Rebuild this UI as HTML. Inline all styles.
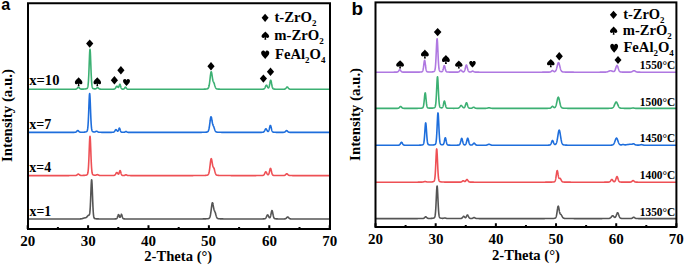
<!DOCTYPE html>
<html><head><meta charset="utf-8"><style>
html,body{margin:0;padding:0;background:#fff;width:685px;height:265px;overflow:hidden;}
svg{display:block;}
</style></head><body>
<svg width="685" height="265" viewBox="0 0 685 265"><rect width="100%" height="100%" fill="#fff"/><g fill="none" stroke-width="1.6" stroke-linejoin="round"><path stroke="#3cb073" d="M28.00,89.30 L28.50,89.30 L29.00,89.30 L29.50,89.30 L30.00,89.30 L30.50,89.30 L31.00,89.30 L31.50,89.30 L32.00,89.30 L32.50,89.30 L33.00,89.30 L33.50,89.30 L34.00,89.30 L34.50,89.30 L35.00,89.30 L35.50,89.30 L36.00,89.30 L36.50,89.30 L37.00,89.30 L37.50,89.30 L38.00,89.30 L38.50,89.30 L39.00,89.30 L39.50,89.30 L40.00,89.30 L40.50,89.30 L41.00,89.30 L41.50,89.30 L42.00,89.30 L42.50,89.30 L43.00,89.30 L43.50,89.30 L44.00,89.29 L44.50,89.29 L45.00,89.29 L45.50,89.29 L46.00,89.29 L46.50,89.29 L47.00,89.29 L47.50,89.29 L48.00,89.29 L48.50,89.29 L49.00,89.29 L49.50,89.29 L50.00,89.29 L50.50,89.29 L51.00,89.29 L51.50,89.29 L52.00,89.29 L52.50,89.29 L53.00,89.29 L53.50,89.29 L54.00,89.29 L54.50,89.29 L55.00,89.29 L55.50,89.29 L56.00,89.29 L56.50,89.29 L57.00,89.29 L57.50,89.29 L58.00,89.29 L58.50,89.29 L59.00,89.29 L59.50,89.29 L60.00,89.29 L60.50,89.29 L61.00,89.29 L61.50,89.29 L62.00,89.29 L62.50,89.29 L63.00,89.29 L63.50,89.28 L64.00,89.28 L64.50,89.28 L65.00,89.28 L65.50,89.28 L66.00,89.28 L66.50,89.28 L67.00,89.28 L67.50,89.28 L68.00,89.28 L68.50,89.28 L69.00,89.27 L69.50,89.27 L70.00,89.27 L70.50,89.27 L71.00,89.27 L71.50,89.26 L72.00,89.26 L72.50,89.26 L73.00,89.25 L73.50,89.25 L74.00,89.24 L74.50,89.23 L74.95,89.22 L75.00,89.22 L75.09,89.21 L75.24,89.21 L75.38,89.20 L75.50,89.19 L75.53,89.18 L75.67,89.17 L75.81,89.14 L75.96,89.11 L76.00,89.10 L76.10,89.08 L76.24,89.03 L76.39,88.96 L76.50,88.91 L76.53,88.89 L76.67,88.79 L76.82,88.68 L76.96,88.55 L77.00,88.52 L77.11,88.41 L77.25,88.25 L77.39,88.08 L77.50,87.95 L77.54,87.91 L77.68,87.74 L77.83,87.58 L77.97,87.44 L78.00,87.41 L78.11,87.33 L78.26,87.26 L78.40,87.24 L78.50,87.25 L78.54,87.26 L78.69,87.33 L78.83,87.43 L78.97,87.57 L79.00,87.59 L79.12,87.72 L79.26,87.89 L79.41,88.06 L79.50,88.17 L79.55,88.22 L79.69,88.38 L79.84,88.52 L79.98,88.65 L80.00,88.66 L80.12,88.76 L80.27,88.85 L80.41,88.92 L80.50,88.96 L80.56,88.98 L80.70,89.03 L80.84,89.06 L80.99,89.09 L81.00,89.09 L81.13,89.10 L81.28,89.12 L81.42,89.13 L81.50,89.13 L81.56,89.13 L81.71,89.13 L81.85,89.13 L82.00,89.13 L82.50,89.13 L83.00,89.11 L83.50,89.09 L84.00,89.06 L84.50,89.03 L85.00,88.98 L85.50,88.91 L86.00,88.82 L86.50,88.68 L87.00,88.43 L87.12,88.32 L87.25,88.19 L87.38,88.01 L87.50,87.77 L87.62,87.45 L87.75,87.02 L87.88,86.45 L88.00,85.70 L88.12,84.73 L88.25,83.50 L88.38,81.98 L88.50,80.12 L88.62,77.92 L88.75,75.37 L88.88,72.49 L89.00,69.34 L89.12,65.99 L89.25,62.57 L89.38,59.20 L89.50,56.06 L89.62,53.34 L89.75,51.21 L89.88,49.85 L90.00,49.39 L90.12,49.85 L90.25,51.21 L90.38,53.33 L90.50,56.06 L90.62,59.20 L90.75,62.56 L90.88,65.99 L91.00,69.33 L91.12,72.49 L91.25,75.36 L91.38,77.91 L91.50,80.12 L91.62,81.97 L91.75,83.50 L91.88,84.72 L92.00,85.69 L92.12,86.44 L92.25,87.01 L92.38,87.44 L92.50,87.76 L92.62,88.00 L92.75,88.18 L92.88,88.31 L93.00,88.42 L93.50,88.66 L94.00,88.79 L94.15,88.82 L94.29,88.85 L94.44,88.87 L94.50,88.87 L94.58,88.88 L94.72,88.89 L94.87,88.90 L95.00,88.90 L95.01,88.90 L95.16,88.90 L95.30,88.88 L95.44,88.86 L95.50,88.85 L95.59,88.83 L95.73,88.78 L95.88,88.72 L96.00,88.66 L96.02,88.65 L96.16,88.57 L96.31,88.47 L96.45,88.36 L96.50,88.32 L96.59,88.24 L96.74,88.12 L96.88,88.00 L97.00,87.90 L97.03,87.89 L97.17,87.79 L97.31,87.72 L97.46,87.67 L97.50,87.66 L97.60,87.66 L97.74,87.68 L97.89,87.74 L98.00,87.80 L98.03,87.82 L98.17,87.93 L98.32,88.05 L98.46,88.18 L98.50,88.21 L98.61,88.31 L98.75,88.44 L98.89,88.56 L99.00,88.65 L99.04,88.67 L99.18,88.77 L99.33,88.86 L99.47,88.93 L99.50,88.94 L99.61,88.99 L99.76,89.04 L99.90,89.08 L100.00,89.10 L100.04,89.11 L100.19,89.13 L100.33,89.15 L100.47,89.16 L100.50,89.17 L100.62,89.17 L100.76,89.18 L100.91,89.19 L101.00,89.19 L101.05,89.19 L101.50,89.21 L102.00,89.22 L102.50,89.22 L103.00,89.23 L103.50,89.24 L104.00,89.24 L104.50,89.24 L105.00,89.25 L105.50,89.25 L106.00,89.25 L106.50,89.25 L107.00,89.25 L107.50,89.25 L108.00,89.25 L108.50,89.25 L109.00,89.25 L109.50,89.25 L110.00,89.25 L110.50,89.25 L111.00,89.24 L111.50,89.24 L112.00,89.23 L112.50,89.22 L113.00,89.21 L113.30,89.20 L113.45,89.19 L113.50,89.19 L113.60,89.18 L113.75,89.16 L113.90,89.14 L114.00,89.13 L114.05,89.12 L114.20,89.09 L114.35,89.04 L114.50,88.98 L114.65,88.91 L114.80,88.82 L114.95,88.70 L115.00,88.66 L115.10,88.56 L115.25,88.39 L115.40,88.20 L115.50,88.05 L115.55,87.98 L115.70,87.74 L115.85,87.48 L116.00,87.22 L116.15,86.97 L116.30,86.73 L116.45,86.52 L116.50,86.46 L116.60,86.35 L116.75,86.24 L116.90,86.20 L117.00,86.21 L117.05,86.22 L117.20,86.31 L117.31,86.42 L117.35,86.46 L117.42,86.54 L117.50,86.63 L117.54,86.68 L117.65,86.83 L117.76,86.98 L117.80,87.03 L117.88,87.12 L117.95,87.21 L117.99,87.25 L118.00,87.26 L118.10,87.34 L118.21,87.40 L118.25,87.41 L118.33,87.42 L118.40,87.40 L118.44,87.39 L118.50,87.35 L118.55,87.30 L118.66,87.16 L118.70,87.10 L118.78,86.95 L118.85,86.79 L118.89,86.70 L119.00,86.40 L119.11,86.05 L119.15,85.94 L119.22,85.69 L119.30,85.45 L119.34,85.33 L119.45,84.99 L119.50,84.84 L119.56,84.68 L119.60,84.60 L119.67,84.45 L119.75,84.34 L119.79,84.30 L119.90,84.26 L120.00,84.32 L120.01,84.34 L120.05,84.38 L120.12,84.51 L120.20,84.68 L120.24,84.78 L120.35,85.12 L120.46,85.52 L120.50,85.65 L120.58,85.93 L120.69,86.36 L120.80,86.77 L120.91,87.16 L121.00,87.44 L121.03,87.52 L121.14,87.83 L121.25,88.10 L121.36,88.33 L121.47,88.52 L121.50,88.56 L121.59,88.67 L121.70,88.79 L121.81,88.88 L121.92,88.95 L122.00,88.99 L122.04,89.01 L122.15,89.05 L122.26,89.07 L122.38,89.10 L122.49,89.11 L122.50,89.11 L122.60,89.12 L122.80,89.13 L122.91,89.13 L123.00,89.13 L123.03,89.13 L123.14,89.13 L123.25,89.12 L123.36,89.11 L123.47,89.09 L123.50,89.09 L123.59,89.07 L123.70,89.03 L123.81,88.98 L123.92,88.92 L124.00,88.87 L124.04,88.85 L124.15,88.75 L124.26,88.64 L124.38,88.51 L124.49,88.36 L124.50,88.34 L124.60,88.19 L124.71,88.02 L124.83,87.84 L124.94,87.66 L125.00,87.57 L125.05,87.50 L125.16,87.36 L125.28,87.25 L125.39,87.18 L125.50,87.16 L125.61,87.18 L125.72,87.25 L125.84,87.37 L125.95,87.51 L126.00,87.58 L126.06,87.68 L126.17,87.86 L126.29,88.04 L126.40,88.21 L126.50,88.36 L126.51,88.38 L126.62,88.53 L126.74,88.67 L126.85,88.79 L126.96,88.88 L127.00,88.91 L127.08,88.96 L127.19,89.03 L127.30,89.08 L127.41,89.12 L127.50,89.15 L127.53,89.15 L127.64,89.18 L127.75,89.19 L127.86,89.21 L127.97,89.22 L128.00,89.22 L128.09,89.22 L128.20,89.23 L128.50,89.24 L129.00,89.25 L129.50,89.26 L130.00,89.26 L130.50,89.27 L131.00,89.27 L131.50,89.27 L132.00,89.28 L132.50,89.28 L133.00,89.28 L133.50,89.28 L134.00,89.28 L134.50,89.28 L135.00,89.28 L135.50,89.29 L136.00,89.29 L136.50,89.29 L137.00,89.29 L137.50,89.29 L138.00,89.29 L138.50,89.29 L139.00,89.29 L139.50,89.29 L140.00,89.29 L140.50,89.29 L141.00,89.29 L141.50,89.29 L142.00,89.29 L142.50,89.29 L143.00,89.29 L143.50,89.29 L144.00,89.29 L144.50,89.29 L145.00,89.29 L145.50,89.29 L146.00,89.29 L146.50,89.29 L147.00,89.29 L147.50,89.29 L148.00,89.29 L148.50,89.29 L149.00,89.29 L149.50,89.29 L150.00,89.29 L150.50,89.29 L151.00,89.29 L151.50,89.29 L152.00,89.29 L152.50,89.29 L153.00,89.29 L153.50,89.29 L154.00,89.29 L154.50,89.29 L155.00,89.29 L155.50,89.29 L156.00,89.29 L156.50,89.29 L157.00,89.29 L157.50,89.29 L158.00,89.29 L158.50,89.29 L159.00,89.29 L159.50,89.29 L160.00,89.29 L160.50,89.29 L161.00,89.29 L161.50,89.29 L162.00,89.29 L162.50,89.29 L163.00,89.29 L163.50,89.29 L164.00,89.29 L164.50,89.29 L165.00,89.29 L165.50,89.29 L166.00,89.29 L166.50,89.29 L167.00,89.29 L167.50,89.29 L168.00,89.29 L168.50,89.29 L169.00,89.29 L169.50,89.29 L170.00,89.29 L170.50,89.29 L171.00,89.29 L171.50,89.29 L172.00,89.29 L172.50,89.29 L173.00,89.29 L173.50,89.29 L174.00,89.29 L174.50,89.29 L175.00,89.29 L175.50,89.29 L176.00,89.29 L176.50,89.29 L177.00,89.29 L177.50,89.29 L178.00,89.29 L178.50,89.29 L179.00,89.29 L179.50,89.29 L180.00,89.29 L180.50,89.29 L181.00,89.29 L181.50,89.29 L182.00,89.29 L182.50,89.29 L183.00,89.29 L183.50,89.29 L184.00,89.29 L184.50,89.29 L185.00,89.29 L185.50,89.29 L186.00,89.29 L186.50,89.29 L187.00,89.29 L187.50,89.28 L188.00,89.28 L188.50,89.28 L189.00,89.28 L189.50,89.28 L190.00,89.28 L190.50,89.28 L191.00,89.28 L191.50,89.28 L192.00,89.28 L192.50,89.28 L193.00,89.28 L193.50,89.27 L194.00,89.27 L194.50,89.27 L195.00,89.27 L195.50,89.27 L196.00,89.27 L196.50,89.26 L197.00,89.26 L197.50,89.26 L198.00,89.26 L198.50,89.25 L199.00,89.25 L199.50,89.25 L200.00,89.24 L200.50,89.24 L201.00,89.23 L201.50,89.22 L202.00,89.22 L202.50,89.21 L203.00,89.20 L203.50,89.18 L204.00,89.17 L204.50,89.15 L205.00,89.12 L205.50,89.10 L206.00,89.06 L206.50,89.01 L207.00,88.93 L207.15,88.90 L207.32,88.85 L207.49,88.79 L207.50,88.78 L207.66,88.71 L207.82,88.61 L207.99,88.46 L208.00,88.46 L208.16,88.28 L208.33,88.03 L208.50,87.70 L208.67,87.28 L208.84,86.75 L209.00,86.12 L209.01,86.09 L209.18,85.29 L209.34,84.33 L209.50,83.31 L209.51,83.23 L209.68,81.98 L209.85,80.62 L210.00,79.33 L210.02,79.16 L210.19,77.67 L210.30,76.70 L210.36,76.22 L210.45,75.44 L210.50,75.04 L210.53,74.85 L210.60,74.29 L210.69,73.65 L210.75,73.30 L210.86,72.70 L210.90,72.53 L211.00,72.16 L211.03,72.07 L211.05,72.03 L211.20,71.81 L211.35,71.90 L211.37,71.93 L211.50,72.27 L211.54,72.40 L211.65,72.89 L211.71,73.17 L211.80,73.70 L211.88,74.16 L211.95,74.64 L212.00,74.98 L212.04,75.27 L212.10,75.66 L212.21,76.42 L212.25,76.68 L212.38,77.55 L212.40,77.67 L212.50,78.30 L212.55,78.59 L212.70,79.41 L212.72,79.51 L212.85,80.11 L212.89,80.27 L213.00,80.70 L213.06,80.89 L213.15,81.17 L213.22,81.37 L213.30,81.56 L213.39,81.76 L213.45,81.88 L213.50,81.97 L213.56,82.09 L213.60,82.16 L213.73,82.41 L213.75,82.44 L213.90,82.75 L214.00,82.98 L214.05,83.10 L214.07,83.15 L214.20,83.50 L214.24,83.60 L214.35,83.94 L214.41,84.12 L214.50,84.42 L214.57,84.67 L214.65,84.92 L214.74,85.24 L214.80,85.43 L214.91,85.80 L214.95,85.92 L215.00,86.08 L215.08,86.33 L215.10,86.39 L215.25,86.82 L215.40,87.21 L215.50,87.45 L215.55,87.56 L215.70,87.86 L215.85,88.11 L216.00,88.32 L216.15,88.49 L216.30,88.62 L216.45,88.73 L216.50,88.76 L216.60,88.81 L216.75,88.87 L216.90,88.92 L217.00,88.95 L217.05,88.96 L217.20,88.99 L217.35,89.02 L217.50,89.04 L218.00,89.09 L218.50,89.12 L219.00,89.15 L219.50,89.17 L220.00,89.18 L220.50,89.19 L221.00,89.21 L221.50,89.22 L222.00,89.22 L222.50,89.23 L223.00,89.24 L223.50,89.24 L224.00,89.25 L224.50,89.25 L225.00,89.25 L225.50,89.26 L226.00,89.26 L226.50,89.26 L227.00,89.26 L227.50,89.27 L228.00,89.27 L228.50,89.27 L229.00,89.27 L229.50,89.27 L230.00,89.27 L230.50,89.27 L231.00,89.28 L231.50,89.28 L232.00,89.28 L232.50,89.28 L233.00,89.28 L233.50,89.28 L234.00,89.28 L234.50,89.28 L235.00,89.28 L235.50,89.28 L236.00,89.28 L236.50,89.28 L237.00,89.28 L237.50,89.28 L238.00,89.28 L238.50,89.28 L239.00,89.29 L239.50,89.29 L240.00,89.29 L240.50,89.29 L241.00,89.29 L241.50,89.29 L242.00,89.29 L242.50,89.29 L243.00,89.29 L243.50,89.29 L244.00,89.29 L244.50,89.29 L245.00,89.29 L245.50,89.29 L246.00,89.29 L246.50,89.29 L247.00,89.29 L247.50,89.29 L248.00,89.29 L248.50,89.29 L249.00,89.29 L249.50,89.28 L250.00,89.28 L250.50,89.28 L251.00,89.28 L251.50,89.28 L252.00,89.28 L252.50,89.28 L253.00,89.28 L253.50,89.28 L254.00,89.28 L254.50,89.28 L255.00,89.28 L255.50,89.28 L256.00,89.27 L256.50,89.27 L257.00,89.27 L257.50,89.27 L258.00,89.27 L258.50,89.26 L259.00,89.26 L259.50,89.25 L260.00,89.25 L260.50,89.24 L261.00,89.23 L261.50,89.22 L262.00,89.21 L262.50,89.19 L262.80,89.18 L262.95,89.16 L263.00,89.16 L263.10,89.15 L263.25,89.13 L263.40,89.10 L263.50,89.08 L263.55,89.07 L263.70,89.02 L263.85,88.97 L264.00,88.89 L264.15,88.79 L264.30,88.66 L264.45,88.51 L264.50,88.45 L264.60,88.32 L264.75,88.10 L264.90,87.84 L265.00,87.65 L265.05,87.55 L265.20,87.23 L265.35,86.89 L265.50,86.54 L265.65,86.20 L265.80,85.88 L265.95,85.60 L266.00,85.52 L266.10,85.38 L266.25,85.24 L266.40,85.18 L266.50,85.20 L266.55,85.22 L266.70,85.35 L266.85,85.55 L267.00,85.82 L267.15,86.12 L267.30,86.44 L267.40,86.65 L267.45,86.76 L267.50,86.86 L267.54,86.94 L267.60,87.06 L267.68,87.21 L267.75,87.34 L267.81,87.45 L267.90,87.58 L267.95,87.65 L268.00,87.71 L268.05,87.76 L268.09,87.80 L268.20,87.88 L268.23,87.90 L268.35,87.93 L268.36,87.94 L268.50,87.91 L268.64,87.80 L268.65,87.79 L268.77,87.62 L268.80,87.57 L268.91,87.35 L268.95,87.25 L269.00,87.12 L269.05,86.98 L269.10,86.83 L269.19,86.53 L269.25,86.29 L269.32,85.99 L269.40,85.66 L269.46,85.37 L269.50,85.18 L269.55,84.93 L269.60,84.67 L269.70,84.14 L269.74,83.93 L269.85,83.31 L269.88,83.17 L270.00,82.49 L270.01,82.43 L270.15,81.72 L270.29,81.12 L270.43,80.64 L270.50,80.45 L270.56,80.34 L270.70,80.24 L270.84,80.34 L270.98,80.65 L271.00,80.73 L271.11,81.14 L271.25,81.75 L271.39,82.46 L271.50,83.09 L271.52,83.23 L271.66,84.00 L271.80,84.76 L271.94,85.47 L272.00,85.77 L272.07,86.12 L272.21,86.70 L272.35,87.20 L272.49,87.62 L272.50,87.65 L272.62,87.96 L272.76,88.24 L272.90,88.46 L273.00,88.59 L273.04,88.63 L273.18,88.76 L273.31,88.86 L273.45,88.93 L273.50,88.95 L273.59,88.98 L273.73,89.02 L273.86,89.06 L274.00,89.08 L274.50,89.14 L275.00,89.17 L275.50,89.19 L276.00,89.21 L276.50,89.22 L277.00,89.23 L277.50,89.24 L278.00,89.24 L278.50,89.25 L279.00,89.25 L279.50,89.25 L280.00,89.25 L280.50,89.26 L281.00,89.26 L281.50,89.26 L282.00,89.25 L282.50,89.25 L283.00,89.24 L283.50,89.23 L283.60,89.23 L283.75,89.23 L283.90,89.22 L284.00,89.21 L284.05,89.21 L284.20,89.20 L284.35,89.18 L284.50,89.15 L284.65,89.12 L284.80,89.08 L284.95,89.02 L285.00,89.00 L285.10,88.95 L285.25,88.86 L285.40,88.76 L285.50,88.67 L285.55,88.63 L285.70,88.48 L285.85,88.32 L286.00,88.14 L286.15,87.94 L286.30,87.75 L286.45,87.55 L286.50,87.49 L286.60,87.37 L286.75,87.21 L286.90,87.09 L287.00,87.03 L287.05,87.01 L287.20,86.99 L287.35,87.01 L287.50,87.09 L287.65,87.22 L287.80,87.37 L287.95,87.55 L288.00,87.62 L288.10,87.75 L288.25,87.95 L288.40,88.14 L288.50,88.26 L288.55,88.32 L288.70,88.49 L288.85,88.63 L289.00,88.76 L289.15,88.87 L289.30,88.96 L289.45,89.03 L289.50,89.05 L289.60,89.08 L289.75,89.13 L289.90,89.16 L290.00,89.18 L290.05,89.18 L290.20,89.20 L290.35,89.22 L290.50,89.23 L290.65,89.24 L290.80,89.24 L291.00,89.25 L291.50,89.26 L292.00,89.26 L292.50,89.27 L293.00,89.27 L293.50,89.28 L294.00,89.28 L294.50,89.28 L295.00,89.28 L295.50,89.28 L296.00,89.29 L296.50,89.29 L297.00,89.29 L297.50,89.29 L298.00,89.29 L298.50,89.29 L299.00,89.29 L299.50,89.29 L300.00,89.29 L300.50,89.29 L301.00,89.29 L301.50,89.29 L302.00,89.29 L302.50,89.29 L303.00,89.29 L303.50,89.29 L304.00,89.29 L304.50,89.29 L305.00,89.29 L305.50,89.29 L306.00,89.29 L306.50,89.29 L307.00,89.29 L307.50,89.30 L308.00,89.30 L308.50,89.30 L309.00,89.30 L309.50,89.30 L310.00,89.30 L310.50,89.30 L311.00,89.30 L311.50,89.30 L312.00,89.30 L312.50,89.30 L313.00,89.30 L313.50,89.30 L314.00,89.30 L314.50,89.30 L315.00,89.30 L315.50,89.30 L316.00,89.30 L316.50,89.30 L317.00,89.30 L317.50,89.30 L318.00,89.30 L318.50,89.30 L319.00,89.30 L319.50,89.30 L320.00,89.30 L320.50,89.30 L321.00,89.30 L321.50,89.30 L322.00,89.30 L322.50,89.30 L323.00,89.30 L323.50,89.30 L324.00,89.30 L324.50,89.30 L325.00,89.30 L325.50,89.30 L326.00,89.30 L326.50,89.30 L327.00,89.30 L327.50,89.30 L328.00,89.30 L328.50,89.30 L329.00,89.30 L329.50,89.30 L330.00,89.30"/><path stroke="#1e6edc" d="M28.00,132.40 L28.50,132.40 L29.00,132.40 L29.50,132.40 L30.00,132.40 L30.50,132.40 L31.00,132.40 L31.50,132.40 L32.00,132.40 L32.50,132.40 L33.00,132.40 L33.50,132.40 L34.00,132.40 L34.50,132.40 L35.00,132.40 L35.50,132.40 L36.00,132.40 L36.50,132.40 L37.00,132.40 L37.50,132.40 L38.00,132.40 L38.50,132.40 L39.00,132.40 L39.50,132.40 L40.00,132.40 L40.50,132.40 L41.00,132.40 L41.50,132.40 L42.00,132.40 L42.50,132.40 L43.00,132.40 L43.50,132.40 L44.00,132.40 L44.50,132.40 L45.00,132.39 L45.50,132.39 L46.00,132.39 L46.50,132.39 L47.00,132.39 L47.50,132.39 L48.00,132.39 L48.50,132.39 L49.00,132.39 L49.50,132.39 L50.00,132.39 L50.50,132.39 L51.00,132.39 L51.50,132.39 L52.00,132.39 L52.50,132.39 L53.00,132.39 L53.50,132.39 L54.00,132.39 L54.50,132.39 L55.00,132.39 L55.50,132.39 L56.00,132.39 L56.50,132.39 L57.00,132.39 L57.50,132.39 L58.00,132.39 L58.50,132.39 L59.00,132.39 L59.50,132.39 L60.00,132.39 L60.50,132.39 L61.00,132.39 L61.50,132.39 L62.00,132.39 L62.50,132.39 L63.00,132.39 L63.50,132.39 L64.00,132.38 L64.50,132.38 L65.00,132.38 L65.50,132.38 L66.00,132.38 L66.50,132.38 L67.00,132.38 L67.50,132.38 L68.00,132.38 L68.50,132.38 L69.00,132.37 L69.50,132.37 L70.00,132.37 L70.50,132.37 L71.00,132.37 L71.50,132.36 L72.00,132.36 L72.50,132.36 L73.00,132.35 L73.50,132.34 L74.00,132.34 L74.35,132.33 L74.49,132.32 L74.50,132.32 L74.64,132.31 L74.78,132.31 L74.92,132.29 L75.00,132.29 L75.07,132.28 L75.21,132.26 L75.36,132.23 L75.50,132.20 L75.64,132.15 L75.79,132.10 L75.93,132.03 L76.00,131.99 L76.08,131.94 L76.22,131.84 L76.36,131.73 L76.50,131.60 L76.51,131.60 L76.65,131.45 L76.79,131.30 L76.94,131.14 L77.00,131.08 L77.08,130.99 L77.22,130.85 L77.37,130.72 L77.50,130.63 L77.51,130.63 L77.66,130.57 L77.80,130.54 L77.94,130.56 L78.00,130.58 L78.09,130.62 L78.23,130.72 L78.38,130.84 L78.50,130.96 L78.52,130.98 L78.66,131.13 L78.81,131.28 L78.95,131.43 L79.00,131.48 L79.09,131.57 L79.24,131.70 L79.38,131.81 L79.50,131.89 L79.53,131.91 L79.67,131.99 L79.81,132.06 L79.96,132.11 L80.00,132.12 L80.10,132.15 L80.24,132.18 L80.39,132.21 L80.50,132.22 L80.53,132.22 L80.67,132.23 L80.82,132.24 L80.96,132.25 L81.00,132.25 L81.11,132.25 L81.25,132.25 L81.50,132.25 L82.00,132.24 L82.50,132.23 L83.00,132.21 L83.50,132.18 L84.00,132.15 L84.50,132.10 L85.00,132.04 L85.50,131.96 L86.00,131.84 L86.50,131.65 L86.65,131.55 L86.78,131.45 L86.90,131.32 L87.00,131.18 L87.03,131.14 L87.15,130.91 L87.28,130.60 L87.40,130.18 L87.50,129.75 L87.53,129.63 L87.65,128.90 L87.78,127.96 L87.90,126.76 L88.00,125.60 L88.03,125.28 L88.15,123.48 L88.28,121.33 L88.40,118.85 L88.50,116.64 L88.53,116.05 L88.65,112.99 L88.78,109.74 L88.90,106.40 L89.00,103.77 L89.03,103.13 L89.15,100.08 L89.28,97.43 L89.40,95.36 L89.50,94.24 L89.53,94.04 L89.65,93.59 L89.78,94.04 L89.90,95.36 L90.00,96.96 L90.03,97.43 L90.15,100.08 L90.28,103.13 L90.40,106.40 L90.50,109.07 L90.53,109.73 L90.65,112.99 L90.78,116.05 L90.90,118.85 L91.00,120.86 L91.03,121.33 L91.15,123.47 L91.28,125.28 L91.40,126.76 L91.50,127.74 L91.53,127.95 L91.65,128.89 L91.78,129.62 L91.90,130.17 L92.00,130.52 L92.03,130.59 L92.15,130.90 L92.28,131.14 L92.40,131.31 L92.50,131.42 L92.53,131.44 L92.65,131.54 L93.00,131.73 L93.15,131.78 L93.29,131.82 L93.44,131.86 L93.50,131.87 L93.58,131.89 L93.72,131.92 L93.87,131.94 L94.00,131.95 L94.01,131.95 L94.16,131.96 L94.30,131.96 L94.44,131.96 L94.50,131.95 L94.59,131.94 L94.73,131.92 L94.88,131.89 L95.00,131.86 L95.02,131.85 L95.16,131.80 L95.31,131.74 L95.45,131.67 L95.50,131.65 L95.59,131.60 L95.74,131.52 L95.88,131.45 L96.00,131.39 L96.03,131.38 L96.17,131.32 L96.31,131.27 L96.46,131.24 L96.50,131.24 L96.60,131.24 L96.74,131.26 L96.89,131.29 L97.00,131.34 L97.03,131.35 L97.17,131.43 L97.32,131.51 L97.46,131.60 L97.50,131.62 L97.61,131.69 L97.75,131.78 L97.89,131.86 L98.00,131.92 L98.04,131.94 L98.18,132.00 L98.33,132.06 L98.47,132.11 L98.50,132.12 L98.61,132.15 L98.76,132.19 L98.90,132.21 L99.00,132.23 L99.04,132.24 L99.19,132.25 L99.33,132.27 L99.47,132.28 L99.50,132.28 L99.62,132.28 L99.76,132.29 L99.91,132.30 L100.00,132.30 L100.05,132.30 L100.50,132.31 L101.00,132.32 L101.50,132.33 L102.00,132.33 L102.50,132.34 L103.00,132.34 L103.50,132.35 L104.00,132.35 L104.50,132.35 L105.00,132.35 L105.50,132.35 L106.00,132.35 L106.50,132.36 L107.00,132.36 L107.50,132.36 L108.00,132.36 L108.50,132.36 L109.00,132.35 L109.50,132.35 L110.00,132.35 L110.50,132.35 L111.00,132.34 L111.50,132.33 L112.00,132.32 L112.40,132.31 L112.50,132.31 L112.55,132.30 L112.70,132.29 L112.85,132.28 L113.00,132.26 L113.15,132.24 L113.30,132.21 L113.45,132.17 L113.50,132.16 L113.60,132.12 L113.75,132.05 L113.90,131.97 L114.00,131.90 L114.05,131.87 L114.20,131.74 L114.35,131.59 L114.50,131.41 L114.65,131.22 L114.80,131.00 L114.95,130.78 L115.00,130.70 L115.10,130.54 L115.25,130.31 L115.40,130.10 L115.50,129.97 L115.55,129.91 L115.70,129.76 L115.85,129.67 L116.00,129.63 L116.15,129.66 L116.30,129.74 L116.45,129.88 L116.50,129.93 L116.60,130.05 L116.70,130.19 L116.75,130.25 L116.81,130.34 L116.90,130.47 L116.92,130.50 L117.00,130.60 L117.04,130.66 L117.05,130.67 L117.15,130.80 L117.20,130.86 L117.26,130.93 L117.35,131.02 L117.38,131.04 L117.49,131.13 L117.50,131.14 L117.60,131.18 L117.65,131.20 L117.71,131.20 L117.80,131.19 L117.83,131.18 L117.94,131.11 L117.95,131.10 L118.00,131.05 L118.05,131.00 L118.10,130.93 L118.16,130.83 L118.25,130.68 L118.28,130.62 L118.39,130.37 L118.40,130.34 L118.50,130.08 L118.55,129.94 L118.61,129.76 L118.70,129.50 L118.72,129.43 L118.84,129.09 L118.85,129.06 L118.95,128.78 L119.00,128.65 L119.06,128.51 L119.15,128.33 L119.17,128.29 L119.29,128.16 L119.30,128.15 L119.40,128.12 L119.45,128.13 L119.50,128.16 L119.51,128.17 L119.60,128.28 L119.62,128.32 L119.74,128.55 L119.85,128.84 L119.96,129.17 L120.00,129.29 L120.08,129.53 L120.19,129.89 L120.30,130.25 L120.41,130.58 L120.50,130.82 L120.53,130.88 L120.64,131.16 L120.75,131.39 L120.86,131.59 L120.97,131.75 L121.00,131.78 L121.09,131.88 L121.20,131.98 L121.31,132.06 L121.42,132.12 L121.50,132.15 L121.54,132.17 L121.65,132.20 L121.76,132.23 L121.88,132.25 L121.99,132.26 L122.00,132.26 L122.10,132.27 L122.50,132.30 L123.00,132.31 L123.30,132.32 L123.41,132.32 L123.50,132.32 L123.53,132.32 L123.64,132.31 L123.75,132.31 L123.86,132.31 L123.97,132.30 L124.00,132.30 L124.09,132.29 L124.20,132.27 L124.31,132.25 L124.42,132.22 L124.50,132.20 L124.54,132.19 L124.65,132.15 L124.76,132.10 L124.88,132.05 L124.99,131.98 L125.00,131.98 L125.10,131.91 L125.21,131.84 L125.33,131.76 L125.44,131.69 L125.50,131.65 L125.55,131.62 L125.66,131.56 L125.78,131.51 L125.89,131.48 L126.00,131.47 L126.11,131.48 L126.22,131.51 L126.34,131.56 L126.45,131.62 L126.50,131.65 L126.56,131.69 L126.67,131.77 L126.79,131.85 L126.90,131.92 L127.00,131.99 L127.01,132.00 L127.12,132.06 L127.24,132.12 L127.35,132.17 L127.46,132.21 L127.50,132.22 L127.58,132.25 L127.69,132.27 L127.80,132.30 L127.91,132.31 L128.00,132.32 L128.03,132.33 L128.14,132.34 L128.25,132.35 L128.36,132.35 L128.47,132.36 L128.50,132.36 L128.59,132.36 L128.70,132.36 L129.00,132.37 L129.50,132.37 L130.00,132.38 L130.50,132.38 L131.00,132.38 L131.50,132.38 L132.00,132.38 L132.50,132.38 L133.00,132.38 L133.50,132.39 L134.00,132.39 L134.50,132.39 L135.00,132.39 L135.50,132.39 L136.00,132.39 L136.50,132.39 L137.00,132.39 L137.50,132.39 L138.00,132.39 L138.50,132.39 L139.00,132.39 L139.50,132.39 L140.00,132.39 L140.50,132.39 L141.00,132.39 L141.50,132.39 L142.00,132.39 L142.50,132.39 L143.00,132.39 L143.50,132.39 L144.00,132.39 L144.50,132.39 L145.00,132.39 L145.50,132.39 L146.00,132.39 L146.50,132.39 L147.00,132.39 L147.50,132.39 L148.00,132.39 L148.50,132.39 L149.00,132.39 L149.50,132.39 L150.00,132.39 L150.50,132.39 L151.00,132.39 L151.50,132.39 L152.00,132.39 L152.50,132.39 L153.00,132.39 L153.50,132.39 L154.00,132.39 L154.50,132.39 L155.00,132.39 L155.50,132.39 L156.00,132.39 L156.50,132.39 L157.00,132.39 L157.50,132.39 L158.00,132.39 L158.50,132.39 L159.00,132.39 L159.50,132.39 L160.00,132.39 L160.50,132.39 L161.00,132.39 L161.50,132.39 L162.00,132.39 L162.50,132.39 L163.00,132.39 L163.50,132.39 L164.00,132.39 L164.50,132.39 L165.00,132.39 L165.50,132.39 L166.00,132.39 L166.50,132.39 L167.00,132.39 L167.50,132.39 L168.00,132.39 L168.50,132.39 L169.00,132.39 L169.50,132.39 L170.00,132.39 L170.50,132.39 L171.00,132.39 L171.50,132.39 L172.00,132.39 L172.50,132.39 L173.00,132.39 L173.50,132.39 L174.00,132.39 L174.50,132.39 L175.00,132.39 L175.50,132.39 L176.00,132.39 L176.50,132.39 L177.00,132.39 L177.50,132.39 L178.00,132.39 L178.50,132.39 L179.00,132.39 L179.50,132.39 L180.00,132.39 L180.50,132.39 L181.00,132.39 L181.50,132.39 L182.00,132.39 L182.50,132.39 L183.00,132.39 L183.50,132.39 L184.00,132.39 L184.50,132.39 L185.00,132.39 L185.50,132.39 L186.00,132.39 L186.50,132.39 L187.00,132.39 L187.50,132.39 L188.00,132.39 L188.50,132.39 L189.00,132.38 L189.50,132.38 L190.00,132.38 L190.50,132.38 L191.00,132.38 L191.50,132.38 L192.00,132.38 L192.50,132.38 L193.00,132.38 L193.50,132.38 L194.00,132.38 L194.50,132.37 L195.00,132.37 L195.50,132.37 L196.00,132.37 L196.50,132.37 L197.00,132.37 L197.50,132.36 L198.00,132.36 L198.50,132.36 L199.00,132.35 L199.50,132.35 L200.00,132.35 L200.50,132.34 L201.00,132.34 L201.50,132.33 L202.00,132.32 L202.50,132.31 L203.00,132.30 L203.50,132.29 L204.00,132.27 L204.50,132.26 L205.00,132.23 L205.50,132.21 L206.00,132.17 L206.50,132.12 L206.95,132.04 L207.00,132.03 L207.12,132.00 L207.29,131.95 L207.46,131.87 L207.50,131.85 L207.62,131.78 L207.79,131.66 L207.96,131.49 L208.00,131.44 L208.13,131.27 L208.30,130.98 L208.47,130.60 L208.50,130.52 L208.64,130.13 L208.81,129.54 L208.97,128.83 L209.00,128.71 L209.14,127.98 L209.31,127.00 L209.48,125.89 L209.50,125.76 L209.65,124.67 L209.82,123.38 L209.99,122.05 L210.00,121.96 L210.15,120.80 L210.16,120.75 L210.30,119.70 L210.32,119.53 L210.45,118.72 L210.49,118.46 L210.50,118.43 L210.60,117.90 L210.66,117.61 L210.75,117.28 L210.83,117.05 L210.90,116.91 L211.00,116.80 L211.05,116.79 L211.17,116.89 L211.20,116.94 L211.34,117.29 L211.35,117.33 L211.50,117.93 L211.51,117.95 L211.65,118.67 L211.68,118.80 L211.80,119.50 L211.84,119.76 L211.95,120.39 L212.00,120.68 L212.01,120.75 L212.10,121.26 L212.18,121.72 L212.25,122.10 L212.35,122.62 L212.40,122.87 L212.50,123.33 L212.52,123.41 L212.55,123.54 L212.69,124.08 L212.70,124.12 L212.85,124.61 L212.86,124.63 L213.00,125.02 L213.03,125.08 L213.15,125.37 L213.19,125.46 L213.30,125.68 L213.36,125.81 L213.45,125.99 L213.50,126.09 L213.53,126.16 L213.60,126.31 L213.70,126.54 L213.75,126.67 L213.87,126.98 L213.90,127.06 L214.00,127.34 L214.04,127.45 L214.05,127.49 L214.20,127.94 L214.21,127.96 L214.35,128.41 L214.38,128.48 L214.50,128.87 L214.54,129.01 L214.65,129.33 L214.71,129.51 L214.80,129.75 L214.88,129.97 L214.95,130.15 L215.00,130.27 L215.05,130.39 L215.10,130.51 L215.25,130.82 L215.40,131.09 L215.50,131.25 L215.55,131.32 L215.70,131.51 L215.85,131.66 L216.00,131.78 L216.15,131.88 L216.30,131.96 L216.45,132.01 L216.50,132.03 L216.60,132.06 L216.75,132.09 L216.90,132.12 L217.00,132.14 L217.05,132.14 L217.20,132.16 L217.50,132.19 L218.00,132.23 L218.50,132.25 L219.00,132.27 L219.50,132.29 L220.00,132.30 L220.50,132.31 L221.00,132.32 L221.50,132.33 L222.00,132.33 L222.50,132.34 L223.00,132.35 L223.50,132.35 L224.00,132.35 L224.50,132.36 L225.00,132.36 L225.50,132.36 L226.00,132.36 L226.50,132.37 L227.00,132.37 L227.50,132.37 L228.00,132.37 L228.50,132.37 L229.00,132.38 L229.50,132.38 L230.00,132.38 L230.50,132.38 L231.00,132.38 L231.50,132.38 L232.00,132.38 L232.50,132.38 L233.00,132.38 L233.50,132.38 L234.00,132.38 L234.50,132.38 L235.00,132.38 L235.50,132.38 L236.00,132.39 L236.50,132.39 L237.00,132.39 L237.50,132.39 L238.00,132.39 L238.50,132.39 L239.00,132.39 L239.50,132.39 L240.00,132.39 L240.50,132.39 L241.00,132.39 L241.50,132.39 L242.00,132.39 L242.50,132.39 L243.00,132.39 L243.50,132.39 L244.00,132.39 L244.50,132.39 L245.00,132.39 L245.50,132.39 L246.00,132.39 L246.50,132.39 L247.00,132.39 L247.50,132.39 L248.00,132.39 L248.50,132.39 L249.00,132.39 L249.50,132.39 L250.00,132.39 L250.50,132.39 L251.00,132.39 L251.50,132.39 L252.00,132.38 L252.50,132.38 L253.00,132.38 L253.50,132.38 L254.00,132.38 L254.50,132.38 L255.00,132.38 L255.50,132.38 L256.00,132.38 L256.50,132.38 L257.00,132.37 L257.50,132.37 L258.00,132.37 L258.50,132.37 L259.00,132.36 L259.50,132.36 L260.00,132.35 L260.50,132.35 L261.00,132.34 L261.50,132.33 L262.00,132.31 L262.30,132.30 L262.45,132.29 L262.50,132.28 L262.60,132.27 L262.75,132.26 L262.90,132.23 L263.00,132.22 L263.05,132.20 L263.20,132.17 L263.35,132.11 L263.50,132.05 L263.65,131.96 L263.80,131.85 L263.95,131.72 L264.00,131.66 L264.10,131.55 L264.25,131.36 L264.40,131.13 L264.50,130.96 L264.55,130.88 L264.70,130.60 L264.85,130.30 L265.00,130.00 L265.15,129.70 L265.30,129.42 L265.45,129.18 L265.50,129.11 L265.60,128.99 L265.75,128.86 L265.90,128.82 L266.00,128.83 L266.05,128.85 L266.20,128.97 L266.35,129.15 L266.50,129.38 L266.65,129.65 L266.80,129.93 L266.95,130.22 L267.00,130.31 L267.10,130.50 L267.24,130.73 L267.25,130.75 L267.38,130.94 L267.40,130.98 L267.50,131.11 L267.51,131.12 L267.55,131.17 L267.65,131.27 L267.70,131.31 L267.79,131.37 L267.85,131.41 L267.93,131.43 L268.00,131.45 L268.06,131.44 L268.15,131.43 L268.20,131.41 L268.30,131.34 L268.34,131.31 L268.45,131.19 L268.48,131.16 L268.50,131.12 L268.60,130.96 L268.61,130.94 L268.75,130.65 L268.89,130.30 L268.90,130.26 L269.00,129.95 L269.02,129.87 L269.05,129.79 L269.16,129.39 L269.20,129.25 L269.30,128.86 L269.35,128.65 L269.44,128.29 L269.50,128.02 L269.57,127.70 L269.71,127.13 L269.85,126.59 L269.99,126.12 L270.00,126.08 L270.12,125.76 L270.26,125.53 L270.40,125.45 L270.50,125.49 L270.54,125.53 L270.68,125.77 L270.81,126.14 L270.95,126.61 L271.00,126.80 L271.09,127.16 L271.23,127.74 L271.36,128.33 L271.50,128.91 L271.64,129.46 L271.77,129.96 L271.91,130.40 L272.00,130.65 L272.05,130.78 L272.19,131.11 L272.32,131.37 L272.46,131.58 L272.50,131.63 L272.60,131.75 L272.74,131.88 L272.88,131.98 L273.00,132.05 L273.01,132.06 L273.15,132.11 L273.29,132.16 L273.43,132.19 L273.50,132.20 L273.56,132.21 L273.70,132.23 L274.00,132.26 L274.50,132.29 L275.00,132.31 L275.50,132.32 L276.00,132.33 L276.50,132.34 L277.00,132.35 L277.50,132.35 L278.00,132.36 L278.50,132.36 L279.00,132.36 L279.50,132.36 L280.00,132.36 L280.50,132.36 L281.00,132.36 L281.50,132.36 L282.00,132.36 L282.50,132.36 L283.00,132.35 L283.15,132.34 L283.30,132.34 L283.45,132.33 L283.50,132.33 L283.60,132.32 L283.75,132.31 L283.90,132.29 L284.00,132.27 L284.05,132.26 L284.20,132.23 L284.35,132.19 L284.50,132.13 L284.65,132.07 L284.80,131.99 L284.95,131.89 L285.00,131.85 L285.10,131.78 L285.25,131.65 L285.40,131.51 L285.50,131.42 L285.55,131.37 L285.70,131.22 L285.85,131.07 L286.00,130.93 L286.15,130.81 L286.30,130.72 L286.45,130.66 L286.50,130.65 L286.60,130.64 L286.75,130.66 L286.90,130.72 L287.00,130.78 L287.05,130.81 L287.20,130.93 L287.35,131.07 L287.50,131.22 L287.65,131.37 L287.80,131.52 L287.95,131.65 L288.00,131.70 L288.10,131.78 L288.25,131.89 L288.40,131.99 L288.50,132.05 L288.55,132.07 L288.70,132.14 L288.85,132.19 L289.00,132.23 L289.15,132.27 L289.30,132.29 L289.45,132.31 L289.50,132.32 L289.60,132.33 L289.75,132.34 L289.90,132.34 L290.00,132.35 L290.05,132.35 L290.20,132.35 L290.50,132.36 L291.00,132.37 L291.50,132.37 L292.00,132.38 L292.50,132.38 L293.00,132.38 L293.50,132.38 L294.00,132.39 L294.50,132.39 L295.00,132.39 L295.50,132.39 L296.00,132.39 L296.50,132.39 L297.00,132.39 L297.50,132.39 L298.00,132.39 L298.50,132.39 L299.00,132.39 L299.50,132.39 L300.00,132.39 L300.50,132.39 L301.00,132.39 L301.50,132.39 L302.00,132.39 L302.50,132.39 L303.00,132.39 L303.50,132.39 L304.00,132.40 L304.50,132.40 L305.00,132.40 L305.50,132.40 L306.00,132.40 L306.50,132.40 L307.00,132.40 L307.50,132.40 L308.00,132.40 L308.50,132.40 L309.00,132.40 L309.50,132.40 L310.00,132.40 L310.50,132.40 L311.00,132.40 L311.50,132.40 L312.00,132.40 L312.50,132.40 L313.00,132.40 L313.50,132.40 L314.00,132.40 L314.50,132.40 L315.00,132.40 L315.50,132.40 L316.00,132.40 L316.50,132.40 L317.00,132.40 L317.50,132.40 L318.00,132.40 L318.50,132.40 L319.00,132.40 L319.50,132.40 L320.00,132.40 L320.50,132.40 L321.00,132.40 L321.50,132.40 L322.00,132.40 L322.50,132.40 L323.00,132.40 L323.50,132.40 L324.00,132.40 L324.50,132.40 L325.00,132.40 L325.50,132.40 L326.00,132.40 L326.50,132.40 L327.00,132.40 L327.50,132.40 L328.00,132.40 L328.50,132.40 L329.00,132.40 L329.50,132.40 L330.00,132.40"/><path stroke="#ee5055" d="M28.00,175.60 L28.50,175.60 L29.00,175.60 L29.50,175.60 L30.00,175.60 L30.50,175.60 L31.00,175.60 L31.50,175.60 L32.00,175.60 L32.50,175.60 L33.00,175.60 L33.50,175.60 L34.00,175.60 L34.50,175.60 L35.00,175.60 L35.50,175.60 L36.00,175.60 L36.50,175.60 L37.00,175.60 L37.50,175.60 L38.00,175.60 L38.50,175.60 L39.00,175.60 L39.50,175.60 L40.00,175.60 L40.50,175.60 L41.00,175.60 L41.50,175.60 L42.00,175.60 L42.50,175.60 L43.00,175.60 L43.50,175.60 L44.00,175.60 L44.50,175.60 L45.00,175.60 L45.50,175.59 L46.00,175.59 L46.50,175.59 L47.00,175.59 L47.50,175.59 L48.00,175.59 L48.50,175.59 L49.00,175.59 L49.50,175.59 L50.00,175.59 L50.50,175.59 L51.00,175.59 L51.50,175.59 L52.00,175.59 L52.50,175.59 L53.00,175.59 L53.50,175.59 L54.00,175.59 L54.50,175.59 L55.00,175.59 L55.50,175.59 L56.00,175.59 L56.50,175.59 L57.00,175.59 L57.50,175.59 L58.00,175.59 L58.50,175.59 L59.00,175.59 L59.50,175.59 L60.00,175.59 L60.50,175.59 L61.00,175.59 L61.50,175.59 L62.00,175.59 L62.50,175.59 L63.00,175.59 L63.50,175.59 L64.00,175.59 L64.50,175.58 L65.00,175.58 L65.50,175.58 L66.00,175.58 L66.50,175.58 L67.00,175.58 L67.50,175.58 L68.00,175.58 L68.50,175.58 L69.00,175.58 L69.50,175.57 L70.00,175.57 L70.50,175.57 L71.00,175.57 L71.50,175.57 L72.00,175.56 L72.50,175.56 L73.00,175.56 L73.50,175.55 L74.00,175.55 L74.50,175.54 L74.85,175.53 L74.99,175.53 L75.00,175.53 L75.14,175.52 L75.28,175.52 L75.42,175.51 L75.50,175.50 L75.57,175.49 L75.71,175.48 L75.86,175.46 L76.00,175.43 L76.14,175.39 L76.29,175.35 L76.43,175.29 L76.50,175.26 L76.58,175.22 L76.72,175.14 L76.86,175.05 L77.00,174.95 L77.01,174.94 L77.15,174.83 L77.29,174.70 L77.44,174.58 L77.50,174.52 L77.58,174.45 L77.72,174.34 L77.87,174.24 L78.00,174.17 L78.01,174.16 L78.16,174.11 L78.30,174.09 L78.44,174.11 L78.50,174.12 L78.59,174.15 L78.73,174.23 L78.88,174.33 L79.00,174.42 L79.02,174.44 L79.16,174.56 L79.31,174.68 L79.45,174.80 L79.50,174.84 L79.59,174.92 L79.74,175.02 L79.88,175.11 L80.00,175.17 L80.03,175.19 L80.17,175.25 L80.31,175.30 L80.46,175.35 L80.50,175.36 L80.60,175.38 L80.74,175.40 L80.89,175.42 L81.00,175.43 L81.03,175.43 L81.17,175.44 L81.32,175.45 L81.46,175.45 L81.50,175.45 L81.61,175.45 L81.75,175.45 L82.00,175.45 L82.50,175.44 L83.00,175.42 L83.50,175.40 L84.00,175.37 L84.50,175.34 L85.00,175.29 L85.50,175.22 L86.00,175.13 L86.50,174.99 L87.00,174.74 L87.12,174.64 L87.25,174.51 L87.38,174.33 L87.50,174.09 L87.62,173.78 L87.75,173.35 L87.88,172.79 L88.00,172.05 L88.12,171.10 L88.25,169.89 L88.38,168.39 L88.50,166.56 L88.62,164.39 L88.75,161.88 L88.88,159.05 L89.00,155.94 L89.12,152.65 L89.25,149.27 L89.38,145.96 L89.50,142.87 L89.62,140.18 L89.75,138.09 L89.88,136.75 L90.00,136.29 L90.12,136.75 L90.25,138.09 L90.38,140.18 L90.50,142.86 L90.62,145.96 L90.75,149.27 L90.88,152.65 L91.00,155.94 L91.12,159.04 L91.25,161.88 L91.38,164.39 L91.50,166.56 L91.62,168.39 L91.75,169.89 L91.88,171.10 L92.00,172.05 L92.12,172.79 L92.25,173.35 L92.38,173.77 L92.50,174.09 L92.62,174.32 L92.75,174.50 L92.88,174.63 L93.00,174.74 L93.50,174.98 L93.95,175.10 L94.00,175.11 L94.09,175.13 L94.24,175.16 L94.38,175.18 L94.50,175.20 L94.53,175.20 L94.67,175.21 L94.81,175.22 L94.96,175.23 L95.00,175.23 L95.10,175.23 L95.24,175.23 L95.39,175.22 L95.50,175.20 L95.53,175.20 L95.67,175.17 L95.82,175.14 L95.96,175.10 L96.00,175.09 L96.11,175.05 L96.25,175.00 L96.39,174.94 L96.50,174.89 L96.54,174.88 L96.68,174.82 L96.83,174.76 L96.97,174.71 L97.00,174.71 L97.11,174.68 L97.26,174.66 L97.40,174.65 L97.50,174.66 L97.54,174.67 L97.69,174.70 L97.83,174.75 L97.97,174.81 L98.00,174.82 L98.12,174.87 L98.26,174.95 L98.41,175.02 L98.50,175.06 L98.55,175.09 L98.69,175.15 L98.84,175.22 L98.98,175.27 L99.00,175.28 L99.12,175.32 L99.27,175.36 L99.41,175.39 L99.50,175.41 L99.56,175.42 L99.70,175.44 L99.84,175.46 L99.99,175.47 L100.00,175.47 L100.13,175.48 L100.28,175.49 L100.42,175.50 L100.50,175.50 L100.56,175.50 L100.71,175.51 L100.85,175.51 L101.00,175.51 L101.50,175.52 L102.00,175.53 L102.50,175.53 L103.00,175.54 L103.50,175.54 L104.00,175.55 L104.50,175.55 L105.00,175.55 L105.50,175.55 L106.00,175.55 L106.50,175.55 L107.00,175.56 L107.50,175.56 L108.00,175.56 L108.50,175.56 L109.00,175.55 L109.50,175.55 L110.00,175.55 L110.50,175.55 L111.00,175.55 L111.50,175.54 L112.00,175.53 L112.50,175.52 L113.00,175.51 L113.20,175.50 L113.35,175.49 L113.50,175.48 L113.65,175.47 L113.80,175.45 L113.95,175.42 L114.00,175.41 L114.10,175.39 L114.25,175.35 L114.40,175.29 L114.50,175.24 L114.55,175.22 L114.70,175.12 L114.85,175.01 L115.00,174.87 L115.15,174.70 L115.30,174.50 L115.45,174.29 L115.50,174.21 L115.60,174.05 L115.75,173.79 L115.90,173.53 L116.00,173.36 L116.05,173.28 L116.20,173.04 L116.35,172.83 L116.50,172.66 L116.65,172.56 L116.80,172.52 L116.95,172.55 L117.00,172.57 L117.10,172.64 L117.25,172.79 L117.40,172.98 L117.50,173.13 L117.51,173.14 L117.55,173.20 L117.62,173.31 L117.70,173.43 L117.74,173.48 L117.85,173.65 L117.96,173.80 L118.00,173.84 L118.08,173.93 L118.15,174.00 L118.19,174.03 L118.30,174.10 L118.41,174.13 L118.45,174.13 L118.50,174.12 L118.53,174.11 L118.60,174.07 L118.64,174.04 L118.75,173.91 L118.86,173.73 L118.90,173.66 L118.97,173.49 L119.00,173.43 L119.05,173.30 L119.09,173.20 L119.20,172.87 L119.31,172.50 L119.35,172.37 L119.42,172.11 L119.50,171.86 L119.54,171.73 L119.65,171.37 L119.76,171.05 L119.80,170.96 L119.88,170.81 L119.95,170.69 L119.99,170.65 L120.00,170.64 L120.10,170.60 L120.21,170.67 L120.25,170.71 L120.33,170.84 L120.40,171.01 L120.44,171.11 L120.50,171.29 L120.55,171.45 L120.66,171.83 L120.78,172.25 L120.89,172.67 L121.00,173.09 L121.11,173.48 L121.22,173.83 L121.34,174.15 L121.45,174.42 L121.50,174.53 L121.56,174.65 L121.67,174.84 L121.79,174.99 L121.90,175.11 L122.00,175.19 L122.01,175.20 L122.12,175.27 L122.24,175.33 L122.35,175.37 L122.46,175.40 L122.50,175.41 L122.58,175.42 L122.69,175.44 L122.80,175.45 L123.00,175.47 L123.30,175.48 L123.41,175.49 L123.50,175.49 L123.53,175.49 L123.64,175.49 L123.75,175.49 L123.86,175.48 L123.97,175.48 L124.00,175.48 L124.09,175.47 L124.20,175.46 L124.31,175.44 L124.42,175.42 L124.50,175.40 L124.54,175.39 L124.65,175.36 L124.76,175.32 L124.88,175.27 L124.99,175.21 L125.00,175.20 L125.10,175.15 L125.21,175.08 L125.33,175.02 L125.44,174.95 L125.50,174.92 L125.55,174.89 L125.66,174.84 L125.78,174.79 L125.89,174.77 L126.00,174.76 L126.11,174.77 L126.22,174.80 L126.34,174.84 L126.45,174.90 L126.50,174.93 L126.56,174.96 L126.67,175.03 L126.79,175.10 L126.90,175.17 L127.00,175.22 L127.01,175.23 L127.12,175.29 L127.24,175.34 L127.35,175.39 L127.46,175.42 L127.50,175.44 L127.58,175.46 L127.69,175.48 L127.80,175.50 L127.91,175.52 L128.00,175.53 L128.03,175.53 L128.14,175.54 L128.25,175.54 L128.36,175.55 L128.47,175.55 L128.50,175.55 L128.59,175.56 L128.70,175.56 L129.00,175.56 L129.50,175.57 L130.00,175.57 L130.50,175.58 L131.00,175.58 L131.50,175.58 L132.00,175.58 L132.50,175.58 L133.00,175.58 L133.50,175.58 L134.00,175.59 L134.50,175.59 L135.00,175.59 L135.50,175.59 L136.00,175.59 L136.50,175.59 L137.00,175.59 L137.50,175.59 L138.00,175.59 L138.50,175.59 L139.00,175.59 L139.50,175.59 L140.00,175.59 L140.50,175.59 L141.00,175.59 L141.50,175.59 L142.00,175.59 L142.50,175.59 L143.00,175.59 L143.50,175.59 L144.00,175.59 L144.50,175.59 L145.00,175.59 L145.50,175.59 L146.00,175.59 L146.50,175.59 L147.00,175.59 L147.50,175.59 L148.00,175.59 L148.50,175.59 L149.00,175.59 L149.50,175.59 L150.00,175.59 L150.50,175.59 L151.00,175.59 L151.50,175.59 L152.00,175.59 L152.50,175.59 L153.00,175.59 L153.50,175.59 L154.00,175.59 L154.50,175.59 L155.00,175.59 L155.50,175.59 L156.00,175.59 L156.50,175.59 L157.00,175.59 L157.50,175.59 L158.00,175.59 L158.50,175.59 L159.00,175.59 L159.50,175.59 L160.00,175.59 L160.50,175.59 L161.00,175.59 L161.50,175.59 L162.00,175.59 L162.50,175.59 L163.00,175.59 L163.50,175.59 L164.00,175.59 L164.50,175.59 L165.00,175.59 L165.50,175.59 L166.00,175.59 L166.50,175.59 L167.00,175.59 L167.50,175.59 L168.00,175.59 L168.50,175.59 L169.00,175.59 L169.50,175.59 L170.00,175.59 L170.50,175.59 L171.00,175.59 L171.50,175.59 L172.00,175.59 L172.50,175.59 L173.00,175.59 L173.50,175.59 L174.00,175.59 L174.50,175.59 L175.00,175.59 L175.50,175.59 L176.00,175.59 L176.50,175.59 L177.00,175.59 L177.50,175.59 L178.00,175.59 L178.50,175.59 L179.00,175.59 L179.50,175.59 L180.00,175.59 L180.50,175.59 L181.00,175.59 L181.50,175.59 L182.00,175.59 L182.50,175.59 L183.00,175.59 L183.50,175.59 L184.00,175.59 L184.50,175.59 L185.00,175.59 L185.50,175.59 L186.00,175.59 L186.50,175.59 L187.00,175.59 L187.50,175.59 L188.00,175.58 L188.50,175.58 L189.00,175.58 L189.50,175.58 L190.00,175.58 L190.50,175.58 L191.00,175.58 L191.50,175.58 L192.00,175.58 L192.50,175.58 L193.00,175.58 L193.50,175.57 L194.00,175.57 L194.50,175.57 L195.00,175.57 L195.50,175.57 L196.00,175.57 L196.50,175.56 L197.00,175.56 L197.50,175.56 L198.00,175.56 L198.50,175.55 L199.00,175.55 L199.50,175.55 L200.00,175.54 L200.50,175.54 L201.00,175.53 L201.50,175.52 L202.00,175.52 L202.50,175.51 L203.00,175.50 L203.50,175.48 L204.00,175.47 L204.50,175.45 L205.00,175.43 L205.50,175.40 L206.00,175.36 L206.50,175.31 L207.00,175.24 L207.15,175.20 L207.32,175.16 L207.49,175.10 L207.50,175.09 L207.66,175.02 L207.82,174.92 L207.99,174.78 L208.00,174.78 L208.16,174.60 L208.33,174.36 L208.50,174.05 L208.67,173.64 L208.84,173.13 L209.00,172.51 L209.01,172.49 L209.18,171.71 L209.34,170.79 L209.50,169.81 L209.51,169.73 L209.68,168.52 L209.85,167.20 L210.00,165.96 L210.02,165.80 L210.19,164.36 L210.30,163.41 L210.36,162.95 L210.45,162.19 L210.50,161.81 L210.53,161.62 L210.60,161.08 L210.69,160.46 L210.75,160.12 L210.86,159.54 L210.90,159.37 L211.00,159.01 L211.03,158.92 L211.05,158.87 L211.20,158.66 L211.35,158.72 L211.37,158.75 L211.50,159.06 L211.54,159.18 L211.65,159.63 L211.71,159.89 L211.80,160.38 L211.88,160.80 L211.95,161.24 L212.00,161.54 L212.04,161.81 L212.10,162.16 L212.21,162.86 L212.25,163.09 L212.38,163.86 L212.40,163.97 L212.50,164.52 L212.55,164.77 L212.70,165.47 L212.72,165.55 L212.85,166.05 L212.89,166.17 L213.00,166.51 L213.06,166.66 L213.15,166.87 L213.22,167.02 L213.30,167.15 L213.39,167.30 L213.45,167.38 L213.50,167.45 L213.56,167.53 L213.60,167.59 L213.73,167.79 L213.75,167.82 L213.90,168.10 L214.00,168.33 L214.05,168.46 L214.07,168.50 L214.20,168.88 L214.24,169.00 L214.35,169.37 L214.41,169.57 L214.50,169.91 L214.57,170.20 L214.65,170.49 L214.74,170.86 L214.80,171.07 L214.91,171.51 L214.95,171.65 L215.00,171.84 L215.08,172.13 L215.10,172.20 L215.25,172.71 L215.40,173.18 L215.50,173.46 L215.55,173.59 L215.70,173.94 L215.85,174.24 L216.00,174.48 L216.15,174.68 L216.30,174.84 L216.45,174.96 L216.50,175.00 L216.60,175.06 L216.75,175.14 L216.90,175.19 L217.00,175.22 L217.05,175.24 L217.20,175.27 L217.35,175.30 L217.50,175.32 L218.00,175.38 L218.50,175.41 L219.00,175.44 L219.50,175.46 L220.00,175.48 L220.50,175.49 L221.00,175.50 L221.50,175.51 L222.00,175.52 L222.50,175.53 L223.00,175.53 L223.50,175.54 L224.00,175.54 L224.50,175.55 L225.00,175.55 L225.50,175.56 L226.00,175.56 L226.50,175.56 L227.00,175.56 L227.50,175.57 L228.00,175.57 L228.50,175.57 L229.00,175.57 L229.50,175.57 L230.00,175.57 L230.50,175.57 L231.00,175.58 L231.50,175.58 L232.00,175.58 L232.50,175.58 L233.00,175.58 L233.50,175.58 L234.00,175.58 L234.50,175.58 L235.00,175.58 L235.50,175.58 L236.00,175.58 L236.50,175.58 L237.00,175.58 L237.50,175.58 L238.00,175.58 L238.50,175.59 L239.00,175.59 L239.50,175.59 L240.00,175.59 L240.50,175.59 L241.00,175.59 L241.50,175.59 L242.00,175.59 L242.50,175.59 L243.00,175.59 L243.50,175.59 L244.00,175.59 L244.50,175.59 L245.00,175.59 L245.50,175.59 L246.00,175.59 L246.50,175.59 L247.00,175.59 L247.50,175.59 L248.00,175.59 L248.50,175.59 L249.00,175.59 L249.50,175.59 L250.00,175.59 L250.50,175.59 L251.00,175.58 L251.50,175.58 L252.00,175.58 L252.50,175.58 L253.00,175.58 L253.50,175.58 L254.00,175.58 L254.50,175.58 L255.00,175.58 L255.50,175.58 L256.00,175.58 L256.50,175.57 L257.00,175.57 L257.50,175.57 L258.00,175.57 L258.50,175.56 L259.00,175.56 L259.50,175.56 L260.00,175.55 L260.50,175.54 L261.00,175.53 L261.50,175.52 L262.00,175.50 L262.20,175.49 L262.35,175.48 L262.50,175.47 L262.65,175.45 L262.80,175.43 L262.95,175.40 L263.00,175.38 L263.10,175.35 L263.25,175.30 L263.40,175.23 L263.50,175.17 L263.55,175.14 L263.70,175.02 L263.85,174.88 L264.00,174.71 L264.15,174.50 L264.30,174.26 L264.45,173.99 L264.50,173.90 L264.60,173.70 L264.75,173.38 L264.90,173.06 L265.00,172.85 L265.05,172.75 L265.20,172.46 L265.35,172.20 L265.50,172.00 L265.65,171.87 L265.80,171.82 L265.95,171.86 L266.00,171.89 L266.10,171.98 L266.25,172.17 L266.40,172.42 L266.50,172.60 L266.55,172.70 L266.70,173.01 L266.85,173.31 L267.00,173.61 L267.15,173.89 L267.20,173.97 L267.30,174.14 L267.34,174.19 L267.45,174.35 L267.48,174.38 L267.50,174.41 L267.60,174.52 L267.61,174.53 L267.75,174.64 L267.89,174.72 L267.90,174.72 L268.00,174.74 L268.02,174.75 L268.05,174.75 L268.16,174.73 L268.20,174.72 L268.30,174.66 L268.35,174.63 L268.44,174.54 L268.50,174.47 L268.57,174.36 L268.65,174.24 L268.71,174.12 L268.80,173.93 L268.85,173.81 L268.95,173.54 L268.99,173.43 L269.00,173.39 L269.10,173.07 L269.12,172.98 L269.25,172.52 L269.26,172.48 L269.40,171.92 L269.50,171.48 L269.54,171.32 L269.68,170.71 L269.81,170.11 L269.95,169.54 L270.00,169.35 L270.09,169.06 L270.23,168.67 L270.36,168.43 L270.50,168.35 L270.64,168.44 L270.77,168.68 L270.91,169.07 L271.00,169.37 L271.05,169.56 L271.19,170.13 L271.32,170.74 L271.46,171.36 L271.50,171.53 L271.60,171.96 L271.74,172.54 L271.88,173.06 L272.00,173.48 L272.01,173.52 L272.15,173.92 L272.29,174.25 L272.43,174.53 L272.50,174.66 L272.56,174.75 L272.70,174.93 L272.84,175.06 L272.98,175.16 L273.00,175.18 L273.11,175.24 L273.25,175.30 L273.39,175.35 L273.50,175.37 L273.52,175.38 L273.66,175.40 L273.80,175.42 L274.00,175.44 L274.50,175.48 L275.00,175.50 L275.50,175.52 L276.00,175.53 L276.50,175.54 L277.00,175.54 L277.50,175.55 L278.00,175.55 L278.50,175.56 L279.00,175.56 L279.50,175.56 L280.00,175.56 L280.50,175.56 L281.00,175.56 L281.50,175.56 L282.00,175.56 L282.50,175.56 L283.00,175.55 L283.20,175.54 L283.35,175.54 L283.50,175.53 L283.65,175.53 L283.80,175.51 L283.95,175.50 L284.00,175.49 L284.10,175.48 L284.25,175.45 L284.40,175.42 L284.50,175.39 L284.55,175.38 L284.70,175.32 L284.85,175.25 L285.00,175.16 L285.15,175.06 L285.30,174.94 L285.45,174.81 L285.50,174.76 L285.60,174.66 L285.75,174.51 L285.90,174.35 L286.00,174.24 L286.05,174.19 L286.20,174.05 L286.35,173.92 L286.50,173.82 L286.65,173.76 L286.80,173.74 L286.95,173.76 L287.00,173.78 L287.10,173.82 L287.25,173.92 L287.40,174.05 L287.50,174.15 L287.55,174.20 L287.70,174.35 L287.85,174.51 L288.00,174.67 L288.15,174.81 L288.30,174.95 L288.45,175.06 L288.50,175.10 L288.60,175.17 L288.75,175.25 L288.90,175.32 L289.00,175.36 L289.05,175.38 L289.20,175.43 L289.35,175.46 L289.50,175.49 L289.65,175.51 L289.80,175.52 L289.95,175.53 L290.00,175.54 L290.10,175.54 L290.25,175.55 L290.40,175.55 L290.50,175.56 L291.00,175.56 L291.50,175.57 L292.00,175.57 L292.50,175.58 L293.00,175.58 L293.50,175.58 L294.00,175.58 L294.50,175.59 L295.00,175.59 L295.50,175.59 L296.00,175.59 L296.50,175.59 L297.00,175.59 L297.50,175.59 L298.00,175.59 L298.50,175.59 L299.00,175.59 L299.50,175.59 L300.00,175.59 L300.50,175.59 L301.00,175.59 L301.50,175.59 L302.00,175.59 L302.50,175.59 L303.00,175.59 L303.50,175.59 L304.00,175.59 L304.50,175.59 L305.00,175.60 L305.50,175.60 L306.00,175.60 L306.50,175.60 L307.00,175.60 L307.50,175.60 L308.00,175.60 L308.50,175.60 L309.00,175.60 L309.50,175.60 L310.00,175.60 L310.50,175.60 L311.00,175.60 L311.50,175.60 L312.00,175.60 L312.50,175.60 L313.00,175.60 L313.50,175.60 L314.00,175.60 L314.50,175.60 L315.00,175.60 L315.50,175.60 L316.00,175.60 L316.50,175.60 L317.00,175.60 L317.50,175.60 L318.00,175.60 L318.50,175.60 L319.00,175.60 L319.50,175.60 L320.00,175.60 L320.50,175.60 L321.00,175.60 L321.50,175.60 L322.00,175.60 L322.50,175.60 L323.00,175.60 L323.50,175.60 L324.00,175.60 L324.50,175.60 L325.00,175.60 L325.50,175.60 L326.00,175.60 L326.50,175.60 L327.00,175.60 L327.50,175.60 L328.00,175.60 L328.50,175.60 L329.00,175.60 L329.50,175.60 L330.00,175.60"/><path stroke="#555555" d="M28.00,219.00 L28.50,219.00 L29.00,219.00 L29.50,219.00 L30.00,219.00 L30.50,219.00 L31.00,219.00 L31.50,219.00 L32.00,219.00 L32.50,219.00 L33.00,219.00 L33.50,219.00 L34.00,219.00 L34.50,219.00 L35.00,219.00 L35.50,219.00 L36.00,219.00 L36.50,219.00 L37.00,219.00 L37.50,219.00 L38.00,219.00 L38.50,219.00 L39.00,219.00 L39.50,219.00 L40.00,219.00 L40.50,219.00 L41.00,219.00 L41.50,219.00 L42.00,219.00 L42.50,219.00 L43.00,219.00 L43.50,219.00 L44.00,219.00 L44.50,219.00 L45.00,219.00 L45.50,219.00 L46.00,219.00 L46.50,219.00 L47.00,219.00 L47.50,219.00 L48.00,219.00 L48.50,219.00 L49.00,219.00 L49.50,219.00 L50.00,219.00 L50.50,219.00 L51.00,219.00 L51.50,219.00 L52.00,219.00 L52.50,219.00 L53.00,219.00 L53.50,219.00 L54.00,219.00 L54.50,219.00 L55.00,219.00 L55.50,219.00 L56.00,219.00 L56.50,219.00 L57.00,219.00 L57.50,219.00 L58.00,219.00 L58.50,219.00 L59.00,219.00 L59.50,219.00 L60.00,219.00 L60.50,219.00 L61.00,219.00 L61.50,218.99 L62.00,218.99 L62.50,218.99 L63.00,218.99 L63.50,218.99 L64.00,218.99 L64.50,218.99 L65.00,218.99 L65.50,218.99 L66.00,218.99 L66.50,218.99 L67.00,218.99 L67.50,218.99 L68.00,218.99 L68.50,218.99 L69.00,218.99 L69.50,218.99 L70.00,218.99 L70.50,218.99 L71.00,218.99 L71.50,218.99 L72.00,218.99 L72.50,218.99 L73.00,218.99 L73.50,218.99 L74.00,218.99 L74.50,218.99 L75.00,218.98 L75.50,218.98 L76.00,218.98 L76.50,218.98 L77.00,218.98 L77.50,218.98 L78.00,218.98 L78.40,218.97 L78.50,218.97 L78.67,218.97 L78.95,218.97 L79.00,218.97 L79.22,218.97 L79.50,218.96 L79.78,218.95 L80.00,218.94 L80.05,218.94 L80.33,218.92 L80.50,218.91 L80.60,218.90 L80.88,218.88 L81.00,218.86 L81.15,218.84 L81.42,218.80 L81.50,218.79 L81.70,218.75 L81.97,218.69 L82.00,218.68 L82.25,218.62 L82.50,218.54 L82.53,218.54 L82.80,218.45 L83.00,218.38 L83.08,218.36 L83.35,218.26 L83.50,218.21 L83.62,218.17 L83.90,218.09 L84.00,218.06 L84.10,218.03 L84.17,218.01 L84.29,217.99 L84.45,217.95 L84.47,217.95 L84.50,217.94 L84.66,217.91 L84.72,217.90 L84.85,217.88 L85.00,217.85 L85.04,217.85 L85.22,217.82 L85.28,217.81 L85.41,217.78 L85.50,217.77 L85.55,217.76 L85.60,217.74 L85.79,217.69 L85.83,217.68 L85.97,217.62 L86.00,217.61 L86.10,217.57 L86.16,217.54 L86.35,217.42 L86.38,217.40 L86.50,217.31 L86.54,217.28 L86.65,217.18 L86.72,217.11 L86.91,216.91 L86.92,216.89 L87.00,216.81 L87.10,216.69 L87.20,216.56 L87.29,216.45 L87.47,216.20 L87.50,216.17 L87.66,215.96 L87.75,215.86 L87.85,215.74 L88.00,215.58 L88.03,215.56 L88.04,215.55 L88.22,215.39 L88.30,215.34 L88.41,215.28 L88.50,215.24 L88.58,215.22 L88.60,215.21 L88.65,215.19 L88.78,215.16 L88.79,215.16 L88.85,215.14 L88.90,215.13 L88.97,215.11 L89.00,215.09 L89.03,215.08 L89.12,215.02 L89.15,215.00 L89.16,214.99 L89.28,214.85 L89.35,214.72 L89.40,214.61 L89.50,214.33 L89.53,214.24 L89.54,214.20 L89.65,213.70 L89.67,213.57 L89.72,213.27 L89.78,212.94 L89.90,211.90 L89.91,211.79 L89.95,211.40 L90.00,210.85 L90.03,210.56 L90.10,209.59 L90.15,208.87 L90.22,207.68 L90.28,206.82 L90.29,206.60 L90.40,204.40 L90.47,202.78 L90.50,202.22 L90.53,201.64 L90.65,198.61 L90.66,198.31 L90.78,195.39 L90.85,193.42 L90.90,192.10 L91.00,189.52 L91.03,188.89 L91.04,188.59 L91.05,188.27 L91.15,185.93 L91.22,184.34 L91.28,183.38 L91.33,182.52 L91.40,181.43 L91.41,181.28 L91.50,180.38 L91.53,180.20 L91.60,179.87 L91.65,179.81 L91.78,180.29 L91.79,180.38 L91.90,181.60 L91.97,182.75 L92.00,183.19 L92.03,183.65 L92.15,186.30 L92.16,186.57 L92.28,189.37 L92.35,191.35 L92.40,192.70 L92.50,195.43 L92.53,196.11 L92.54,196.44 L92.65,199.48 L92.72,201.42 L92.78,202.66 L92.90,205.58 L92.91,205.84 L93.00,207.68 L93.03,208.17 L93.10,209.56 L93.15,210.41 L93.28,212.29 L93.40,213.83 L93.50,214.84 L93.53,215.06 L93.65,216.02 L93.78,216.75 L93.90,217.30 L94.00,217.64 L94.03,217.71 L94.15,218.00 L94.28,218.21 L94.40,218.36 L94.50,218.44 L94.53,218.46 L94.65,218.54 L95.00,218.66 L95.50,218.75 L96.00,218.80 L96.50,218.84 L97.00,218.86 L97.50,218.89 L98.00,218.90 L98.50,218.91 L99.00,218.93 L99.50,218.93 L100.00,218.94 L100.50,218.95 L101.00,218.95 L101.50,218.96 L102.00,218.96 L102.50,218.96 L103.00,218.96 L103.50,218.97 L104.00,218.97 L104.50,218.97 L105.00,218.97 L105.50,218.97 L106.00,218.97 L106.50,218.97 L107.00,218.97 L107.50,218.97 L108.00,218.97 L108.50,218.97 L109.00,218.97 L109.50,218.97 L110.00,218.97 L110.50,218.97 L111.00,218.97 L111.50,218.97 L112.00,218.97 L112.50,218.96 L113.00,218.96 L113.50,218.95 L114.00,218.94 L114.50,218.93 L115.00,218.92 L115.50,218.90 L115.80,218.88 L115.91,218.86 L116.00,218.85 L116.03,218.85 L116.14,218.83 L116.25,218.80 L116.36,218.77 L116.47,218.72 L116.50,218.71 L116.59,218.66 L116.70,218.57 L116.81,218.47 L116.92,218.33 L117.00,218.23 L117.04,218.17 L117.15,217.97 L117.26,217.73 L117.38,217.45 L117.49,217.14 L117.50,217.10 L117.60,216.79 L117.71,216.43 L117.83,216.06 L117.94,215.69 L118.00,215.50 L118.05,215.35 L118.16,215.05 L118.28,214.82 L118.39,214.67 L118.50,214.61 L118.61,214.65 L118.70,214.75 L118.72,214.79 L118.81,214.95 L118.84,215.01 L118.92,215.22 L118.95,215.28 L119.00,215.42 L119.04,215.53 L119.06,215.60 L119.15,215.86 L119.17,215.93 L119.26,216.19 L119.29,216.26 L119.38,216.50 L119.40,216.57 L119.49,216.78 L119.50,216.81 L119.51,216.84 L119.60,217.01 L119.62,217.06 L119.71,217.19 L119.74,217.21 L119.83,217.29 L119.85,217.30 L119.94,217.32 L119.96,217.32 L120.00,217.31 L120.05,217.28 L120.08,217.26 L120.16,217.16 L120.19,217.13 L120.28,216.98 L120.30,216.93 L120.39,216.73 L120.41,216.67 L120.50,216.44 L120.53,216.37 L120.61,216.10 L120.64,216.02 L120.72,215.74 L120.75,215.66 L120.84,215.38 L120.86,215.31 L120.95,215.04 L120.97,214.97 L121.00,214.90 L121.06,214.74 L121.09,214.68 L121.17,214.51 L121.20,214.47 L121.29,214.36 L121.40,214.32 L121.50,214.36 L121.51,214.38 L121.62,214.54 L121.74,214.79 L121.85,215.11 L121.96,215.47 L122.00,215.60 L122.08,215.86 L122.19,216.26 L122.30,216.65 L122.41,217.02 L122.50,217.28 L122.53,217.35 L122.64,217.65 L122.75,217.90 L122.86,218.12 L122.97,218.29 L123.00,218.33 L123.09,218.44 L123.20,218.55 L123.31,218.64 L123.42,218.71 L123.50,218.74 L123.54,218.76 L123.65,218.79 L123.76,218.82 L123.88,218.84 L123.99,218.86 L124.00,218.86 L124.10,218.87 L124.50,218.90 L125.00,218.93 L125.50,218.94 L126.00,218.95 L126.50,218.96 L127.00,218.96 L127.50,218.97 L128.00,218.97 L128.50,218.97 L129.00,218.98 L129.50,218.98 L130.00,218.98 L130.50,218.98 L131.00,218.98 L131.50,218.98 L132.00,218.99 L132.50,218.99 L133.00,218.99 L133.50,218.99 L134.00,218.99 L134.50,218.99 L135.00,218.99 L135.50,218.99 L136.00,218.99 L136.50,218.99 L137.00,218.99 L137.50,218.99 L138.00,218.99 L138.50,218.99 L139.00,218.99 L139.50,218.99 L140.00,218.99 L140.50,218.99 L141.00,218.99 L141.50,218.99 L142.00,218.99 L142.50,218.99 L143.00,218.99 L143.50,218.99 L144.00,218.99 L144.50,218.99 L145.00,218.99 L145.50,218.99 L146.00,218.99 L146.50,218.99 L147.00,218.99 L147.50,218.99 L148.00,218.99 L148.50,218.99 L149.00,219.00 L149.50,219.00 L150.00,219.00 L150.50,219.00 L151.00,219.00 L151.50,219.00 L152.00,219.00 L152.50,219.00 L153.00,219.00 L153.50,219.00 L154.00,219.00 L154.50,219.00 L155.00,219.00 L155.50,219.00 L156.00,219.00 L156.50,219.00 L157.00,219.00 L157.50,219.00 L158.00,219.00 L158.50,219.00 L159.00,219.00 L159.50,219.00 L160.00,219.00 L160.50,219.00 L161.00,219.00 L161.50,219.00 L162.00,219.00 L162.50,219.00 L163.00,219.00 L163.50,219.00 L164.00,219.00 L164.50,219.00 L165.00,219.00 L165.50,218.99 L166.00,218.99 L166.50,218.99 L167.00,218.99 L167.50,218.99 L168.00,218.99 L168.50,218.99 L169.00,218.99 L169.50,218.99 L170.00,218.99 L170.50,218.99 L171.00,218.99 L171.50,218.99 L172.00,218.99 L172.50,218.99 L173.00,218.99 L173.50,218.99 L174.00,218.99 L174.50,218.99 L175.00,218.99 L175.50,218.99 L176.00,218.99 L176.50,218.99 L177.00,218.99 L177.50,218.99 L178.00,218.99 L178.50,218.99 L179.00,218.99 L179.50,218.99 L180.00,218.99 L180.50,218.99 L181.00,218.99 L181.50,218.99 L182.00,218.99 L182.50,218.99 L183.00,218.99 L183.50,218.99 L184.00,218.99 L184.50,218.99 L185.00,218.99 L185.50,218.99 L186.00,218.99 L186.50,218.99 L187.00,218.99 L187.50,218.99 L188.00,218.99 L188.50,218.99 L189.00,218.99 L189.50,218.99 L190.00,218.98 L190.50,218.98 L191.00,218.98 L191.50,218.98 L192.00,218.98 L192.50,218.98 L193.00,218.98 L193.50,218.98 L194.00,218.98 L194.50,218.98 L195.00,218.98 L195.50,218.97 L196.00,218.97 L196.50,218.97 L197.00,218.97 L197.50,218.97 L198.00,218.97 L198.50,218.96 L199.00,218.96 L199.50,218.96 L200.00,218.95 L200.50,218.95 L201.00,218.95 L201.50,218.94 L202.00,218.94 L202.50,218.93 L203.00,218.92 L203.50,218.92 L204.00,218.91 L204.50,218.89 L205.00,218.88 L205.50,218.86 L206.00,218.84 L206.50,218.82 L207.00,218.79 L207.50,218.75 L208.00,218.69 L208.35,218.62 L208.50,218.58 L208.52,218.58 L208.69,218.52 L208.86,218.45 L209.00,218.37 L209.03,218.35 L209.19,218.22 L209.36,218.05 L209.50,217.86 L209.53,217.82 L209.70,217.51 L209.87,217.12 L210.00,216.75 L210.04,216.63 L210.21,216.02 L210.38,215.28 L210.50,214.64 L210.54,214.39 L210.71,213.37 L210.88,212.22 L211.00,211.34 L211.05,210.95 L211.22,209.61 L211.39,208.23 L211.40,208.13 L211.50,207.32 L211.55,206.92 L211.56,206.88 L211.70,205.78 L211.72,205.60 L211.85,204.76 L211.89,204.49 L212.00,203.90 L212.06,203.60 L212.15,203.25 L212.23,203.00 L212.30,202.85 L212.40,202.74 L212.45,202.72 L212.50,202.74 L212.57,202.81 L212.60,202.86 L212.74,203.21 L212.75,203.25 L212.90,203.84 L212.91,203.87 L213.00,204.32 L213.05,204.58 L213.07,204.71 L213.20,205.41 L213.24,205.66 L213.35,206.28 L213.41,206.64 L213.50,207.14 L213.58,207.59 L213.65,207.95 L213.75,208.45 L213.80,208.68 L213.92,209.19 L213.95,209.31 L214.00,209.50 L214.09,209.81 L214.10,209.85 L214.25,210.29 L214.26,210.30 L214.40,210.64 L214.43,210.70 L214.50,210.85 L214.55,210.95 L214.59,211.03 L214.70,211.23 L214.76,211.35 L214.85,211.52 L214.93,211.70 L215.00,211.85 L215.10,212.10 L215.15,212.23 L215.27,212.57 L215.30,212.66 L215.44,213.11 L215.45,213.15 L215.50,213.32 L215.60,213.68 L215.61,213.70 L215.75,214.23 L215.78,214.32 L215.90,214.78 L215.94,214.94 L216.00,215.15 L216.05,215.32 L216.11,215.54 L216.20,215.84 L216.28,216.10 L216.35,216.32 L216.45,216.61 L216.50,216.75 L216.65,217.13 L216.80,217.45 L216.95,217.73 L217.00,217.81 L217.10,217.96 L217.25,218.14 L217.40,218.29 L217.50,218.37 L217.55,218.40 L217.70,218.49 L217.85,218.56 L218.00,218.61 L218.15,218.66 L218.30,218.69 L218.45,218.71 L218.50,218.72 L218.60,218.74 L219.00,218.78 L219.50,218.81 L220.00,218.84 L220.50,218.86 L221.00,218.88 L221.50,218.89 L222.00,218.91 L222.50,218.91 L223.00,218.92 L223.50,218.93 L224.00,218.94 L224.50,218.94 L225.00,218.95 L225.50,218.95 L226.00,218.95 L226.50,218.96 L227.00,218.96 L227.50,218.96 L228.00,218.96 L228.50,218.97 L229.00,218.97 L229.50,218.97 L230.00,218.97 L230.50,218.97 L231.00,218.97 L231.50,218.98 L232.00,218.98 L232.50,218.98 L233.00,218.98 L233.50,218.98 L234.00,218.98 L234.50,218.98 L235.00,218.98 L235.50,218.98 L236.00,218.98 L236.50,218.98 L237.00,218.98 L237.50,218.98 L238.00,218.98 L238.50,218.98 L239.00,218.99 L239.50,218.99 L240.00,218.99 L240.50,218.99 L241.00,218.99 L241.50,218.99 L242.00,218.99 L242.50,218.99 L243.00,218.99 L243.50,218.99 L244.00,218.99 L244.50,218.99 L245.00,218.99 L245.50,218.99 L246.00,218.99 L246.50,218.99 L247.00,218.99 L247.50,218.99 L248.00,218.99 L248.50,218.99 L249.00,218.99 L249.50,218.99 L250.00,218.99 L250.50,218.99 L251.00,218.99 L251.50,218.99 L252.00,218.98 L252.50,218.98 L253.00,218.98 L253.50,218.98 L254.00,218.98 L254.50,218.98 L255.00,218.98 L255.50,218.98 L256.00,218.98 L256.50,218.98 L257.00,218.98 L257.50,218.97 L258.00,218.97 L258.50,218.97 L259.00,218.97 L259.50,218.97 L260.00,218.96 L260.50,218.96 L261.00,218.95 L261.50,218.95 L262.00,218.94 L262.50,218.93 L263.00,218.92 L263.50,218.90 L264.00,218.88 L264.15,218.87 L264.30,218.85 L264.45,218.83 L264.50,218.82 L264.60,218.81 L264.75,218.77 L264.90,218.73 L265.00,218.69 L265.05,218.67 L265.20,218.59 L265.35,218.49 L265.50,218.37 L265.65,218.21 L265.80,218.03 L265.95,217.80 L266.00,217.72 L266.10,217.54 L266.25,217.25 L266.40,216.93 L266.50,216.71 L266.55,216.59 L266.70,216.25 L266.85,215.91 L267.00,215.59 L267.15,215.31 L267.30,215.09 L267.45,214.95 L267.50,214.92 L267.60,214.90 L267.75,214.94 L267.90,215.07 L268.00,215.19 L268.05,215.27 L268.20,215.53 L268.35,215.84 L268.50,216.16 L268.65,216.49 L268.70,216.59 L268.80,216.80 L268.84,216.87 L268.95,217.09 L268.98,217.13 L269.00,217.17 L269.10,217.33 L269.11,217.35 L269.25,217.54 L269.39,217.67 L269.40,217.68 L269.50,217.74 L269.52,217.76 L269.55,217.77 L269.66,217.78 L269.70,217.78 L269.80,217.74 L269.85,217.71 L269.94,217.64 L270.00,217.57 L270.07,217.46 L270.15,217.33 L270.21,217.20 L270.30,216.99 L270.35,216.85 L270.45,216.55 L270.49,216.42 L270.50,216.38 L270.60,216.02 L270.62,215.92 L270.75,215.39 L270.76,215.33 L270.90,214.69 L271.00,214.19 L271.04,213.99 L271.05,213.93 L271.18,213.28 L271.20,213.15 L271.31,212.58 L271.45,211.93 L271.50,211.71 L271.59,211.36 L271.73,210.92 L271.86,210.63 L272.00,210.54 L272.14,210.64 L272.27,210.93 L272.41,211.38 L272.50,211.73 L272.55,211.96 L272.69,212.62 L272.82,213.33 L272.96,214.05 L273.00,214.25 L273.10,214.76 L273.24,215.43 L273.38,216.03 L273.50,216.52 L273.51,216.57 L273.65,217.04 L273.79,217.43 L273.93,217.75 L274.00,217.90 L274.06,218.01 L274.20,218.21 L274.34,218.37 L274.48,218.49 L274.50,218.51 L274.61,218.58 L274.75,218.65 L274.89,218.70 L275.00,218.74 L275.02,218.74 L275.16,218.77 L275.30,218.79 L275.50,218.82 L276.00,218.86 L276.50,218.88 L277.00,218.90 L277.50,218.92 L278.00,218.93 L278.50,218.94 L279.00,218.94 L279.50,218.95 L280.00,218.95 L280.50,218.95 L281.00,218.95 L281.50,218.96 L282.00,218.96 L282.50,218.95 L283.00,218.95 L283.50,218.95 L284.00,218.94 L284.10,218.94 L284.25,218.93 L284.40,218.93 L284.50,218.92 L284.55,218.92 L284.70,218.91 L284.85,218.89 L285.00,218.87 L285.15,218.84 L285.30,218.80 L285.45,218.76 L285.50,218.74 L285.60,218.69 L285.75,218.62 L285.90,218.53 L286.00,218.45 L286.05,218.41 L286.20,218.29 L286.35,218.14 L286.50,217.99 L286.65,217.82 L286.80,217.65 L286.95,217.48 L287.00,217.42 L287.10,217.32 L287.25,217.18 L287.40,217.08 L287.50,217.03 L287.55,217.01 L287.70,216.99 L287.85,217.01 L288.00,217.08 L288.15,217.19 L288.30,217.32 L288.45,217.48 L288.50,217.54 L288.60,217.65 L288.75,217.82 L288.90,217.99 L289.00,218.10 L289.05,218.15 L289.20,218.29 L289.35,218.42 L289.50,218.53 L289.65,218.62 L289.80,218.70 L289.95,218.76 L290.00,218.78 L290.10,218.81 L290.25,218.85 L290.40,218.88 L290.50,218.89 L290.55,218.90 L290.70,218.91 L290.85,218.93 L291.00,218.94 L291.15,218.94 L291.30,218.95 L291.50,218.95 L292.00,218.96 L292.50,218.97 L293.00,218.97 L293.50,218.98 L294.00,218.98 L294.50,218.98 L295.00,218.98 L295.50,218.98 L296.00,218.99 L296.50,218.99 L297.00,218.99 L297.50,218.99 L298.00,218.99 L298.50,218.99 L299.00,218.99 L299.50,218.99 L300.00,218.99 L300.50,218.99 L301.00,218.99 L301.50,218.99 L302.00,218.99 L302.50,218.99 L303.00,218.99 L303.50,218.99 L304.00,218.99 L304.50,218.99 L305.00,218.99 L305.50,218.99 L306.00,218.99 L306.50,218.99 L307.00,219.00 L307.50,219.00 L308.00,219.00 L308.50,219.00 L309.00,219.00 L309.50,219.00 L310.00,219.00 L310.50,219.00 L311.00,219.00 L311.50,219.00 L312.00,219.00 L312.50,219.00 L313.00,219.00 L313.50,219.00 L314.00,219.00 L314.50,219.00 L315.00,219.00 L315.50,219.00 L316.00,219.00 L316.50,219.00 L317.00,219.00 L317.50,219.00 L318.00,219.00 L318.50,219.00 L319.00,219.00 L319.50,219.00 L320.00,219.00 L320.50,219.00 L321.00,219.00 L321.50,219.00 L322.00,219.00 L322.50,219.00 L323.00,219.00 L323.50,219.00 L324.00,219.00 L324.50,219.00 L325.00,219.00 L325.50,219.00 L326.00,219.00 L326.50,219.00 L327.00,219.00 L327.50,219.00 L328.00,219.00 L328.50,219.00 L329.00,219.00 L329.50,219.00 L330.00,219.00"/><path stroke="#af78e1" d="M375.50,72.20 L376.00,72.20 L376.50,72.20 L377.00,72.19 L377.50,72.19 L378.00,72.19 L378.50,72.19 L379.00,72.19 L379.50,72.19 L380.00,72.19 L380.50,72.19 L381.00,72.19 L381.50,72.19 L382.00,72.19 L382.50,72.19 L383.00,72.19 L383.50,72.19 L384.00,72.19 L384.50,72.19 L385.00,72.19 L385.50,72.19 L386.00,72.19 L386.50,72.19 L387.00,72.19 L387.50,72.19 L388.00,72.19 L388.50,72.19 L389.00,72.19 L389.50,72.19 L390.00,72.19 L390.50,72.19 L391.00,72.19 L391.50,72.18 L392.00,72.18 L392.50,72.18 L393.00,72.18 L393.50,72.18 L394.00,72.17 L394.50,72.17 L395.00,72.17 L395.50,72.16 L396.00,72.15 L396.35,72.14 L396.49,72.13 L396.50,72.13 L396.64,72.12 L396.78,72.11 L396.93,72.10 L397.00,72.09 L397.07,72.08 L397.21,72.05 L397.36,72.01 L397.50,71.97 L397.64,71.91 L397.79,71.83 L397.93,71.73 L398.00,71.68 L398.07,71.62 L398.22,71.48 L398.36,71.32 L398.50,71.15 L398.51,71.14 L398.65,70.94 L398.79,70.73 L398.94,70.52 L399.00,70.42 L399.08,70.31 L399.23,70.11 L399.37,69.94 L399.50,69.81 L399.51,69.80 L399.66,69.72 L399.80,69.69 L399.94,69.72 L400.00,69.75 L400.09,69.80 L400.23,69.94 L400.38,70.11 L400.50,70.28 L400.52,70.30 L400.66,70.52 L400.81,70.73 L400.95,70.94 L401.00,71.01 L401.09,71.14 L401.24,71.32 L401.38,71.48 L401.50,71.59 L401.52,71.61 L401.67,71.73 L401.81,71.83 L401.96,71.90 L402.00,71.92 L402.10,71.96 L402.24,72.01 L402.39,72.05 L402.50,72.07 L402.53,72.07 L402.68,72.09 L402.82,72.11 L402.96,72.12 L403.00,72.12 L403.11,72.13 L403.25,72.13 L403.50,72.14 L404.00,72.15 L404.50,72.16 L405.00,72.16 L405.50,72.17 L406.00,72.17 L406.50,72.17 L407.00,72.17 L407.50,72.17 L408.00,72.17 L408.50,72.17 L409.00,72.17 L409.50,72.17 L410.00,72.17 L410.50,72.17 L411.00,72.17 L411.50,72.17 L412.00,72.17 L412.50,72.17 L413.00,72.16 L413.50,72.16 L414.00,72.16 L414.50,72.16 L415.00,72.16 L415.50,72.15 L416.00,72.15 L416.50,72.14 L417.00,72.14 L417.50,72.13 L418.00,72.12 L418.50,72.11 L419.00,72.10 L419.50,72.09 L420.00,72.07 L420.50,72.04 L421.00,72.00 L421.50,71.93 L421.60,71.91 L421.73,71.88 L421.85,71.84 L421.98,71.79 L422.00,71.77 L422.10,71.72 L422.23,71.62 L422.35,71.49 L422.48,71.32 L422.50,71.28 L422.60,71.10 L422.73,70.81 L422.85,70.45 L422.98,70.00 L423.00,69.90 L423.10,69.45 L423.23,68.80 L423.35,68.04 L423.48,67.19 L423.50,67.01 L423.60,66.26 L423.73,65.27 L423.85,64.25 L423.98,63.26 L424.00,63.06 L424.10,62.33 L424.23,61.52 L424.35,60.89 L424.48,60.49 L424.50,60.44 L424.60,60.35 L424.73,60.49 L424.85,60.89 L424.98,61.52 L425.00,61.66 L425.10,62.32 L425.23,63.25 L425.35,64.24 L425.48,65.26 L425.50,65.46 L425.60,66.24 L425.73,67.17 L425.85,68.02 L425.98,68.78 L426.00,68.92 L426.10,69.43 L426.23,69.98 L426.35,70.42 L426.48,70.79 L426.50,70.85 L426.60,71.07 L426.73,71.29 L426.85,71.46 L426.98,71.58 L427.00,71.60 L427.10,71.68 L427.23,71.75 L427.35,71.80 L427.48,71.84 L427.50,71.84 L427.60,71.86 L428.00,71.92 L428.50,71.96 L429.00,71.98 L429.50,71.98 L430.00,71.98 L430.50,71.97 L431.00,71.96 L431.50,71.93 L432.00,71.90 L432.50,71.85 L433.00,71.78 L433.50,71.68 L434.00,71.50 L434.10,71.44 L434.23,71.35 L434.35,71.24 L434.48,71.09 L434.50,71.06 L434.60,70.89 L434.73,70.62 L434.85,70.26 L434.98,69.79 L435.00,69.68 L435.10,69.16 L435.23,68.36 L435.35,67.33 L435.48,66.06 L435.50,65.77 L435.60,64.51 L435.73,62.67 L435.85,60.54 L435.98,58.14 L436.00,57.63 L436.10,55.51 L436.23,52.72 L436.35,49.86 L436.48,47.05 L436.50,46.50 L436.60,44.43 L436.73,42.15 L436.85,40.38 L436.98,39.25 L437.00,39.11 L437.10,38.86 L437.23,39.25 L437.35,40.38 L437.48,42.15 L437.50,42.57 L437.60,44.42 L437.73,47.04 L437.85,49.85 L437.98,52.71 L438.00,53.28 L438.10,55.50 L438.23,58.13 L438.35,60.53 L438.48,62.66 L438.50,63.05 L438.60,64.50 L438.73,66.04 L438.85,67.31 L438.98,68.34 L439.00,68.51 L439.10,69.14 L439.23,69.76 L439.35,70.24 L439.48,70.59 L439.50,70.65 L439.60,70.86 L439.73,71.06 L439.85,71.20 L439.98,71.31 L440.00,71.33 L440.10,71.40 L440.50,71.56 L441.00,71.66 L441.30,71.69 L441.43,71.69 L441.50,71.69 L441.55,71.69 L441.68,71.68 L441.80,71.65 L441.93,71.62 L442.00,71.59 L442.05,71.56 L442.18,71.48 L442.30,71.37 L442.43,71.23 L442.50,71.12 L442.55,71.04 L442.68,70.81 L442.80,70.52 L442.93,70.17 L443.00,69.94 L443.05,69.77 L443.18,69.32 L443.30,68.82 L443.43,68.29 L443.50,67.96 L443.55,67.74 L443.68,67.21 L443.80,66.71 L443.93,66.28 L444.00,66.07 L444.05,65.94 L444.18,65.73 L444.30,65.66 L444.43,65.74 L444.50,65.86 L444.55,65.96 L444.68,66.31 L444.80,66.75 L444.93,67.25 L445.00,67.58 L445.05,67.80 L445.18,68.35 L445.30,68.89 L445.43,69.40 L445.50,69.68 L445.55,69.86 L445.68,70.27 L445.80,70.63 L445.93,70.93 L446.00,71.08 L446.05,71.18 L446.18,71.38 L446.30,71.53 L446.43,71.65 L446.50,71.71 L446.55,71.75 L446.68,71.82 L446.80,71.87 L446.93,71.91 L447.00,71.93 L447.05,71.94 L447.18,71.97 L447.30,71.98 L447.50,72.01 L448.00,72.04 L448.50,72.07 L449.00,72.08 L449.50,72.10 L450.00,72.11 L450.50,72.11 L451.00,72.12 L451.50,72.12 L452.00,72.13 L452.50,72.13 L453.00,72.13 L453.50,72.13 L454.00,72.14 L454.50,72.14 L455.00,72.13 L455.50,72.13 L456.00,72.13 L456.50,72.12 L457.00,72.12 L457.35,72.11 L457.49,72.10 L457.50,72.10 L457.64,72.09 L457.78,72.08 L457.93,72.07 L458.00,72.06 L458.07,72.05 L458.21,72.03 L458.36,72.00 L458.50,71.97 L458.64,71.92 L458.79,71.85 L458.93,71.78 L459.00,71.73 L459.07,71.68 L459.22,71.57 L459.36,71.44 L459.50,71.30 L459.51,71.30 L459.65,71.14 L459.79,70.97 L459.94,70.79 L460.00,70.72 L460.08,70.62 L460.23,70.46 L460.37,70.33 L460.50,70.22 L460.51,70.22 L460.66,70.15 L460.80,70.12 L460.94,70.14 L461.00,70.16 L461.09,70.21 L461.23,70.31 L461.38,70.44 L461.50,70.58 L461.52,70.60 L461.66,70.76 L461.81,70.93 L461.95,71.09 L462.00,71.14 L462.09,71.24 L462.24,71.38 L462.38,71.50 L462.50,71.59 L462.52,71.60 L462.67,71.69 L462.81,71.75 L462.95,71.79 L462.96,71.80 L463.00,71.81 L463.09,71.83 L463.10,71.83 L463.24,71.84 L463.24,71.84 L463.38,71.84 L463.39,71.83 L463.50,71.82 L463.52,71.81 L463.53,71.81 L463.67,71.77 L463.68,71.77 L463.81,71.71 L463.82,71.70 L463.96,71.61 L463.96,71.61 L464.00,71.58 L464.10,71.49 L464.11,71.48 L464.24,71.32 L464.25,71.31 L464.39,71.10 L464.50,70.89 L464.53,70.83 L464.68,70.49 L464.82,70.10 L464.96,69.64 L465.00,69.51 L465.11,69.12 L465.25,68.56 L465.39,67.95 L465.50,67.50 L465.54,67.34 L465.68,66.73 L465.82,66.17 L465.97,65.67 L466.00,65.58 L466.11,65.29 L466.26,65.05 L466.40,64.96 L466.50,65.01 L466.54,65.05 L466.69,65.30 L466.83,65.68 L466.98,66.17 L467.00,66.27 L467.12,66.74 L467.26,67.34 L467.41,67.96 L467.50,68.36 L467.55,68.57 L467.69,69.14 L467.84,69.65 L467.98,70.11 L468.00,70.17 L468.12,70.51 L468.27,70.85 L468.41,71.12 L468.50,71.26 L468.56,71.34 L468.70,71.52 L468.84,71.65 L468.99,71.75 L469.00,71.76 L469.13,71.83 L469.25,71.88 L469.27,71.89 L469.39,71.92 L469.42,71.93 L469.50,71.94 L469.54,71.95 L469.56,71.96 L469.68,71.97 L469.71,71.98 L469.82,71.99 L469.85,71.99 L469.97,71.99 L470.00,72.00 L470.11,72.00 L470.26,71.99 L470.40,71.98 L470.50,71.97 L470.54,71.97 L470.69,71.94 L470.83,71.91 L470.98,71.87 L471.00,71.86 L471.12,71.82 L471.26,71.76 L471.41,71.69 L471.50,71.64 L471.55,71.62 L471.69,71.54 L471.84,71.46 L471.98,71.37 L472.00,71.36 L472.12,71.30 L472.27,71.23 L472.41,71.18 L472.50,71.16 L472.56,71.15 L472.70,71.14 L472.84,71.15 L472.99,71.19 L473.00,71.19 L473.13,71.25 L473.27,71.32 L473.42,71.40 L473.50,71.44 L473.56,71.48 L473.71,71.57 L473.85,71.65 L473.99,71.74 L474.00,71.74 L474.14,71.81 L474.28,71.87 L474.43,71.93 L474.50,71.96 L474.57,71.98 L474.71,72.02 L474.86,72.05 L475.00,72.07 L475.14,72.09 L475.29,72.11 L475.43,72.12 L475.50,72.13 L475.57,72.13 L475.72,72.14 L475.86,72.14 L476.00,72.15 L476.01,72.15 L476.15,72.15 L476.50,72.15 L477.00,72.16 L477.50,72.16 L478.00,72.17 L478.50,72.17 L479.00,72.17 L479.50,72.18 L480.00,72.18 L480.50,72.18 L481.00,72.18 L481.50,72.18 L482.00,72.18 L482.50,72.18 L483.00,72.18 L483.50,72.18 L484.00,72.19 L484.50,72.19 L485.00,72.19 L485.50,72.19 L486.00,72.19 L486.50,72.19 L487.00,72.19 L487.50,72.19 L488.00,72.19 L488.50,72.19 L489.00,72.19 L489.50,72.19 L490.00,72.19 L490.50,72.19 L491.00,72.19 L491.50,72.19 L492.00,72.19 L492.50,72.19 L493.00,72.19 L493.50,72.19 L494.00,72.19 L494.50,72.19 L495.00,72.19 L495.50,72.19 L496.00,72.19 L496.50,72.19 L497.00,72.19 L497.50,72.19 L498.00,72.19 L498.50,72.19 L499.00,72.19 L499.50,72.19 L500.00,72.19 L500.50,72.19 L501.00,72.19 L501.50,72.19 L502.00,72.19 L502.50,72.19 L503.00,72.19 L503.50,72.19 L504.00,72.19 L504.50,72.19 L505.00,72.19 L505.50,72.19 L506.00,72.19 L506.50,72.19 L507.00,72.19 L507.50,72.19 L508.00,72.19 L508.50,72.19 L509.00,72.19 L509.50,72.19 L510.00,72.19 L510.50,72.19 L511.00,72.19 L511.50,72.19 L512.00,72.19 L512.50,72.19 L513.00,72.19 L513.50,72.19 L514.00,72.19 L514.50,72.19 L515.00,72.19 L515.50,72.19 L516.00,72.19 L516.50,72.19 L517.00,72.19 L517.50,72.19 L518.00,72.19 L518.50,72.19 L519.00,72.19 L519.50,72.19 L520.00,72.19 L520.50,72.19 L521.00,72.19 L521.50,72.19 L522.00,72.19 L522.50,72.19 L523.00,72.19 L523.50,72.19 L524.00,72.19 L524.50,72.19 L525.00,72.19 L525.50,72.19 L526.00,72.19 L526.50,72.19 L527.00,72.19 L527.50,72.19 L528.00,72.19 L528.50,72.19 L529.00,72.19 L529.50,72.19 L530.00,72.19 L530.50,72.19 L531.00,72.19 L531.50,72.19 L532.00,72.19 L532.50,72.19 L533.00,72.19 L533.50,72.19 L534.00,72.19 L534.50,72.19 L535.00,72.19 L535.50,72.19 L536.00,72.19 L536.50,72.19 L537.00,72.19 L537.50,72.18 L538.00,72.18 L538.50,72.18 L539.00,72.18 L539.50,72.18 L540.00,72.18 L540.50,72.18 L541.00,72.18 L541.50,72.18 L542.00,72.18 L542.50,72.17 L543.00,72.17 L543.50,72.17 L544.00,72.17 L544.50,72.17 L545.00,72.16 L545.50,72.16 L546.00,72.16 L546.50,72.15 L547.00,72.15 L547.50,72.14 L548.00,72.13 L548.50,72.13 L548.95,72.11 L549.00,72.11 L549.09,72.11 L549.24,72.10 L549.38,72.09 L549.50,72.08 L549.52,72.08 L549.67,72.07 L549.81,72.05 L549.96,72.03 L550.00,72.02 L550.10,72.00 L550.24,71.96 L550.39,71.91 L550.50,71.86 L550.53,71.85 L550.67,71.78 L550.82,71.69 L550.96,71.59 L551.00,71.56 L551.11,71.48 L551.25,71.36 L551.39,71.23 L551.50,71.13 L551.54,71.10 L551.68,70.97 L551.83,70.84 L551.97,70.74 L552.00,70.72 L552.11,70.65 L552.26,70.60 L552.40,70.57 L552.50,70.58 L552.54,70.59 L552.69,70.63 L552.83,70.70 L552.98,70.80 L553.00,70.82 L553.12,70.91 L553.26,71.02 L553.41,71.14 L553.50,71.22 L553.55,71.26 L553.69,71.36 L553.70,71.36 L553.84,71.45 L553.90,71.49 L553.98,71.53 L554.00,71.53 L554.10,71.57 L554.12,71.58 L554.27,71.62 L554.30,71.63 L554.41,71.64 L554.50,71.64 L554.56,71.64 L554.70,71.62 L554.84,71.58 L554.90,71.55 L554.99,71.51 L555.00,71.50 L555.10,71.44 L555.13,71.42 L555.27,71.30 L555.30,71.28 L555.42,71.15 L555.50,71.06 L555.56,70.98 L555.70,70.77 L555.71,70.76 L555.85,70.51 L555.90,70.41 L556.00,70.20 L556.10,69.96 L556.30,69.44 L556.50,68.83 L556.70,68.14 L556.90,67.38 L557.00,66.98 L557.10,66.58 L557.30,65.75 L557.50,64.94 L557.70,64.19 L557.90,63.53 L558.00,63.26 L558.10,63.02 L558.30,62.70 L558.50,62.59 L558.70,62.70 L558.90,63.03 L559.00,63.26 L559.10,63.54 L559.30,64.20 L559.50,64.95 L559.70,65.76 L559.90,66.59 L560.00,66.99 L560.10,67.39 L560.30,68.15 L560.50,68.84 L560.70,69.46 L560.90,69.99 L561.00,70.22 L561.10,70.43 L561.30,70.80 L561.50,71.10 L561.70,71.33 L561.90,71.51 L562.00,71.58 L562.10,71.65 L562.30,71.75 L562.50,71.83 L562.70,71.89 L562.90,71.93 L563.00,71.95 L563.10,71.96 L563.30,71.99 L563.50,72.01 L564.00,72.04 L564.50,72.07 L565.00,72.09 L565.50,72.10 L566.00,72.11 L566.50,72.12 L567.00,72.13 L567.50,72.14 L568.00,72.14 L568.50,72.15 L569.00,72.15 L569.50,72.16 L570.00,72.16 L570.50,72.16 L571.00,72.16 L571.50,72.17 L572.00,72.17 L572.50,72.17 L573.00,72.17 L573.50,72.17 L574.00,72.18 L574.50,72.18 L575.00,72.18 L575.50,72.18 L576.00,72.18 L576.50,72.18 L577.00,72.18 L577.50,72.18 L578.00,72.18 L578.50,72.18 L579.00,72.18 L579.50,72.18 L580.00,72.18 L580.50,72.18 L581.00,72.19 L581.50,72.19 L582.00,72.19 L582.50,72.19 L583.00,72.19 L583.50,72.19 L584.00,72.19 L584.50,72.19 L585.00,72.19 L585.50,72.19 L586.00,72.19 L586.50,72.19 L587.00,72.19 L587.50,72.19 L588.00,72.19 L588.50,72.19 L589.00,72.19 L589.50,72.19 L590.00,72.19 L590.50,72.19 L591.00,72.19 L591.50,72.19 L592.00,72.19 L592.50,72.19 L593.00,72.19 L593.50,72.19 L594.00,72.18 L594.50,72.18 L595.00,72.18 L595.50,72.18 L596.00,72.18 L596.50,72.18 L597.00,72.18 L597.50,72.18 L598.00,72.18 L598.50,72.18 L599.00,72.18 L599.50,72.18 L600.00,72.17 L600.50,72.17 L601.00,72.17 L601.50,72.17 L602.00,72.17 L602.50,72.16 L603.00,72.16 L603.50,72.16 L603.90,72.15 L604.00,72.15 L604.17,72.15 L604.45,72.14 L604.50,72.14 L604.73,72.13 L605.00,72.12 L605.27,72.11 L605.50,72.10 L605.55,72.10 L605.83,72.08 L606.00,72.06 L606.10,72.05 L606.38,72.01 L606.50,71.99 L606.65,71.97 L606.92,71.91 L607.00,71.90 L607.20,71.85 L607.48,71.77 L607.50,71.76 L607.75,71.68 L608.00,71.58 L608.02,71.57 L608.30,71.46 L608.50,71.38 L608.58,71.34 L608.85,71.22 L609.00,71.15 L609.12,71.10 L609.40,70.99 L609.50,70.95 L609.67,70.89 L609.95,70.81 L610.00,70.80 L610.23,70.76 L610.50,70.74 L610.77,70.75 L611.00,70.78 L611.05,70.79 L611.33,70.86 L611.50,70.91 L611.60,70.94 L611.88,71.05 L612.00,71.09 L612.15,71.15 L612.42,71.26 L612.50,71.29 L612.70,71.36 L612.80,71.39 L612.98,71.44 L613.00,71.45 L613.15,71.48 L613.25,71.50 L613.33,71.51 L613.50,71.53 L613.52,71.53 L613.67,71.53 L613.80,71.51 L613.85,71.50 L614.00,71.45 L614.02,71.44 L614.08,71.42 L614.20,71.35 L614.35,71.24 L614.38,71.22 L614.50,71.10 L614.55,71.04 L614.62,70.95 L614.73,70.80 L614.90,70.51 L615.00,70.31 L615.08,70.15 L615.17,69.92 L615.25,69.73 L615.42,69.25 L615.45,69.18 L615.50,69.03 L615.60,68.72 L615.73,68.33 L615.77,68.16 L615.95,67.59 L616.00,67.42 L616.12,67.02 L616.27,66.56 L616.30,66.49 L616.48,66.03 L616.50,65.97 L616.55,65.86 L616.65,65.67 L616.83,65.44 L617.00,65.36 L617.10,65.39 L617.17,65.45 L617.35,65.68 L617.50,65.98 L617.52,66.04 L617.70,66.51 L617.88,67.04 L618.00,67.45 L618.05,67.62 L618.23,68.20 L618.40,68.77 L618.50,69.09 L618.58,69.31 L618.75,69.80 L618.92,70.24 L619.00,70.41 L619.10,70.62 L619.27,70.93 L619.45,71.19 L619.50,71.26 L619.62,71.40 L619.80,71.57 L619.98,71.70 L620.00,71.71 L620.15,71.79 L620.33,71.87 L620.50,71.92 L620.67,71.96 L620.85,71.99 L621.00,72.01 L621.02,72.02 L621.20,72.04 L621.50,72.06 L622.00,72.08 L622.50,72.10 L623.00,72.11 L623.50,72.12 L624.00,72.13 L624.50,72.14 L625.00,72.14 L625.50,72.15 L626.00,72.15 L626.50,72.15 L627.00,72.15 L627.50,72.15 L628.00,72.15 L628.50,72.15 L629.00,72.15 L629.20,72.14 L629.40,72.14 L629.50,72.14 L629.60,72.14 L629.80,72.13 L630.00,72.12 L630.20,72.11 L630.40,72.10 L630.50,72.09 L630.60,72.07 L630.80,72.05 L631.00,72.01 L631.20,71.96 L631.40,71.91 L631.50,71.87 L631.60,71.84 L631.80,71.76 L632.00,71.66 L632.20,71.55 L632.40,71.43 L632.50,71.37 L632.60,71.31 L632.80,71.18 L633.00,71.05 L633.20,70.94 L633.40,70.83 L633.50,70.79 L633.60,70.76 L633.80,70.70 L634.00,70.69 L634.20,70.70 L634.40,70.76 L634.50,70.79 L634.60,70.84 L634.80,70.94 L635.00,71.06 L635.20,71.18 L635.40,71.31 L635.50,71.38 L635.60,71.44 L635.80,71.56 L636.00,71.67 L636.20,71.76 L636.40,71.85 L636.50,71.88 L636.60,71.92 L636.80,71.97 L637.00,72.02 L637.20,72.06 L637.40,72.08 L637.50,72.10 L637.60,72.11 L637.80,72.12 L638.00,72.13 L638.20,72.14 L638.40,72.15 L638.50,72.15 L638.60,72.16 L638.80,72.16 L639.00,72.16 L639.50,72.17 L640.00,72.17 L640.50,72.18 L641.00,72.18 L641.50,72.18 L642.00,72.18 L642.50,72.18 L643.00,72.18 L643.50,72.19 L644.00,72.19 L644.50,72.19 L645.00,72.19 L645.50,72.19 L646.00,72.19 L646.50,72.19 L647.00,72.19 L647.50,72.19 L648.00,72.19 L648.50,72.19 L649.00,72.19 L649.50,72.19 L650.00,72.19 L650.50,72.19 L651.00,72.19 L651.50,72.19 L652.00,72.19 L652.50,72.19 L653.00,72.19 L653.50,72.19 L654.00,72.19 L654.50,72.19 L655.00,72.19 L655.50,72.20 L656.00,72.20 L656.50,72.20 L657.00,72.20 L657.50,72.20 L658.00,72.20 L658.50,72.20 L659.00,72.20 L659.50,72.20 L660.00,72.20 L660.50,72.20 L661.00,72.20 L661.50,72.20 L662.00,72.20 L662.50,72.20 L663.00,72.20 L663.50,72.20 L664.00,72.20 L664.50,72.20 L665.00,72.20 L665.50,72.20 L666.00,72.20 L666.50,72.20 L667.00,72.20 L667.50,72.20 L668.00,72.20 L668.50,72.20 L669.00,72.20 L669.50,72.20 L670.00,72.20 L670.50,72.20 L671.00,72.20 L671.50,72.20 L672.00,72.20 L672.50,72.20 L673.00,72.20 L673.50,72.20 L674.00,72.20 L674.50,72.20 L675.00,72.20 L675.50,72.20 L676.00,72.20 L676.50,72.20"/><path stroke="#3cb073" d="M375.50,108.40 L376.00,108.40 L376.50,108.40 L377.00,108.40 L377.50,108.39 L378.00,108.39 L378.50,108.39 L379.00,108.39 L379.50,108.39 L380.00,108.39 L380.50,108.39 L381.00,108.39 L381.50,108.39 L382.00,108.39 L382.50,108.39 L383.00,108.39 L383.50,108.39 L384.00,108.39 L384.50,108.39 L385.00,108.39 L385.50,108.39 L386.00,108.39 L386.50,108.39 L387.00,108.39 L387.50,108.39 L388.00,108.39 L388.50,108.39 L389.00,108.39 L389.50,108.39 L390.00,108.39 L390.50,108.39 L391.00,108.39 L391.50,108.39 L392.00,108.39 L392.50,108.38 L393.00,108.38 L393.50,108.38 L394.00,108.38 L394.50,108.38 L395.00,108.38 L395.50,108.37 L396.00,108.37 L396.50,108.36 L397.00,108.35 L397.15,108.35 L397.29,108.34 L397.44,108.34 L397.50,108.33 L397.58,108.33 L397.73,108.32 L397.87,108.30 L398.00,108.28 L398.01,108.28 L398.16,108.25 L398.30,108.21 L398.44,108.17 L398.50,108.15 L398.59,108.11 L398.73,108.03 L398.88,107.94 L399.00,107.85 L399.02,107.83 L399.16,107.71 L399.31,107.57 L399.45,107.41 L399.50,107.36 L399.59,107.25 L399.74,107.08 L399.88,106.92 L400.00,106.79 L400.02,106.77 L400.17,106.63 L400.31,106.53 L400.46,106.46 L400.50,106.45 L400.60,106.44 L400.74,106.46 L400.89,106.53 L401.00,106.61 L401.03,106.63 L401.18,106.76 L401.32,106.92 L401.46,107.08 L401.50,107.13 L401.61,107.25 L401.75,107.41 L401.89,107.57 L402.00,107.67 L402.04,107.71 L402.18,107.83 L402.32,107.94 L402.47,108.03 L402.50,108.05 L402.61,108.10 L402.76,108.16 L402.90,108.21 L403.00,108.24 L403.04,108.25 L403.19,108.28 L403.33,108.30 L403.48,108.31 L403.50,108.31 L403.62,108.32 L403.76,108.33 L403.91,108.34 L404.00,108.34 L404.05,108.34 L404.50,108.35 L405.00,108.36 L405.50,108.36 L406.00,108.37 L406.50,108.37 L407.00,108.37 L407.50,108.37 L408.00,108.37 L408.50,108.37 L409.00,108.37 L409.50,108.37 L410.00,108.37 L410.50,108.37 L411.00,108.37 L411.50,108.37 L412.00,108.37 L412.50,108.36 L413.00,108.36 L413.50,108.36 L414.00,108.36 L414.50,108.36 L415.00,108.35 L415.50,108.35 L416.00,108.34 L416.50,108.34 L417.00,108.33 L417.50,108.33 L418.00,108.32 L418.50,108.31 L419.00,108.30 L419.50,108.28 L420.00,108.26 L420.50,108.24 L421.00,108.20 L421.50,108.16 L422.00,108.08 L422.20,108.03 L422.32,107.99 L422.45,107.94 L422.50,107.91 L422.57,107.87 L422.70,107.77 L422.82,107.65 L422.95,107.48 L423.00,107.40 L423.07,107.26 L423.20,106.97 L423.32,106.59 L423.45,106.11 L423.50,105.89 L423.57,105.52 L423.70,104.80 L423.82,103.94 L423.95,102.95 L424.00,102.52 L424.07,101.83 L424.20,100.61 L424.32,99.31 L424.45,97.98 L424.50,97.45 L424.57,96.67 L424.70,95.45 L424.82,94.39 L424.95,93.56 L425.00,93.31 L425.07,93.03 L425.20,92.85 L425.32,93.03 L425.45,93.56 L425.50,93.86 L425.57,94.38 L425.70,95.44 L425.82,96.66 L425.95,97.97 L426.00,98.50 L426.07,99.29 L426.20,100.59 L426.32,101.82 L426.45,102.93 L426.50,103.34 L426.57,103.92 L426.70,104.78 L426.82,105.50 L426.95,106.09 L427.00,106.29 L427.07,106.56 L427.20,106.94 L427.32,107.23 L427.45,107.45 L427.50,107.52 L427.57,107.61 L427.70,107.74 L427.82,107.83 L427.95,107.90 L428.00,107.92 L428.07,107.95 L428.20,107.98 L428.50,108.05 L429.00,108.10 L429.50,108.13 L430.00,108.15 L430.50,108.16 L431.00,108.15 L431.50,108.14 L432.00,108.12 L432.50,108.09 L433.00,108.04 L433.50,107.97 L434.00,107.86 L434.50,107.66 L434.62,107.58 L434.75,107.47 L434.88,107.33 L435.00,107.14 L435.12,106.89 L435.25,106.55 L435.38,106.10 L435.50,105.50 L435.62,104.74 L435.75,103.77 L435.88,102.56 L436.00,101.09 L436.12,99.34 L436.25,97.32 L436.38,95.04 L436.50,92.55 L436.62,89.90 L436.75,87.19 L436.88,84.52 L437.00,82.03 L437.12,79.87 L437.25,78.19 L437.38,77.12 L437.50,76.74 L437.62,77.11 L437.75,78.19 L437.88,79.87 L438.00,82.03 L438.12,84.51 L438.25,87.18 L438.38,89.89 L438.50,92.54 L438.62,95.03 L438.75,97.31 L438.88,99.33 L439.00,101.07 L439.12,102.54 L439.25,103.74 L439.38,104.71 L439.50,105.48 L439.62,106.07 L439.75,106.52 L439.88,106.85 L440.00,107.11 L440.12,107.29 L440.25,107.43 L440.38,107.53 L440.50,107.61 L441.00,107.78 L441.40,107.84 L441.50,107.84 L441.52,107.84 L441.65,107.84 L441.77,107.82 L441.90,107.80 L442.00,107.77 L442.02,107.76 L442.15,107.69 L442.27,107.60 L442.40,107.48 L442.50,107.36 L442.52,107.32 L442.65,107.11 L442.77,106.84 L442.90,106.52 L443.00,106.21 L443.02,106.13 L443.15,105.68 L443.27,105.17 L443.40,104.61 L443.50,104.13 L443.52,104.01 L443.65,103.40 L443.77,102.80 L443.90,102.24 L444.00,101.84 L444.02,101.75 L444.15,101.37 L444.27,101.13 L444.40,101.05 L444.50,101.11 L444.52,101.14 L444.65,101.39 L444.77,101.78 L444.90,102.27 L445.00,102.73 L445.02,102.84 L445.15,103.46 L445.27,104.08 L445.40,104.68 L445.50,105.14 L445.52,105.26 L445.65,105.78 L445.77,106.24 L445.90,106.64 L446.00,106.92 L446.02,106.98 L446.15,107.26 L446.27,107.48 L446.40,107.66 L446.50,107.77 L446.52,107.79 L446.65,107.90 L446.77,107.98 L446.90,108.04 L447.00,108.07 L447.02,108.08 L447.15,108.12 L447.27,108.14 L447.40,108.16 L447.50,108.18 L448.00,108.22 L448.50,108.25 L449.00,108.27 L449.50,108.28 L450.00,108.29 L450.50,108.30 L451.00,108.31 L451.50,108.32 L452.00,108.32 L452.50,108.32 L453.00,108.32 L453.50,108.33 L454.00,108.33 L454.50,108.32 L455.00,108.32 L455.50,108.32 L456.00,108.31 L456.50,108.30 L457.00,108.29 L457.18,108.28 L457.35,108.27 L457.50,108.26 L457.52,108.26 L457.70,108.24 L457.88,108.22 L458.00,108.20 L458.05,108.19 L458.23,108.14 L458.40,108.09 L458.50,108.05 L458.57,108.02 L458.75,107.93 L458.93,107.82 L459.00,107.76 L459.10,107.68 L459.27,107.52 L459.45,107.33 L459.50,107.28 L459.62,107.12 L459.80,106.89 L459.98,106.65 L460.00,106.61 L460.15,106.40 L460.32,106.15 L460.50,105.92 L460.68,105.72 L460.85,105.57 L461.00,105.47 L461.02,105.46 L461.20,105.43 L461.38,105.46 L461.50,105.52 L461.55,105.55 L461.73,105.70 L461.90,105.90 L462.00,106.02 L462.07,106.12 L462.25,106.36 L462.43,106.60 L462.50,106.71 L462.60,106.84 L462.77,107.06 L462.95,107.26 L463.00,107.31 L463.05,107.36 L463.12,107.43 L463.19,107.48 L463.30,107.56 L463.34,107.59 L463.48,107.67 L463.48,107.67 L463.50,107.68 L463.62,107.73 L463.65,107.74 L463.77,107.76 L463.82,107.77 L463.91,107.77 L464.00,107.75 L464.06,107.74 L464.18,107.69 L464.20,107.68 L464.34,107.57 L464.35,107.57 L464.49,107.43 L464.50,107.41 L464.52,107.38 L464.63,107.24 L464.70,107.13 L464.77,106.99 L464.88,106.79 L464.92,106.70 L465.00,106.51 L465.05,106.38 L465.06,106.35 L465.21,105.95 L465.23,105.90 L465.35,105.52 L465.40,105.36 L465.49,105.05 L465.50,105.03 L465.64,104.58 L465.78,104.11 L465.93,103.67 L466.00,103.46 L466.07,103.29 L466.21,102.99 L466.36,102.81 L466.50,102.74 L466.64,102.81 L466.79,103.00 L466.93,103.30 L467.00,103.48 L467.07,103.69 L467.22,104.13 L467.36,104.60 L467.50,105.06 L467.51,105.08 L467.65,105.55 L467.79,106.00 L467.94,106.40 L468.00,106.56 L468.08,106.76 L468.23,107.07 L468.37,107.33 L468.50,107.53 L468.51,107.54 L468.66,107.72 L468.80,107.85 L468.94,107.96 L469.00,107.99 L469.09,108.04 L469.23,108.10 L469.38,108.14 L469.50,108.17 L469.52,108.18 L469.66,108.20 L469.81,108.22 L469.95,108.23 L470.00,108.24 L470.15,108.24 L470.29,108.25 L470.44,108.25 L470.50,108.26 L470.58,108.26 L470.73,108.26 L470.87,108.25 L471.00,108.24 L471.01,108.24 L471.16,108.23 L471.30,108.21 L471.44,108.19 L471.50,108.18 L471.59,108.16 L471.73,108.12 L471.88,108.07 L472.00,108.01 L472.02,108.01 L472.16,107.93 L472.31,107.85 L472.45,107.77 L472.50,107.73 L472.59,107.67 L472.74,107.57 L472.88,107.48 L473.00,107.41 L473.02,107.39 L473.17,107.31 L473.31,107.25 L473.46,107.22 L473.50,107.21 L473.60,107.20 L473.74,107.22 L473.89,107.26 L474.00,107.31 L474.03,107.32 L474.18,107.40 L474.32,107.49 L474.46,107.59 L474.50,107.62 L474.61,107.69 L474.75,107.79 L474.89,107.88 L475.00,107.94 L475.04,107.96 L475.18,108.04 L475.32,108.10 L475.47,108.16 L475.50,108.17 L475.61,108.20 L475.76,108.24 L475.90,108.27 L476.00,108.28 L476.04,108.29 L476.19,108.30 L476.33,108.32 L476.48,108.33 L476.50,108.33 L476.62,108.33 L476.76,108.34 L476.91,108.34 L477.00,108.35 L477.05,108.35 L477.50,108.36 L478.00,108.36 L478.50,108.36 L479.00,108.37 L479.50,108.37 L480.00,108.37 L480.50,108.37 L481.00,108.37 L481.50,108.37 L482.00,108.38 L482.50,108.38 L483.00,108.38 L483.50,108.37 L484.00,108.37 L484.50,108.37 L484.69,108.37 L484.88,108.37 L485.00,108.37 L485.06,108.37 L485.25,108.36 L485.44,108.36 L485.50,108.36 L485.62,108.35 L485.81,108.34 L486.00,108.33 L486.19,108.32 L486.38,108.30 L486.50,108.29 L486.56,108.28 L486.75,108.25 L486.94,108.22 L487.00,108.20 L487.12,108.18 L487.31,108.14 L487.50,108.09 L487.69,108.04 L487.88,107.99 L488.00,107.95 L488.06,107.94 L488.25,107.89 L488.44,107.85 L488.50,107.84 L488.62,107.82 L488.81,107.80 L489.00,107.79 L489.19,107.80 L489.38,107.82 L489.50,107.84 L489.56,107.85 L489.75,107.89 L489.94,107.94 L490.00,107.95 L490.12,107.99 L490.31,108.04 L490.50,108.09 L490.69,108.14 L490.88,108.18 L491.00,108.21 L491.06,108.22 L491.25,108.25 L491.44,108.28 L491.50,108.29 L491.62,108.30 L491.81,108.32 L492.00,108.34 L492.19,108.35 L492.38,108.36 L492.50,108.36 L492.56,108.36 L492.75,108.37 L492.94,108.37 L493.00,108.37 L493.12,108.37 L493.31,108.38 L493.50,108.38 L494.00,108.38 L494.50,108.38 L495.00,108.38 L495.50,108.39 L496.00,108.39 L496.50,108.39 L497.00,108.39 L497.50,108.39 L498.00,108.39 L498.50,108.39 L499.00,108.39 L499.50,108.39 L500.00,108.39 L500.50,108.39 L501.00,108.39 L501.50,108.39 L502.00,108.39 L502.50,108.39 L503.00,108.39 L503.50,108.39 L504.00,108.39 L504.50,108.39 L505.00,108.39 L505.50,108.39 L506.00,108.39 L506.50,108.39 L507.00,108.39 L507.50,108.39 L508.00,108.39 L508.50,108.39 L509.00,108.39 L509.50,108.39 L510.00,108.39 L510.50,108.39 L511.00,108.39 L511.50,108.39 L512.00,108.39 L512.50,108.39 L513.00,108.39 L513.50,108.39 L514.00,108.39 L514.50,108.39 L515.00,108.39 L515.50,108.39 L516.00,108.39 L516.50,108.39 L517.00,108.39 L517.50,108.39 L518.00,108.39 L518.50,108.39 L519.00,108.39 L519.50,108.39 L520.00,108.39 L520.50,108.39 L521.00,108.39 L521.50,108.39 L522.00,108.39 L522.50,108.39 L523.00,108.39 L523.50,108.39 L524.00,108.39 L524.50,108.39 L525.00,108.39 L525.50,108.39 L526.00,108.39 L526.50,108.39 L527.00,108.39 L527.50,108.39 L528.00,108.39 L528.50,108.39 L529.00,108.39 L529.50,108.39 L530.00,108.39 L530.50,108.39 L531.00,108.39 L531.50,108.39 L532.00,108.39 L532.50,108.39 L533.00,108.39 L533.50,108.39 L534.00,108.39 L534.50,108.39 L535.00,108.39 L535.50,108.38 L536.00,108.38 L536.50,108.38 L537.00,108.38 L537.50,108.38 L538.00,108.38 L538.50,108.38 L539.00,108.38 L539.50,108.38 L540.00,108.38 L540.50,108.38 L541.00,108.37 L541.50,108.37 L542.00,108.37 L542.50,108.37 L543.00,108.37 L543.50,108.37 L544.00,108.36 L544.50,108.36 L545.00,108.36 L545.50,108.35 L546.00,108.35 L546.50,108.34 L547.00,108.34 L547.50,108.33 L548.00,108.32 L548.50,108.31 L549.00,108.29 L549.05,108.29 L549.19,108.28 L549.34,108.28 L549.48,108.27 L549.50,108.26 L549.62,108.25 L549.77,108.23 L549.91,108.21 L550.00,108.19 L550.06,108.18 L550.20,108.14 L550.34,108.09 L550.49,108.03 L550.50,108.03 L550.63,107.96 L550.77,107.86 L550.92,107.76 L551.00,107.69 L551.06,107.63 L551.21,107.49 L551.35,107.33 L551.49,107.17 L551.50,107.16 L551.64,107.00 L551.78,106.84 L551.92,106.68 L552.00,106.61 L552.07,106.55 L552.21,106.44 L552.36,106.37 L552.50,106.34 L552.64,106.35 L552.79,106.41 L552.93,106.50 L553.00,106.55 L553.08,106.62 L553.22,106.75 L553.36,106.90 L553.50,107.04 L553.51,107.05 L553.65,107.18 L553.70,107.23 L553.79,107.31 L553.90,107.39 L553.94,107.42 L554.00,107.46 L554.08,107.50 L554.10,107.51 L554.23,107.56 L554.30,107.58 L554.37,107.59 L554.50,107.60 L554.51,107.60 L554.66,107.57 L554.70,107.56 L554.80,107.51 L554.90,107.45 L554.94,107.42 L555.00,107.38 L555.09,107.30 L555.10,107.28 L555.23,107.13 L555.30,107.04 L555.38,106.93 L555.50,106.71 L555.52,106.68 L555.66,106.38 L555.70,106.30 L555.81,106.04 L555.90,105.78 L555.95,105.64 L556.00,105.49 L556.10,105.17 L556.30,104.46 L556.50,103.65 L556.70,102.77 L556.90,101.83 L557.00,101.36 L557.10,100.87 L557.30,99.93 L557.50,99.05 L557.70,98.29 L557.90,97.69 L558.00,97.47 L558.10,97.31 L558.30,97.18 L558.50,97.32 L558.70,97.70 L558.90,98.29 L559.00,98.66 L559.10,99.06 L559.30,99.94 L559.50,100.89 L559.70,101.85 L559.90,102.79 L560.00,103.24 L560.10,103.67 L560.30,104.48 L560.50,105.20 L560.70,105.82 L560.90,106.34 L561.00,106.56 L561.10,106.77 L561.30,107.11 L561.50,107.38 L561.70,107.59 L561.90,107.75 L562.00,107.82 L562.10,107.88 L562.30,107.97 L562.50,108.03 L562.70,108.08 L562.90,108.12 L563.00,108.14 L563.10,108.15 L563.50,108.19 L564.00,108.23 L564.50,108.25 L565.00,108.27 L565.50,108.29 L566.00,108.30 L566.50,108.31 L567.00,108.32 L567.50,108.33 L568.00,108.34 L568.50,108.34 L569.00,108.35 L569.50,108.35 L570.00,108.35 L570.50,108.36 L571.00,108.36 L571.50,108.36 L572.00,108.37 L572.50,108.37 L573.00,108.37 L573.50,108.37 L574.00,108.37 L574.50,108.37 L575.00,108.38 L575.50,108.38 L576.00,108.38 L576.50,108.38 L577.00,108.38 L577.50,108.38 L578.00,108.38 L578.50,108.38 L579.00,108.38 L579.50,108.38 L580.00,108.38 L580.50,108.38 L581.00,108.38 L581.50,108.38 L582.00,108.38 L582.50,108.39 L583.00,108.39 L583.50,108.39 L584.00,108.39 L584.50,108.39 L585.00,108.39 L585.50,108.39 L586.00,108.39 L586.50,108.39 L587.00,108.39 L587.50,108.39 L588.00,108.39 L588.50,108.39 L589.00,108.39 L589.50,108.39 L590.00,108.39 L590.50,108.39 L591.00,108.39 L591.50,108.39 L592.00,108.39 L592.50,108.39 L593.00,108.39 L593.50,108.39 L594.00,108.39 L594.50,108.39 L595.00,108.39 L595.50,108.39 L596.00,108.38 L596.50,108.38 L597.00,108.38 L597.50,108.38 L598.00,108.38 L598.50,108.38 L599.00,108.38 L599.50,108.38 L600.00,108.38 L600.50,108.38 L601.00,108.38 L601.50,108.38 L602.00,108.38 L602.50,108.37 L603.00,108.37 L603.50,108.37 L604.00,108.37 L604.50,108.37 L605.00,108.36 L605.50,108.36 L606.00,108.36 L606.50,108.35 L607.00,108.35 L607.50,108.34 L608.00,108.34 L608.50,108.33 L609.00,108.32 L609.50,108.31 L610.00,108.30 L610.50,108.28 L610.80,108.26 L611.00,108.24 L611.02,108.24 L611.25,108.22 L611.48,108.19 L611.50,108.19 L611.70,108.15 L611.92,108.10 L612.00,108.08 L612.15,108.03 L612.38,107.94 L612.50,107.88 L612.60,107.82 L612.83,107.67 L613.00,107.52 L613.05,107.47 L613.27,107.22 L613.50,106.93 L613.73,106.57 L613.95,106.16 L614.00,106.07 L614.17,105.70 L614.40,105.20 L614.50,104.96 L614.62,104.66 L614.85,104.11 L615.00,103.75 L615.08,103.57 L615.30,103.07 L615.50,102.67 L615.52,102.63 L615.75,102.29 L615.98,102.07 L616.00,102.06 L616.20,102.00 L616.42,102.07 L616.50,102.13 L616.65,102.29 L616.88,102.63 L617.00,102.86 L617.10,103.07 L617.33,103.57 L617.50,103.99 L617.55,104.11 L617.77,104.66 L618.00,105.20 L618.23,105.70 L618.45,106.16 L618.50,106.26 L618.67,106.57 L618.90,106.93 L619.00,107.07 L619.12,107.22 L619.35,107.47 L619.50,107.61 L619.58,107.67 L619.80,107.82 L620.00,107.93 L620.02,107.94 L620.25,108.03 L620.48,108.10 L620.50,108.11 L620.70,108.15 L620.92,108.19 L621.00,108.20 L621.15,108.22 L621.38,108.24 L621.50,108.25 L621.60,108.26 L622.00,108.28 L622.50,108.30 L623.00,108.31 L623.50,108.32 L624.00,108.33 L624.50,108.34 L625.00,108.34 L625.50,108.35 L626.00,108.35 L626.50,108.36 L627.00,108.36 L627.50,108.36 L628.00,108.36 L628.50,108.37 L629.00,108.37 L629.10,108.37 L629.26,108.36 L629.42,108.36 L629.50,108.36 L629.59,108.36 L629.75,108.36 L629.91,108.36 L630.00,108.36 L630.08,108.35 L630.24,108.35 L630.40,108.34 L630.50,108.34 L630.56,108.33 L630.73,108.32 L630.89,108.31 L631.00,108.29 L631.05,108.29 L631.21,108.27 L631.38,108.24 L631.50,108.22 L631.54,108.21 L631.70,108.18 L631.86,108.15 L632.00,108.12 L632.02,108.11 L632.19,108.08 L632.35,108.05 L632.50,108.02 L632.51,108.02 L632.67,108.00 L632.84,107.99 L633.00,107.98 L633.16,107.99 L633.33,108.00 L633.49,108.02 L633.50,108.03 L633.65,108.05 L633.81,108.08 L633.98,108.12 L634.00,108.12 L634.14,108.15 L634.30,108.19 L634.46,108.22 L634.50,108.22 L634.62,108.25 L634.79,108.27 L634.95,108.29 L635.00,108.30 L635.11,108.31 L635.27,108.33 L635.44,108.34 L635.50,108.35 L635.60,108.35 L635.76,108.36 L635.92,108.37 L636.00,108.37 L636.09,108.37 L636.25,108.37 L636.41,108.38 L636.50,108.38 L636.58,108.38 L636.74,108.38 L636.90,108.38 L637.00,108.38 L637.50,108.38 L638.00,108.38 L638.50,108.39 L639.00,108.39 L639.50,108.39 L640.00,108.39 L640.50,108.39 L641.00,108.39 L641.50,108.39 L642.00,108.39 L642.50,108.39 L643.00,108.39 L643.50,108.39 L644.00,108.39 L644.50,108.39 L645.00,108.39 L645.50,108.39 L646.00,108.39 L646.50,108.39 L647.00,108.39 L647.50,108.39 L648.00,108.39 L648.50,108.39 L649.00,108.39 L649.50,108.39 L650.00,108.39 L650.50,108.39 L651.00,108.40 L651.50,108.40 L652.00,108.40 L652.50,108.40 L653.00,108.40 L653.50,108.40 L654.00,108.40 L654.50,108.40 L655.00,108.40 L655.50,108.40 L656.00,108.40 L656.50,108.40 L657.00,108.40 L657.50,108.40 L658.00,108.40 L658.50,108.40 L659.00,108.40 L659.50,108.40 L660.00,108.40 L660.50,108.40 L661.00,108.40 L661.50,108.40 L662.00,108.40 L662.50,108.40 L663.00,108.40 L663.50,108.40 L664.00,108.40 L664.50,108.40 L665.00,108.40 L665.50,108.40 L666.00,108.40 L666.50,108.40 L667.00,108.40 L667.50,108.40 L668.00,108.40 L668.50,108.40 L669.00,108.40 L669.50,108.40 L670.00,108.40 L670.50,108.40 L671.00,108.40 L671.50,108.40 L672.00,108.40 L672.50,108.40 L673.00,108.40 L673.50,108.40 L674.00,108.40 L674.50,108.40 L675.00,108.40 L675.50,108.40 L676.00,108.40 L676.50,108.40"/><path stroke="#1e6edc" d="M375.50,145.29 L376.00,145.29 L376.50,145.29 L377.00,145.29 L377.50,145.29 L378.00,145.29 L378.50,145.29 L379.00,145.29 L379.50,145.29 L380.00,145.29 L380.50,145.29 L381.00,145.29 L381.50,145.29 L382.00,145.29 L382.50,145.29 L383.00,145.29 L383.50,145.29 L384.00,145.29 L384.50,145.29 L385.00,145.29 L385.50,145.29 L386.00,145.29 L386.50,145.29 L387.00,145.29 L387.50,145.29 L388.00,145.29 L388.50,145.29 L389.00,145.29 L389.50,145.29 L390.00,145.29 L390.50,145.29 L391.00,145.28 L391.50,145.28 L392.00,145.28 L392.50,145.28 L393.00,145.28 L393.50,145.28 L394.00,145.28 L394.50,145.27 L395.00,145.27 L395.50,145.27 L396.00,145.26 L396.50,145.26 L397.00,145.25 L397.50,145.24 L398.00,145.23 L398.05,145.22 L398.19,145.22 L398.34,145.21 L398.48,145.19 L398.50,145.19 L398.62,145.17 L398.77,145.15 L398.91,145.12 L399.00,145.09 L399.06,145.07 L399.20,145.02 L399.34,144.94 L399.49,144.85 L399.50,144.84 L399.63,144.74 L399.77,144.60 L399.92,144.43 L400.00,144.33 L400.06,144.24 L400.21,144.02 L400.35,143.79 L400.49,143.53 L400.50,143.52 L400.64,143.28 L400.78,143.02 L400.93,142.79 L401.00,142.68 L401.07,142.58 L401.21,142.42 L401.36,142.32 L401.50,142.29 L401.64,142.32 L401.79,142.42 L401.93,142.58 L402.00,142.67 L402.07,142.79 L402.22,143.02 L402.36,143.28 L402.50,143.52 L402.51,143.53 L402.65,143.78 L402.79,144.02 L402.94,144.24 L403.00,144.32 L403.08,144.43 L403.23,144.59 L403.37,144.73 L403.50,144.84 L403.51,144.85 L403.66,144.94 L403.80,145.01 L403.94,145.07 L404.00,145.09 L404.09,145.11 L404.23,145.14 L404.38,145.17 L404.50,145.18 L404.52,145.19 L404.66,145.20 L404.81,145.21 L404.95,145.22 L405.00,145.22 L405.50,145.23 L406.00,145.24 L406.50,145.25 L407.00,145.25 L407.50,145.26 L408.00,145.26 L408.50,145.26 L409.00,145.26 L409.50,145.26 L410.00,145.26 L410.50,145.26 L411.00,145.26 L411.50,145.26 L412.00,145.26 L412.50,145.25 L413.00,145.25 L413.50,145.25 L414.00,145.25 L414.50,145.24 L415.00,145.24 L415.50,145.24 L416.00,145.23 L416.50,145.23 L417.00,145.22 L417.50,145.21 L418.00,145.20 L418.50,145.19 L419.00,145.18 L419.50,145.16 L420.00,145.14 L420.50,145.11 L421.00,145.08 L421.50,145.03 L422.00,144.96 L422.50,144.85 L422.70,144.78 L422.82,144.72 L422.95,144.65 L423.00,144.61 L423.07,144.54 L423.20,144.41 L423.32,144.23 L423.45,143.99 L423.50,143.87 L423.57,143.67 L423.70,143.24 L423.82,142.70 L423.95,142.01 L424.00,141.69 L424.07,141.15 L424.20,140.11 L424.32,138.87 L424.45,137.44 L424.50,136.82 L424.57,135.83 L424.70,134.06 L424.82,132.18 L424.95,130.25 L425.00,129.49 L425.07,128.36 L425.20,126.60 L425.32,125.07 L425.45,123.87 L425.50,123.51 L425.57,123.11 L425.70,122.85 L425.82,123.11 L425.95,123.87 L426.00,124.30 L426.07,125.06 L426.20,126.59 L426.32,128.35 L426.45,130.24 L426.50,131.01 L426.57,132.16 L426.70,134.04 L426.82,135.81 L426.95,137.42 L427.00,138.02 L427.07,138.85 L427.20,140.09 L427.32,141.13 L427.45,141.99 L427.50,142.28 L427.57,142.67 L427.70,143.21 L427.82,143.63 L427.95,143.95 L428.00,144.06 L428.07,144.19 L428.20,144.37 L428.32,144.50 L428.45,144.60 L428.50,144.63 L428.57,144.68 L428.70,144.73 L429.00,144.82 L429.50,144.91 L430.00,144.96 L430.50,144.99 L431.00,145.00 L431.50,145.01 L432.00,145.00 L432.50,144.98 L433.00,144.95 L433.50,144.91 L434.00,144.84 L434.50,144.73 L435.00,144.53 L435.12,144.45 L435.25,144.34 L435.38,144.20 L435.50,144.00 L435.62,143.74 L435.75,143.40 L435.88,142.93 L436.00,142.33 L436.12,141.55 L436.25,140.55 L436.38,139.32 L436.50,137.82 L436.62,136.03 L436.75,133.97 L436.88,131.64 L437.00,129.09 L437.12,126.38 L437.25,123.61 L437.38,120.88 L437.50,118.34 L437.62,116.13 L437.75,114.41 L437.88,113.31 L438.00,112.94 L438.12,113.31 L438.25,114.41 L438.38,116.13 L438.50,118.34 L438.62,120.88 L438.75,123.60 L438.88,126.37 L439.00,129.08 L439.12,131.63 L439.25,133.96 L439.38,136.02 L439.50,137.81 L439.62,139.31 L439.75,140.54 L439.88,141.53 L440.00,142.31 L440.12,142.92 L440.25,143.38 L440.38,143.72 L440.50,143.98 L440.62,144.17 L440.75,144.31 L440.88,144.42 L441.00,144.50 L441.50,144.68 L442.00,144.77 L442.30,144.78 L442.43,144.78 L442.50,144.78 L442.55,144.77 L442.68,144.76 L442.80,144.72 L442.93,144.68 L443.00,144.64 L443.05,144.61 L443.18,144.52 L443.30,144.39 L443.43,144.22 L443.50,144.09 L443.55,144.00 L443.68,143.73 L443.80,143.39 L443.93,142.99 L444.00,142.72 L444.05,142.52 L444.18,142.00 L444.30,141.42 L444.43,140.80 L444.50,140.43 L444.55,140.17 L444.68,139.55 L444.80,138.98 L444.93,138.48 L445.00,138.23 L445.05,138.09 L445.18,137.84 L445.30,137.76 L445.43,137.85 L445.50,137.98 L445.55,138.10 L445.68,138.50 L445.80,139.01 L445.93,139.60 L446.00,139.97 L446.05,140.22 L446.18,140.86 L446.30,141.48 L446.43,142.07 L446.50,142.40 L446.55,142.61 L446.68,143.08 L446.80,143.49 L446.93,143.84 L447.00,144.02 L447.05,144.13 L447.18,144.35 L447.30,144.54 L447.43,144.68 L447.50,144.75 L447.55,144.78 L447.68,144.87 L447.80,144.93 L447.93,144.97 L448.00,145.00 L448.05,145.01 L448.18,145.03 L448.30,145.06 L448.50,145.08 L449.00,145.12 L449.50,145.15 L450.00,145.16 L450.50,145.18 L451.00,145.19 L451.50,145.20 L452.00,145.20 L452.50,145.21 L453.00,145.21 L453.50,145.21 L454.00,145.21 L454.50,145.21 L455.00,145.21 L455.50,145.20 L456.00,145.20 L456.50,145.19 L457.00,145.18 L457.50,145.16 L458.00,145.14 L458.40,145.10 L458.50,145.09 L458.54,145.08 L458.68,145.06 L458.81,145.03 L458.95,144.99 L459.00,144.97 L459.09,144.93 L459.23,144.86 L459.36,144.76 L459.50,144.63 L459.64,144.47 L459.77,144.26 L459.91,144.00 L460.00,143.80 L460.05,143.68 L460.19,143.30 L460.32,142.87 L460.46,142.38 L460.50,142.24 L460.60,141.84 L460.74,141.27 L460.88,140.68 L461.00,140.16 L461.01,140.11 L461.15,139.57 L461.29,139.11 L461.43,138.74 L461.50,138.60 L461.56,138.51 L461.70,138.43 L461.84,138.51 L461.98,138.74 L462.00,138.79 L462.11,139.10 L462.25,139.56 L462.39,140.09 L462.50,140.55 L462.52,140.66 L462.66,141.24 L462.80,141.81 L462.94,142.34 L463.00,142.57 L463.07,142.83 L463.21,143.26 L463.35,143.63 L463.49,143.94 L463.50,143.97 L463.62,144.19 L463.76,144.40 L463.90,144.55 L464.00,144.64 L464.04,144.67 L464.18,144.76 L464.31,144.82 L464.40,144.85 L464.45,144.86 L464.50,144.87 L464.54,144.87 L464.59,144.88 L464.68,144.88 L464.73,144.88 L464.81,144.88 L464.86,144.87 L464.95,144.86 L465.00,144.84 L465.09,144.82 L465.23,144.75 L465.36,144.66 L465.50,144.54 L465.64,144.38 L465.77,144.17 L465.91,143.91 L466.00,143.71 L466.05,143.58 L466.19,143.20 L466.32,142.76 L466.46,142.26 L466.50,142.11 L466.60,141.71 L466.74,141.12 L466.88,140.53 L467.00,139.99 L467.01,139.94 L467.15,139.39 L467.29,138.92 L467.43,138.54 L467.50,138.40 L467.56,138.31 L467.70,138.23 L467.84,138.31 L467.98,138.55 L468.00,138.61 L468.11,138.93 L468.25,139.40 L468.39,139.95 L468.50,140.44 L468.52,140.55 L468.66,141.15 L468.80,141.73 L468.94,142.29 L469.00,142.52 L469.07,142.79 L469.21,143.24 L469.35,143.63 L469.49,143.95 L469.50,143.98 L469.62,144.22 L469.76,144.43 L469.90,144.60 L470.00,144.70 L470.04,144.73 L470.18,144.83 L470.31,144.90 L470.45,144.96 L470.50,144.97 L470.59,145.00 L470.65,145.01 L470.73,145.03 L470.79,145.04 L470.86,145.04 L470.94,145.05 L471.00,145.06 L471.08,145.06 L471.23,145.06 L471.37,145.05 L471.50,145.04 L471.51,145.04 L471.66,145.02 L471.80,144.99 L471.94,144.94 L472.00,144.92 L472.09,144.88 L472.23,144.81 L472.38,144.72 L472.50,144.62 L472.52,144.61 L472.66,144.47 L472.81,144.33 L472.95,144.17 L473.00,144.11 L473.09,143.99 L473.24,143.81 L473.38,143.64 L473.50,143.51 L473.52,143.48 L473.67,143.34 L473.81,143.23 L473.96,143.16 L474.00,143.15 L474.10,143.14 L474.24,143.16 L474.39,143.24 L474.50,143.32 L474.53,143.35 L474.68,143.50 L474.82,143.66 L474.96,143.84 L475.00,143.89 L475.11,144.02 L475.25,144.20 L475.39,144.37 L475.50,144.48 L475.54,144.52 L475.68,144.65 L475.82,144.77 L475.97,144.87 L476.00,144.89 L476.11,144.95 L476.26,145.02 L476.40,145.07 L476.50,145.10 L476.54,145.11 L476.69,145.14 L476.83,145.16 L476.98,145.18 L477.00,145.18 L477.12,145.19 L477.26,145.20 L477.41,145.21 L477.50,145.22 L477.55,145.22 L478.00,145.23 L478.50,145.24 L479.00,145.25 L479.50,145.25 L480.00,145.25 L480.50,145.26 L481.00,145.26 L481.50,145.26 L482.00,145.26 L482.50,145.26 L483.00,145.26 L483.50,145.26 L484.00,145.26 L484.50,145.26 L484.69,145.25 L484.88,145.25 L485.00,145.25 L485.06,145.25 L485.25,145.24 L485.44,145.23 L485.50,145.23 L485.62,145.22 L485.81,145.21 L486.00,145.19 L486.19,145.17 L486.38,145.14 L486.50,145.11 L486.56,145.10 L486.75,145.05 L486.94,145.00 L487.00,144.98 L487.12,144.93 L487.31,144.86 L487.50,144.78 L487.69,144.70 L487.88,144.61 L488.00,144.56 L488.06,144.53 L488.25,144.45 L488.44,144.38 L488.50,144.36 L488.62,144.33 L488.81,144.30 L489.00,144.28 L489.19,144.30 L489.38,144.33 L489.50,144.36 L489.56,144.38 L489.75,144.45 L489.94,144.53 L490.00,144.56 L490.12,144.62 L490.31,144.70 L490.50,144.79 L490.69,144.87 L490.88,144.94 L491.00,144.98 L491.06,145.00 L491.25,145.06 L491.44,145.10 L491.50,145.12 L491.62,145.14 L491.81,145.17 L492.00,145.20 L492.19,145.22 L492.38,145.23 L492.50,145.24 L492.56,145.24 L492.75,145.25 L492.94,145.26 L493.00,145.26 L493.12,145.26 L493.31,145.26 L493.50,145.27 L494.00,145.27 L494.50,145.27 L495.00,145.28 L495.50,145.28 L496.00,145.28 L496.50,145.28 L497.00,145.28 L497.50,145.28 L498.00,145.28 L498.50,145.28 L499.00,145.29 L499.50,145.29 L500.00,145.29 L500.50,145.29 L501.00,145.29 L501.50,145.29 L502.00,145.29 L502.50,145.29 L503.00,145.29 L503.50,145.29 L504.00,145.29 L504.50,145.29 L505.00,145.29 L505.50,145.29 L506.00,145.29 L506.50,145.29 L507.00,145.29 L507.50,145.29 L508.00,145.29 L508.50,145.29 L509.00,145.29 L509.50,145.29 L510.00,145.29 L510.50,145.29 L511.00,145.29 L511.50,145.29 L512.00,145.29 L512.50,145.29 L513.00,145.29 L513.50,145.29 L514.00,145.29 L514.50,145.29 L515.00,145.29 L515.50,145.29 L516.00,145.29 L516.50,145.29 L517.00,145.29 L517.50,145.29 L518.00,145.29 L518.50,145.29 L519.00,145.29 L519.50,145.29 L520.00,145.29 L520.50,145.29 L521.00,145.29 L521.50,145.29 L522.00,145.29 L522.50,145.29 L523.00,145.29 L523.50,145.29 L524.00,145.29 L524.50,145.29 L525.00,145.29 L525.50,145.29 L526.00,145.29 L526.50,145.29 L527.00,145.29 L527.50,145.29 L528.00,145.29 L528.50,145.29 L529.00,145.29 L529.50,145.29 L530.00,145.28 L530.50,145.28 L531.00,145.28 L531.50,145.28 L532.00,145.28 L532.50,145.28 L533.00,145.28 L533.50,145.28 L534.00,145.28 L534.50,145.28 L535.00,145.28 L535.50,145.28 L536.00,145.28 L536.50,145.28 L537.00,145.28 L537.50,145.27 L538.00,145.27 L538.50,145.27 L539.00,145.27 L539.50,145.27 L540.00,145.27 L540.50,145.27 L541.00,145.26 L541.50,145.26 L542.00,145.26 L542.50,145.26 L543.00,145.25 L543.50,145.25 L544.00,145.25 L544.50,145.24 L545.00,145.24 L545.50,145.23 L546.00,145.22 L546.50,145.22 L547.00,145.21 L547.50,145.19 L548.00,145.18 L548.50,145.16 L549.00,145.13 L549.05,145.12 L549.19,145.11 L549.34,145.09 L549.48,145.07 L549.50,145.07 L549.62,145.04 L549.77,145.00 L549.91,144.95 L550.00,144.91 L550.06,144.88 L550.20,144.79 L550.34,144.68 L550.49,144.53 L550.50,144.52 L550.63,144.35 L550.77,144.13 L550.92,143.88 L551.00,143.71 L551.06,143.58 L551.21,143.24 L551.35,142.88 L551.49,142.48 L551.50,142.47 L551.64,142.08 L551.78,141.69 L551.92,141.33 L552.00,141.15 L552.07,141.01 L552.21,140.76 L552.36,140.59 L552.50,140.53 L552.64,140.58 L552.79,140.73 L552.93,140.97 L553.00,141.10 L553.08,141.27 L553.22,141.62 L553.36,142.00 L553.50,142.37 L553.51,142.39 L553.65,142.76 L553.79,143.11 L553.94,143.43 L554.00,143.55 L554.08,143.70 L554.23,143.94 L554.37,144.13 L554.40,144.17 L554.50,144.27 L554.51,144.28 L554.60,144.35 L554.66,144.39 L554.80,144.46 L554.94,144.50 L555.00,144.51 L555.09,144.51 L555.20,144.50 L555.23,144.49 L555.38,144.44 L555.40,144.43 L555.50,144.37 L555.52,144.36 L555.60,144.30 L555.66,144.24 L555.80,144.10 L555.81,144.10 L555.95,143.91 L556.00,143.83 L556.20,143.48 L556.40,143.02 L556.50,142.75 L556.60,142.44 L556.80,141.74 L557.00,140.91 L557.20,139.94 L557.40,138.85 L557.50,138.26 L557.60,137.65 L557.80,136.38 L558.00,135.08 L558.20,133.80 L558.40,132.61 L558.50,132.06 L558.60,131.57 L558.80,130.76 L559.00,130.25 L559.20,130.07 L559.40,130.25 L559.50,130.47 L559.60,130.77 L559.80,131.58 L560.00,132.62 L560.20,133.81 L560.40,135.10 L560.50,135.75 L560.60,136.40 L560.80,137.68 L561.00,138.88 L561.20,139.98 L561.40,140.95 L561.50,141.39 L561.60,141.79 L561.80,142.50 L562.00,143.08 L562.20,143.55 L562.40,143.92 L562.50,144.07 L562.60,144.20 L562.80,144.42 L563.00,144.58 L563.20,144.71 L563.40,144.80 L563.50,144.84 L563.60,144.87 L563.80,144.92 L564.00,144.96 L564.50,145.03 L565.00,145.07 L565.50,145.10 L566.00,145.13 L566.50,145.15 L567.00,145.17 L567.50,145.18 L568.00,145.19 L568.50,145.20 L569.00,145.21 L569.50,145.22 L570.00,145.23 L570.50,145.23 L571.00,145.24 L571.50,145.24 L572.00,145.25 L572.50,145.25 L573.00,145.25 L573.50,145.26 L574.00,145.26 L574.50,145.26 L575.00,145.26 L575.50,145.26 L576.00,145.27 L576.50,145.27 L577.00,145.27 L577.50,145.27 L578.00,145.27 L578.50,145.27 L579.00,145.27 L579.50,145.27 L580.00,145.27 L580.50,145.28 L581.00,145.28 L581.50,145.28 L582.00,145.28 L582.50,145.28 L583.00,145.28 L583.50,145.28 L584.00,145.28 L584.50,145.28 L585.00,145.28 L585.50,145.28 L586.00,145.28 L586.50,145.28 L587.00,145.28 L587.50,145.28 L588.00,145.28 L588.50,145.28 L589.00,145.28 L589.50,145.28 L590.00,145.28 L590.50,145.28 L591.00,145.28 L591.50,145.28 L592.00,145.28 L592.50,145.28 L593.00,145.28 L593.50,145.28 L594.00,145.28 L594.50,145.28 L595.00,145.28 L595.50,145.28 L596.00,145.28 L596.50,145.28 L597.00,145.28 L597.50,145.28 L598.00,145.28 L598.50,145.28 L599.00,145.28 L599.50,145.28 L600.00,145.27 L600.50,145.27 L601.00,145.27 L601.50,145.27 L602.00,145.27 L602.50,145.27 L603.00,145.27 L603.50,145.27 L604.00,145.26 L604.50,145.26 L605.00,145.26 L605.50,145.26 L606.00,145.25 L606.50,145.25 L607.00,145.24 L607.50,145.24 L608.00,145.23 L608.50,145.23 L609.00,145.22 L609.50,145.21 L610.00,145.19 L610.50,145.18 L611.00,145.16 L611.40,145.13 L611.50,145.12 L611.61,145.11 L611.83,145.09 L612.00,145.06 L612.04,145.05 L612.25,145.01 L612.46,144.95 L612.50,144.94 L612.67,144.87 L612.89,144.77 L613.00,144.70 L613.10,144.64 L613.31,144.46 L613.50,144.27 L613.52,144.24 L613.74,143.96 L613.95,143.63 L614.00,143.54 L614.16,143.23 L614.38,142.77 L614.50,142.47 L614.59,142.25 L614.80,141.68 L615.00,141.11 L615.01,141.08 L615.23,140.46 L615.44,139.85 L615.50,139.68 L615.65,139.28 L615.86,138.79 L616.00,138.53 L616.08,138.41 L616.29,138.16 L616.50,138.08 L616.71,138.16 L616.92,138.40 L617.00,138.52 L617.14,138.79 L617.35,139.28 L617.50,139.67 L617.56,139.84 L617.77,140.45 L617.99,141.06 L618.00,141.10 L618.20,141.67 L618.41,142.24 L618.50,142.46 L618.62,142.75 L618.84,143.21 L619.00,143.52 L619.05,143.61 L619.26,143.94 L619.40,144.12 L619.48,144.21 L619.50,144.24 L619.55,144.29 L619.69,144.43 L619.70,144.44 L619.85,144.56 L619.90,144.60 L620.00,144.66 L620.11,144.72 L620.15,144.74 L620.30,144.81 L620.33,144.81 L620.45,144.85 L620.50,144.87 L620.54,144.88 L620.60,144.89 L620.75,144.91 L620.90,144.92 L620.96,144.92 L621.00,144.92 L621.05,144.92 L621.17,144.91 L621.20,144.91 L621.35,144.89 L621.39,144.89 L621.50,144.87 L621.60,144.84 L621.65,144.83 L621.80,144.79 L621.95,144.74 L622.00,144.73 L622.10,144.69 L622.25,144.64 L622.40,144.60 L622.50,144.57 L622.55,144.56 L622.70,144.52 L622.85,144.50 L623.00,144.49 L623.15,144.49 L623.30,144.51 L623.45,144.53 L623.50,144.54 L623.60,144.56 L623.75,144.60 L623.90,144.65 L624.00,144.67 L624.05,144.69 L624.20,144.73 L624.35,144.76 L624.50,144.79 L624.65,144.82 L624.80,144.84 L624.95,144.85 L625.00,144.85 L625.10,144.86 L625.25,144.86 L625.40,144.85 L625.50,144.85 L625.55,144.85 L625.70,144.84 L625.85,144.82 L626.00,144.80 L626.15,144.79 L626.30,144.77 L626.45,144.75 L626.50,144.74 L626.60,144.72 L627.00,144.66 L627.50,144.58 L628.00,144.50 L628.50,144.42 L629.00,144.36 L629.50,144.30 L630.00,144.27 L630.50,144.25 L630.60,144.25 L630.73,144.25 L630.85,144.25 L630.98,144.25 L631.00,144.26 L631.10,144.26 L631.23,144.26 L631.35,144.26 L631.48,144.25 L631.50,144.25 L631.60,144.25 L631.73,144.24 L631.85,144.23 L631.98,144.21 L632.00,144.20 L632.10,144.18 L632.23,144.15 L632.35,144.11 L632.48,144.06 L632.50,144.05 L632.60,144.01 L632.73,143.95 L632.85,143.90 L632.98,143.84 L633.00,143.83 L633.10,143.79 L633.23,143.75 L633.35,143.72 L633.48,143.71 L633.50,143.72 L633.60,143.73 L633.73,143.76 L633.85,143.81 L633.98,143.88 L634.00,143.90 L634.10,143.96 L634.23,144.05 L634.35,144.15 L634.48,144.25 L634.50,144.27 L634.60,144.34 L634.73,144.44 L634.85,144.52 L634.98,144.60 L635.00,144.61 L635.10,144.67 L635.23,144.73 L635.35,144.78 L635.48,144.82 L635.50,144.83 L635.60,144.86 L635.73,144.90 L635.85,144.92 L635.98,144.95 L636.00,144.95 L636.10,144.97 L636.23,144.99 L636.35,145.01 L636.48,145.02 L636.50,145.03 L636.60,145.04 L637.00,145.08 L637.19,145.09 L637.38,145.11 L637.50,145.11 L637.56,145.12 L637.75,145.13 L637.94,145.13 L638.00,145.14 L638.12,145.14 L638.31,145.14 L638.50,145.14 L638.69,145.13 L638.88,145.12 L639.00,145.11 L639.06,145.10 L639.25,145.08 L639.44,145.05 L639.50,145.04 L639.62,145.02 L639.81,144.98 L640.00,144.94 L640.19,144.89 L640.38,144.84 L640.50,144.81 L640.56,144.80 L640.75,144.75 L640.94,144.71 L641.00,144.70 L641.12,144.68 L641.31,144.67 L641.50,144.66 L641.69,144.67 L641.88,144.69 L642.00,144.71 L642.06,144.72 L642.25,144.77 L642.44,144.82 L642.50,144.83 L642.62,144.87 L642.81,144.92 L643.00,144.97 L643.19,145.02 L643.38,145.06 L643.50,145.09 L643.56,145.10 L643.75,145.14 L643.94,145.16 L644.00,145.17 L644.12,145.19 L644.31,145.21 L644.50,145.22 L644.69,145.23 L644.88,145.24 L645.00,145.25 L645.06,145.25 L645.25,145.26 L645.44,145.26 L645.50,145.26 L645.62,145.26 L645.81,145.26 L646.00,145.27 L646.50,145.27 L647.00,145.27 L647.50,145.28 L648.00,145.28 L648.50,145.28 L649.00,145.28 L649.50,145.28 L650.00,145.28 L650.50,145.28 L651.00,145.28 L651.50,145.28 L652.00,145.29 L652.50,145.29 L653.00,145.29 L653.50,145.29 L654.00,145.29 L654.50,145.29 L655.00,145.29 L655.50,145.29 L656.00,145.29 L656.50,145.29 L657.00,145.29 L657.50,145.29 L658.00,145.29 L658.50,145.29 L659.00,145.29 L659.50,145.29 L660.00,145.29 L660.50,145.29 L661.00,145.29 L661.50,145.29 L662.00,145.29 L662.50,145.29 L663.00,145.29 L663.50,145.29 L664.00,145.29 L664.50,145.29 L665.00,145.29 L665.50,145.29 L666.00,145.29 L666.50,145.29 L667.00,145.29 L667.50,145.29 L668.00,145.29 L668.50,145.29 L669.00,145.29 L669.50,145.29 L670.00,145.29 L670.50,145.30 L671.00,145.30 L671.50,145.30 L672.00,145.30 L672.50,145.30 L673.00,145.30 L673.50,145.30 L674.00,145.30 L674.50,145.30 L675.00,145.30 L675.50,145.30 L676.00,145.30 L676.50,145.30"/><path stroke="#ee5055" d="M375.50,182.20 L376.00,182.20 L376.50,182.20 L377.00,182.20 L377.50,182.20 L378.00,182.20 L378.50,182.20 L379.00,182.20 L379.50,182.20 L380.00,182.20 L380.50,182.20 L381.00,182.20 L381.50,182.20 L382.00,182.20 L382.50,182.20 L383.00,182.20 L383.50,182.20 L384.00,182.20 L384.50,182.20 L385.00,182.20 L385.50,182.20 L386.00,182.20 L386.50,182.20 L387.00,182.20 L387.50,182.20 L388.00,182.20 L388.50,182.20 L389.00,182.20 L389.50,182.20 L390.00,182.20 L390.50,182.20 L391.00,182.20 L391.50,182.20 L392.00,182.20 L392.50,182.20 L393.00,182.20 L393.50,182.20 L394.00,182.20 L394.50,182.20 L395.00,182.20 L395.50,182.20 L396.00,182.20 L396.50,182.20 L397.00,182.19 L397.50,182.19 L398.00,182.19 L398.50,182.19 L399.00,182.19 L399.50,182.19 L400.00,182.19 L400.50,182.19 L401.00,182.19 L401.50,182.19 L402.00,182.19 L402.50,182.19 L403.00,182.19 L403.50,182.19 L404.00,182.19 L404.50,182.19 L405.00,182.19 L405.50,182.19 L406.00,182.19 L406.50,182.19 L407.00,182.19 L407.50,182.19 L408.00,182.19 L408.50,182.19 L409.00,182.19 L409.50,182.19 L410.00,182.19 L410.50,182.19 L411.00,182.19 L411.50,182.19 L412.00,182.19 L412.50,182.19 L413.00,182.19 L413.50,182.18 L414.00,182.18 L414.50,182.18 L415.00,182.18 L415.50,182.18 L416.00,182.18 L416.50,182.18 L417.00,182.18 L417.50,182.18 L418.00,182.17 L418.50,182.17 L419.00,182.17 L419.50,182.17 L420.00,182.17 L420.50,182.16 L420.69,182.16 L420.88,182.16 L421.00,182.15 L421.06,182.15 L421.25,182.15 L421.44,182.14 L421.50,182.14 L421.62,182.14 L421.81,182.13 L422.00,182.11 L422.19,182.10 L422.38,182.08 L422.50,182.06 L422.56,182.06 L422.75,182.03 L422.94,181.99 L423.00,181.98 L423.12,181.95 L423.31,181.91 L423.50,181.86 L423.69,181.81 L423.88,181.76 L424.00,181.72 L424.06,181.71 L424.25,181.66 L424.44,181.61 L424.50,181.60 L424.62,181.58 L424.81,181.56 L425.00,181.55 L425.19,181.56 L425.38,181.57 L425.50,181.59 L425.56,181.61 L425.75,181.64 L425.94,181.69 L426.00,181.71 L426.12,181.74 L426.31,181.79 L426.50,181.84 L426.69,181.88 L426.88,181.92 L427.00,181.95 L427.06,181.96 L427.25,181.99 L427.44,182.01 L427.50,182.02 L427.62,182.03 L427.81,182.05 L428.00,182.06 L428.19,182.07 L428.38,182.07 L428.50,182.07 L428.56,182.07 L428.75,182.07 L428.94,182.07 L429.00,182.07 L429.12,182.07 L429.31,182.06 L429.50,182.06 L430.00,182.04 L430.50,182.02 L431.00,181.99 L431.50,181.96 L432.00,181.91 L432.50,181.84 L433.00,181.74 L433.50,181.58 L433.70,181.48 L433.82,181.39 L433.95,181.28 L434.00,181.22 L434.07,181.13 L434.20,180.93 L434.32,180.66 L434.45,180.30 L434.50,180.13 L434.57,179.82 L434.70,179.20 L434.82,178.39 L434.95,177.37 L435.00,176.89 L435.07,176.09 L435.20,174.55 L435.32,172.71 L435.45,170.58 L435.50,169.65 L435.57,168.18 L435.70,165.55 L435.82,162.75 L435.95,159.90 L436.00,158.76 L436.07,157.09 L436.20,154.47 L436.32,152.19 L436.45,150.42 L436.50,149.88 L436.57,149.29 L436.70,148.90 L436.82,149.29 L436.95,150.42 L437.00,151.06 L437.07,152.19 L437.20,154.47 L437.32,157.09 L437.45,159.90 L437.50,161.04 L437.57,162.75 L437.70,165.55 L437.82,168.18 L437.95,170.58 L438.00,171.46 L438.07,172.71 L438.20,174.55 L438.32,176.10 L438.45,177.37 L438.50,177.81 L438.57,178.39 L438.70,179.20 L438.82,179.82 L438.95,180.30 L439.00,180.46 L439.07,180.66 L439.20,180.93 L439.32,181.13 L439.45,181.28 L439.50,181.33 L439.57,181.39 L439.70,181.48 L440.00,181.62 L440.50,181.76 L441.00,181.85 L441.50,181.92 L442.00,181.97 L442.50,182.00 L443.00,182.03 L443.50,182.06 L444.00,182.07 L444.50,182.09 L445.00,182.10 L445.50,182.11 L446.00,182.12 L446.50,182.13 L447.00,182.13 L447.50,182.14 L448.00,182.14 L448.50,182.15 L449.00,182.15 L449.50,182.15 L450.00,182.16 L450.50,182.16 L451.00,182.16 L451.50,182.16 L452.00,182.16 L452.50,182.17 L453.00,182.17 L453.50,182.17 L454.00,182.17 L454.50,182.17 L455.00,182.17 L455.50,182.17 L456.00,182.17 L456.50,182.17 L457.00,182.17 L457.50,182.17 L458.00,182.16 L458.50,182.16 L459.00,182.16 L459.50,182.15 L459.75,182.14 L459.89,182.14 L460.00,182.14 L460.04,182.13 L460.18,182.13 L460.32,182.12 L460.47,182.11 L460.50,182.10 L460.61,182.09 L460.76,182.07 L460.90,182.04 L461.00,182.02 L461.04,182.01 L461.19,181.96 L461.33,181.91 L461.48,181.84 L461.50,181.83 L461.62,181.77 L461.76,181.68 L461.91,181.57 L462.00,181.50 L462.05,181.46 L462.19,181.34 L462.34,181.22 L462.48,181.10 L462.50,181.09 L462.62,180.99 L462.77,180.89 L462.91,180.81 L463.00,180.78 L463.06,180.76 L463.20,180.74 L463.34,180.76 L463.49,180.80 L463.50,180.80 L463.55,180.83 L463.63,180.87 L463.69,180.90 L463.77,180.95 L463.84,181.00 L463.92,181.05 L463.98,181.10 L464.00,181.11 L464.06,181.16 L464.12,181.20 L464.21,181.26 L464.27,181.30 L464.35,181.35 L464.41,181.39 L464.49,181.43 L464.50,181.43 L464.56,181.45 L464.64,181.48 L464.70,181.50 L464.78,181.51 L464.84,181.52 L464.93,181.52 L464.99,181.51 L465.00,181.51 L465.07,181.49 L465.13,181.46 L465.21,181.43 L465.27,181.39 L465.36,181.33 L465.42,181.28 L465.50,181.20 L465.56,181.14 L465.64,181.04 L465.71,180.96 L465.79,180.86 L465.85,180.77 L465.93,180.65 L465.99,180.56 L466.00,180.55 L466.07,180.43 L466.14,180.33 L466.22,180.21 L466.28,180.11 L466.36,179.99 L466.43,179.91 L466.50,179.81 L466.51,179.80 L466.57,179.73 L466.65,179.64 L466.71,179.59 L466.86,179.50 L467.00,179.47 L467.14,179.50 L467.29,179.60 L467.43,179.74 L467.50,179.82 L467.57,179.93 L467.72,180.14 L467.86,180.37 L468.00,180.59 L468.01,180.60 L468.15,180.83 L468.29,181.04 L468.44,181.24 L468.50,181.32 L468.58,181.41 L468.73,181.56 L468.87,181.69 L469.00,181.78 L469.01,181.79 L469.16,181.87 L469.30,181.94 L469.44,181.99 L469.50,182.01 L469.59,182.03 L469.73,182.06 L469.88,182.08 L470.00,182.10 L470.02,182.10 L470.16,182.11 L470.31,182.12 L470.45,182.13 L470.50,182.13 L471.00,182.15 L471.50,182.16 L472.00,182.16 L472.50,182.17 L473.00,182.17 L473.50,182.17 L474.00,182.18 L474.50,182.18 L475.00,182.18 L475.50,182.18 L476.00,182.18 L476.50,182.19 L477.00,182.19 L477.50,182.19 L478.00,182.19 L478.50,182.19 L479.00,182.19 L479.50,182.19 L480.00,182.19 L480.50,182.19 L481.00,182.19 L481.50,182.19 L482.00,182.19 L482.50,182.19 L483.00,182.19 L483.50,182.19 L484.00,182.19 L484.50,182.19 L485.00,182.19 L485.50,182.19 L486.00,182.19 L486.50,182.19 L487.00,182.19 L487.50,182.19 L488.00,182.19 L488.50,182.19 L489.00,182.19 L489.50,182.19 L490.00,182.19 L490.50,182.19 L491.00,182.19 L491.50,182.20 L492.00,182.20 L492.50,182.20 L493.00,182.20 L493.50,182.20 L494.00,182.20 L494.50,182.20 L495.00,182.20 L495.50,182.20 L496.00,182.20 L496.50,182.20 L497.00,182.20 L497.50,182.20 L498.00,182.20 L498.50,182.20 L499.00,182.20 L499.50,182.20 L500.00,182.20 L500.50,182.20 L501.00,182.20 L501.50,182.20 L502.00,182.20 L502.50,182.20 L503.00,182.20 L503.50,182.20 L504.00,182.20 L504.50,182.20 L505.00,182.20 L505.50,182.20 L506.00,182.20 L506.50,182.20 L507.00,182.20 L507.50,182.20 L508.00,182.20 L508.50,182.20 L509.00,182.20 L509.50,182.20 L510.00,182.20 L510.50,182.20 L511.00,182.20 L511.50,182.20 L512.00,182.20 L512.50,182.20 L513.00,182.20 L513.50,182.20 L514.00,182.20 L514.50,182.20 L515.00,182.20 L515.50,182.20 L516.00,182.20 L516.50,182.20 L517.00,182.20 L517.50,182.20 L518.00,182.20 L518.50,182.20 L519.00,182.20 L519.50,182.20 L520.00,182.20 L520.50,182.20 L521.00,182.20 L521.50,182.20 L522.00,182.20 L522.50,182.20 L523.00,182.20 L523.50,182.20 L524.00,182.20 L524.50,182.20 L525.00,182.20 L525.50,182.19 L526.00,182.19 L526.50,182.19 L527.00,182.19 L527.50,182.19 L528.00,182.19 L528.50,182.19 L529.00,182.19 L529.50,182.19 L530.00,182.19 L530.50,182.19 L531.00,182.19 L531.50,182.19 L532.00,182.19 L532.50,182.19 L533.00,182.19 L533.50,182.19 L534.00,182.19 L534.50,182.19 L535.00,182.19 L535.50,182.19 L536.00,182.19 L536.50,182.19 L537.00,182.19 L537.50,182.19 L538.00,182.19 L538.50,182.19 L539.00,182.19 L539.50,182.19 L540.00,182.19 L540.50,182.19 L541.00,182.19 L541.50,182.18 L542.00,182.18 L542.50,182.18 L543.00,182.18 L543.50,182.18 L544.00,182.18 L544.50,182.18 L545.00,182.18 L545.50,182.17 L546.00,182.17 L546.50,182.17 L547.00,182.17 L547.50,182.16 L548.00,182.16 L548.50,182.16 L549.00,182.15 L549.50,182.14 L550.00,182.14 L550.50,182.13 L551.00,182.12 L551.50,182.10 L552.00,182.09 L552.50,182.06 L553.00,182.03 L553.50,181.99 L553.90,181.93 L554.00,181.91 L554.04,181.90 L554.17,181.86 L554.31,181.80 L554.45,181.73 L554.50,181.70 L554.59,181.64 L554.73,181.52 L554.86,181.35 L555.00,181.14 L555.14,180.86 L555.27,180.50 L555.41,180.07 L555.50,179.74 L555.55,179.53 L555.69,178.90 L555.83,178.17 L555.96,177.34 L556.00,177.10 L556.10,176.44 L556.24,175.48 L556.38,174.49 L556.50,173.61 L556.51,173.52 L556.65,172.62 L556.79,171.83 L556.80,171.77 L556.92,171.21 L556.95,171.12 L557.00,170.96 L557.06,170.81 L557.10,170.74 L557.20,170.65 L557.25,170.65 L557.34,170.75 L557.40,170.88 L557.48,171.10 L557.50,171.18 L557.55,171.38 L557.61,171.65 L557.70,172.09 L557.75,172.36 L557.85,172.95 L557.89,173.18 L558.00,173.88 L558.02,174.04 L558.15,174.81 L558.16,174.89 L558.30,175.69 L558.44,176.42 L558.45,176.48 L558.50,176.71 L558.58,177.04 L558.60,177.14 L558.71,177.54 L558.75,177.66 L558.85,177.92 L558.90,178.03 L558.99,178.19 L559.00,178.21 L559.05,178.28 L559.12,178.35 L559.20,178.40 L559.26,178.43 L559.35,178.44 L559.40,178.44 L559.50,178.42 L559.54,178.41 L559.65,178.37 L559.67,178.36 L559.80,178.32 L559.81,178.32 L559.95,178.31 L560.00,178.31 L560.09,178.33 L560.10,178.34 L560.23,178.41 L560.25,178.43 L560.36,178.55 L560.40,178.59 L560.50,178.73 L560.55,178.81 L560.70,179.07 L560.85,179.37 L561.00,179.68 L561.15,179.99 L561.30,180.29 L561.45,180.58 L561.50,180.67 L561.60,180.84 L561.75,181.08 L561.90,181.28 L562.00,181.39 L562.05,181.45 L562.20,181.59 L562.35,181.70 L562.50,181.79 L562.65,181.86 L562.80,181.91 L562.95,181.96 L563.00,181.97 L563.10,181.99 L563.25,182.01 L563.40,182.03 L563.50,182.04 L563.55,182.05 L563.70,182.06 L564.00,182.08 L564.50,182.10 L565.00,182.11 L565.50,182.13 L566.00,182.14 L566.50,182.14 L567.00,182.15 L567.50,182.15 L568.00,182.16 L568.50,182.16 L569.00,182.17 L569.50,182.17 L570.00,182.17 L570.50,182.17 L571.00,182.18 L571.50,182.18 L572.00,182.18 L572.50,182.18 L573.00,182.18 L573.50,182.18 L574.00,182.18 L574.50,182.18 L575.00,182.18 L575.50,182.19 L576.00,182.19 L576.50,182.19 L577.00,182.19 L577.50,182.19 L578.00,182.19 L578.50,182.19 L579.00,182.19 L579.50,182.19 L580.00,182.19 L580.50,182.19 L581.00,182.19 L581.50,182.19 L582.00,182.19 L582.50,182.19 L583.00,182.19 L583.50,182.19 L584.00,182.19 L584.50,182.19 L585.00,182.19 L585.50,182.19 L586.00,182.19 L586.50,182.19 L587.00,182.19 L587.50,182.19 L588.00,182.19 L588.50,182.19 L589.00,182.19 L589.50,182.19 L590.00,182.19 L590.50,182.19 L591.00,182.19 L591.50,182.19 L592.00,182.19 L592.50,182.19 L593.00,182.19 L593.50,182.19 L594.00,182.19 L594.50,182.19 L595.00,182.19 L595.50,182.19 L596.00,182.19 L596.50,182.19 L597.00,182.19 L597.50,182.19 L598.00,182.19 L598.50,182.19 L599.00,182.19 L599.50,182.19 L600.00,182.19 L600.50,182.19 L601.00,182.18 L601.50,182.18 L602.00,182.18 L602.50,182.18 L603.00,182.18 L603.50,182.18 L604.00,182.18 L604.50,182.17 L605.00,182.17 L605.50,182.17 L606.00,182.16 L606.50,182.16 L607.00,182.15 L607.50,182.14 L608.00,182.13 L608.20,182.12 L608.35,182.11 L608.50,182.10 L608.65,182.09 L608.80,182.07 L608.95,182.05 L609.00,182.04 L609.10,182.02 L609.25,181.98 L609.40,181.93 L609.50,181.88 L609.55,181.86 L609.70,181.78 L609.85,181.67 L610.00,181.55 L610.15,181.39 L610.30,181.22 L610.45,181.02 L610.50,180.95 L610.60,180.81 L610.75,180.58 L610.90,180.35 L611.00,180.19 L611.05,180.12 L611.20,179.90 L611.35,179.72 L611.50,179.57 L611.65,179.48 L611.80,179.44 L611.95,179.47 L612.00,179.49 L612.10,179.56 L612.25,179.70 L612.40,179.88 L612.50,180.01 L612.55,180.09 L612.70,180.31 L612.85,180.53 L613.00,180.75 L613.15,180.96 L613.30,181.14 L613.40,181.25 L613.45,181.30 L613.50,181.35 L613.55,181.39 L613.60,181.44 L613.70,181.51 L613.75,181.54 L613.85,181.59 L613.90,181.62 L614.00,181.65 L614.05,181.66 L614.15,181.68 L614.20,181.68 L614.30,181.67 L614.35,181.66 L614.45,181.63 L614.50,181.61 L614.60,181.56 L614.65,181.53 L614.75,181.45 L614.80,181.40 L614.90,181.29 L614.95,181.23 L615.00,181.17 L615.05,181.09 L615.10,181.02 L615.20,180.84 L615.25,180.75 L615.35,180.54 L615.40,180.43 L615.50,180.19 L615.65,179.79 L615.80,179.35 L615.95,178.89 L616.00,178.73 L616.10,178.41 L616.25,177.94 L616.40,177.50 L616.50,177.24 L616.55,177.12 L616.70,176.82 L616.85,176.63 L617.00,176.57 L617.15,176.64 L617.30,176.83 L617.45,177.13 L617.50,177.25 L617.60,177.51 L617.75,177.95 L617.90,178.43 L618.00,178.75 L618.05,178.91 L618.20,179.38 L618.35,179.82 L618.50,180.23 L618.65,180.58 L618.80,180.89 L618.95,181.16 L619.00,181.23 L619.10,181.37 L619.25,181.54 L619.40,181.68 L619.50,181.75 L619.55,181.78 L619.70,181.87 L619.85,181.93 L620.00,181.97 L620.15,182.01 L620.30,182.03 L620.45,182.05 L620.50,182.06 L620.60,182.07 L621.00,182.09 L621.50,182.11 L622.00,182.13 L622.50,182.14 L623.00,182.15 L623.50,182.15 L624.00,182.16 L624.50,182.16 L625.00,182.16 L625.50,182.17 L626.00,182.17 L626.50,182.17 L627.00,182.17 L627.50,182.17 L628.00,182.17 L628.50,182.16 L629.00,182.16 L629.50,182.15 L629.65,182.15 L629.80,182.14 L629.95,182.14 L630.00,182.13 L630.10,182.13 L630.25,182.11 L630.40,182.10 L630.50,182.08 L630.55,182.07 L630.70,182.04 L630.85,182.01 L631.00,181.96 L631.15,181.90 L631.30,181.82 L631.45,181.73 L631.50,181.70 L631.60,181.63 L631.75,181.52 L631.90,181.39 L632.00,181.30 L632.05,181.26 L632.20,181.12 L632.35,180.98 L632.50,180.86 L632.65,180.75 L632.80,180.66 L632.95,180.61 L633.00,180.60 L633.10,180.59 L633.25,180.61 L633.40,180.66 L633.50,180.72 L633.55,180.75 L633.70,180.86 L633.85,180.99 L634.00,181.12 L634.15,181.26 L634.30,181.39 L634.45,181.52 L634.50,181.56 L634.60,181.63 L634.75,181.74 L634.90,181.83 L635.00,181.88 L635.05,181.90 L635.20,181.96 L635.35,182.01 L635.50,182.05 L635.65,182.08 L635.80,182.10 L635.95,182.12 L636.00,182.12 L636.10,182.13 L636.25,182.14 L636.40,182.15 L636.50,182.15 L636.55,182.16 L636.70,182.16 L637.00,182.17 L637.50,182.17 L638.00,182.18 L638.50,182.18 L639.00,182.18 L639.50,182.18 L640.00,182.19 L640.50,182.19 L641.00,182.19 L641.50,182.19 L642.00,182.19 L642.50,182.19 L643.00,182.19 L643.50,182.19 L644.00,182.19 L644.50,182.19 L645.00,182.19 L645.50,182.19 L646.00,182.19 L646.50,182.19 L647.00,182.19 L647.50,182.19 L648.00,182.20 L648.50,182.20 L649.00,182.20 L649.50,182.20 L650.00,182.20 L650.50,182.20 L651.00,182.20 L651.50,182.20 L652.00,182.20 L652.50,182.20 L653.00,182.20 L653.50,182.20 L654.00,182.20 L654.50,182.20 L655.00,182.20 L655.50,182.20 L656.00,182.20 L656.50,182.20 L657.00,182.20 L657.50,182.20 L658.00,182.20 L658.50,182.20 L659.00,182.20 L659.50,182.20 L660.00,182.20 L660.50,182.20 L661.00,182.20 L661.50,182.20 L662.00,182.20 L662.50,182.20 L663.00,182.20 L663.50,182.20 L664.00,182.20 L664.50,182.20 L665.00,182.20 L665.50,182.20 L666.00,182.20 L666.50,182.20 L667.00,182.20 L667.50,182.20 L668.00,182.20 L668.50,182.20 L669.00,182.20 L669.50,182.20 L670.00,182.20 L670.50,182.20 L671.00,182.20 L671.50,182.20 L672.00,182.20 L672.50,182.20 L673.00,182.20 L673.50,182.20 L674.00,182.20 L674.50,182.20 L675.00,182.20 L675.50,182.20 L676.00,182.20 L676.50,182.20"/><path stroke="#555555" d="M375.50,218.60 L376.00,218.60 L376.50,218.60 L377.00,218.60 L377.50,218.60 L378.00,218.60 L378.50,218.60 L379.00,218.60 L379.50,218.60 L380.00,218.60 L380.50,218.60 L381.00,218.60 L381.50,218.60 L382.00,218.60 L382.50,218.60 L383.00,218.60 L383.50,218.60 L384.00,218.60 L384.50,218.60 L385.00,218.60 L385.50,218.60 L386.00,218.60 L386.50,218.60 L387.00,218.60 L387.50,218.60 L388.00,218.60 L388.50,218.60 L389.00,218.60 L389.50,218.60 L390.00,218.60 L390.50,218.60 L391.00,218.60 L391.50,218.60 L392.00,218.60 L392.50,218.60 L393.00,218.60 L393.50,218.60 L394.00,218.60 L394.50,218.60 L395.00,218.60 L395.50,218.60 L396.00,218.59 L396.50,218.59 L397.00,218.59 L397.50,218.59 L398.00,218.59 L398.50,218.59 L399.00,218.59 L399.50,218.59 L400.00,218.59 L400.50,218.59 L401.00,218.59 L401.50,218.59 L402.00,218.59 L402.50,218.59 L403.00,218.59 L403.50,218.59 L404.00,218.59 L404.50,218.59 L405.00,218.59 L405.50,218.59 L406.00,218.59 L406.50,218.59 L407.00,218.59 L407.50,218.59 L408.00,218.59 L408.50,218.59 L409.00,218.59 L409.50,218.59 L410.00,218.59 L410.50,218.59 L411.00,218.59 L411.50,218.59 L412.00,218.59 L412.50,218.59 L413.00,218.58 L413.50,218.58 L414.00,218.58 L414.50,218.58 L415.00,218.58 L415.50,218.58 L416.00,218.58 L416.50,218.58 L417.00,218.58 L417.50,218.58 L418.00,218.57 L418.50,218.57 L419.00,218.57 L419.50,218.57 L420.00,218.56 L420.50,218.56 L421.00,218.55 L421.50,218.55 L422.00,218.54 L422.25,218.53 L422.39,218.53 L422.50,218.52 L422.54,218.52 L422.68,218.51 L422.82,218.50 L422.97,218.49 L423.00,218.48 L423.11,218.47 L423.26,218.44 L423.40,218.41 L423.50,218.38 L423.54,218.36 L423.69,218.31 L423.83,218.24 L423.98,218.16 L424.00,218.14 L424.12,218.06 L424.26,217.95 L424.41,217.82 L424.50,217.73 L424.55,217.68 L424.69,217.53 L424.84,217.38 L424.98,217.23 L425.00,217.22 L425.12,217.10 L425.27,216.97 L425.41,216.88 L425.50,216.84 L425.56,216.82 L425.70,216.80 L425.84,216.82 L425.99,216.88 L426.00,216.88 L426.13,216.97 L426.27,217.09 L426.42,217.22 L426.50,217.30 L426.56,217.37 L426.71,217.52 L426.85,217.66 L426.99,217.80 L427.00,217.80 L427.14,217.92 L427.28,218.03 L427.43,218.13 L427.50,218.17 L427.57,218.21 L427.71,218.27 L427.86,218.32 L428.00,218.36 L428.14,218.39 L428.29,218.42 L428.43,218.43 L428.50,218.44 L428.57,218.44 L428.72,218.45 L428.86,218.45 L429.00,218.46 L429.01,218.46 L429.15,218.46 L429.50,218.46 L430.00,218.45 L430.50,218.43 L431.00,218.41 L431.50,218.38 L432.00,218.34 L432.50,218.29 L433.00,218.22 L433.50,218.12 L434.00,217.94 L434.10,217.89 L434.23,217.80 L434.35,217.69 L434.48,217.54 L434.50,217.51 L434.60,217.35 L434.73,217.09 L434.85,216.74 L434.98,216.27 L435.00,216.16 L435.10,215.66 L435.23,214.87 L435.35,213.86 L435.48,212.62 L435.50,212.34 L435.60,211.10 L435.73,209.30 L435.85,207.22 L435.98,204.87 L436.00,204.37 L436.10,202.29 L436.23,199.56 L436.35,196.76 L436.48,194.01 L436.50,193.48 L436.60,191.45 L436.73,189.22 L436.85,187.48 L436.98,186.37 L437.00,186.24 L437.10,185.99 L437.23,186.37 L437.35,187.48 L437.48,189.22 L437.50,189.63 L437.60,191.45 L437.73,194.01 L437.85,196.76 L437.98,199.56 L438.00,200.11 L438.10,202.29 L438.23,204.87 L438.35,207.22 L438.48,209.30 L438.50,209.69 L438.60,211.10 L438.73,212.62 L438.85,213.86 L438.98,214.87 L439.00,215.04 L439.10,215.66 L439.23,216.27 L439.35,216.73 L439.48,217.09 L439.50,217.14 L439.60,217.35 L439.73,217.54 L439.85,217.69 L439.98,217.80 L440.00,217.82 L440.10,217.89 L440.50,218.06 L441.00,218.18 L441.45,218.26 L441.50,218.26 L441.59,218.28 L441.74,218.29 L441.88,218.31 L442.00,218.32 L442.02,218.32 L442.17,218.33 L442.31,218.33 L442.46,218.34 L442.50,218.34 L442.60,218.34 L442.74,218.34 L442.89,218.33 L443.00,218.33 L443.03,218.32 L443.18,218.31 L443.32,218.29 L443.46,218.26 L443.50,218.26 L443.61,218.23 L443.75,218.20 L443.89,218.16 L444.00,218.14 L444.04,218.13 L444.18,218.09 L444.32,218.06 L444.47,218.03 L444.50,218.02 L444.61,218.00 L444.76,217.99 L444.90,217.99 L445.00,217.99 L445.04,218.00 L445.19,218.02 L445.33,218.05 L445.48,218.09 L445.50,218.09 L445.62,218.13 L445.76,218.17 L445.91,218.22 L446.00,218.25 L446.05,218.26 L446.19,218.31 L446.34,218.34 L446.48,218.38 L446.50,218.38 L446.62,218.41 L446.77,218.43 L446.91,218.45 L447.00,218.47 L447.06,218.47 L447.20,218.49 L447.34,218.50 L447.49,218.51 L447.50,218.51 L447.63,218.51 L447.77,218.52 L447.92,218.52 L448.00,218.52 L448.06,218.53 L448.21,218.53 L448.35,218.53 L448.50,218.53 L449.00,218.54 L449.50,218.54 L450.00,218.55 L450.50,218.55 L451.00,218.55 L451.50,218.56 L452.00,218.56 L452.50,218.56 L453.00,218.56 L453.50,218.56 L454.00,218.56 L454.50,218.56 L455.00,218.56 L455.50,218.56 L456.00,218.56 L456.50,218.56 L457.00,218.56 L457.50,218.56 L458.00,218.55 L458.50,218.55 L459.00,218.55 L459.50,218.54 L460.00,218.53 L460.25,218.52 L460.39,218.51 L460.50,218.51 L460.54,218.51 L460.68,218.49 L460.82,218.48 L460.97,218.46 L461.00,218.46 L461.11,218.44 L461.26,218.41 L461.40,218.36 L461.50,218.33 L461.54,218.31 L461.69,218.24 L461.83,218.15 L461.98,218.05 L462.00,218.03 L462.12,217.93 L462.26,217.79 L462.41,217.63 L462.50,217.51 L462.55,217.45 L462.69,217.26 L462.84,217.07 L462.98,216.88 L463.00,216.86 L463.12,216.71 L463.27,216.55 L463.41,216.43 L463.50,216.38 L463.56,216.36 L463.70,216.33 L463.84,216.35 L463.99,216.41 L464.00,216.42 L464.05,216.46 L464.13,216.52 L464.19,216.58 L464.27,216.66 L464.34,216.73 L464.42,216.82 L464.48,216.89 L464.50,216.91 L464.56,216.99 L464.62,217.06 L464.71,217.15 L464.77,217.22 L464.85,217.30 L464.91,217.36 L464.99,217.43 L465.00,217.43 L465.06,217.48 L465.14,217.53 L465.20,217.56 L465.28,217.59 L465.34,217.60 L465.43,217.61 L465.49,217.61 L465.50,217.60 L465.57,217.59 L465.63,217.56 L465.71,217.52 L465.77,217.47 L465.86,217.40 L465.92,217.33 L466.00,217.24 L466.06,217.15 L466.14,217.03 L466.21,216.93 L466.29,216.79 L466.35,216.67 L466.43,216.52 L466.49,216.39 L466.50,216.38 L466.57,216.23 L466.64,216.10 L466.72,215.93 L466.78,215.81 L466.86,215.65 L466.93,215.53 L467.00,215.40 L467.01,215.39 L467.07,215.29 L467.15,215.18 L467.21,215.11 L467.36,214.99 L467.50,214.95 L467.64,214.99 L467.79,215.12 L467.93,215.31 L468.00,215.42 L468.07,215.56 L468.22,215.84 L468.36,216.15 L468.50,216.44 L468.51,216.46 L468.65,216.76 L468.79,217.05 L468.94,217.31 L469.00,217.41 L469.08,217.54 L469.23,217.74 L469.37,217.90 L469.50,218.03 L469.51,218.04 L469.66,218.15 L469.80,218.24 L469.94,218.31 L470.00,218.33 L470.09,218.36 L470.23,218.40 L470.38,218.43 L470.50,218.44 L470.52,218.45 L470.65,218.46 L470.66,218.46 L470.79,218.47 L470.81,218.47 L470.94,218.48 L470.95,218.48 L471.00,218.48 L471.08,218.48 L471.23,218.48 L471.37,218.48 L471.50,218.47 L471.51,218.47 L471.66,218.46 L471.80,218.45 L471.94,218.43 L472.00,218.42 L472.09,218.40 L472.23,218.36 L472.38,218.32 L472.50,218.27 L472.52,218.27 L472.66,218.20 L472.81,218.13 L472.95,218.06 L473.00,218.03 L473.09,217.97 L473.24,217.89 L473.38,217.81 L473.50,217.74 L473.52,217.73 L473.67,217.66 L473.81,217.61 L473.96,217.58 L474.00,217.57 L474.10,217.57 L474.24,217.58 L474.39,217.62 L474.50,217.66 L474.53,217.67 L474.68,217.74 L474.82,217.82 L474.96,217.90 L475.00,217.93 L475.11,217.99 L475.25,218.07 L475.39,218.15 L475.50,218.21 L475.54,218.23 L475.68,218.29 L475.82,218.35 L475.97,218.39 L476.00,218.40 L476.11,218.43 L476.26,218.46 L476.40,218.49 L476.50,218.50 L476.54,218.51 L476.69,218.52 L476.83,218.53 L476.98,218.54 L477.00,218.54 L477.12,218.55 L477.26,218.55 L477.41,218.56 L477.50,218.56 L477.55,218.56 L478.00,218.57 L478.50,218.57 L479.00,218.58 L479.50,218.58 L480.00,218.58 L480.50,218.58 L481.00,218.58 L481.50,218.58 L482.00,218.59 L482.50,218.59 L483.00,218.59 L483.50,218.59 L484.00,218.59 L484.50,218.59 L485.00,218.59 L485.50,218.59 L486.00,218.59 L486.50,218.59 L487.00,218.59 L487.50,218.59 L488.00,218.59 L488.50,218.59 L489.00,218.59 L489.50,218.59 L490.00,218.59 L490.50,218.59 L491.00,218.59 L491.50,218.59 L492.00,218.59 L492.50,218.59 L493.00,218.59 L493.50,218.59 L494.00,218.59 L494.50,218.59 L495.00,218.59 L495.50,218.59 L496.00,218.59 L496.50,218.59 L497.00,218.59 L497.50,218.59 L498.00,218.59 L498.50,218.59 L499.00,218.59 L499.50,218.59 L500.00,218.59 L500.50,218.59 L501.00,218.59 L501.50,218.60 L502.00,218.60 L502.50,218.60 L503.00,218.60 L503.50,218.60 L504.00,218.60 L504.50,218.60 L505.00,218.60 L505.50,218.60 L506.00,218.60 L506.50,218.60 L507.00,218.60 L507.50,218.60 L508.00,218.60 L508.50,218.60 L509.00,218.60 L509.50,218.60 L510.00,218.60 L510.50,218.60 L511.00,218.60 L511.50,218.60 L512.00,218.60 L512.50,218.60 L513.00,218.60 L513.50,218.60 L514.00,218.60 L514.50,218.60 L515.00,218.60 L515.50,218.60 L516.00,218.60 L516.50,218.60 L517.00,218.60 L517.50,218.60 L518.00,218.60 L518.50,218.59 L519.00,218.59 L519.50,218.59 L520.00,218.59 L520.50,218.59 L521.00,218.59 L521.50,218.59 L522.00,218.59 L522.50,218.59 L523.00,218.59 L523.50,218.59 L524.00,218.59 L524.50,218.59 L525.00,218.59 L525.50,218.59 L526.00,218.59 L526.50,218.59 L527.00,218.59 L527.50,218.59 L528.00,218.59 L528.50,218.59 L529.00,218.59 L529.50,218.59 L530.00,218.59 L530.50,218.59 L531.00,218.59 L531.50,218.59 L532.00,218.59 L532.50,218.59 L533.00,218.59 L533.50,218.59 L534.00,218.59 L534.50,218.59 L535.00,218.59 L535.50,218.59 L536.00,218.59 L536.50,218.59 L537.00,218.59 L537.50,218.59 L538.00,218.59 L538.50,218.59 L539.00,218.59 L539.50,218.59 L540.00,218.59 L540.50,218.58 L541.00,218.58 L541.50,218.58 L542.00,218.58 L542.50,218.58 L543.00,218.58 L543.50,218.58 L544.00,218.58 L544.50,218.58 L545.00,218.57 L545.50,218.57 L546.00,218.57 L546.50,218.57 L547.00,218.56 L547.50,218.56 L548.00,218.56 L548.50,218.55 L549.00,218.55 L549.50,218.54 L550.00,218.54 L550.50,218.53 L551.00,218.52 L551.50,218.51 L552.00,218.50 L552.50,218.48 L553.00,218.46 L553.50,218.43 L554.00,218.39 L554.50,218.33 L554.60,218.31 L554.75,218.27 L554.90,218.23 L555.00,218.20 L555.05,218.17 L555.20,218.10 L555.35,218.00 L555.50,217.87 L555.65,217.69 L555.80,217.46 L555.95,217.16 L556.00,217.04 L556.10,216.78 L556.25,216.31 L556.40,215.74 L556.50,215.30 L556.55,215.07 L556.70,214.28 L556.85,213.40 L557.00,212.43 L557.10,211.75 L557.15,211.40 L557.26,210.60 L557.30,210.34 L557.42,209.47 L557.45,209.30 L557.50,208.97 L557.59,208.41 L557.60,208.33 L557.75,207.47 L557.90,206.80 L557.91,206.75 L558.00,206.47 L558.05,206.35 L558.08,206.30 L558.20,206.16 L558.24,206.16 L558.35,206.25 L558.40,206.34 L558.50,206.59 L558.56,206.80 L558.65,207.15 L558.73,207.50 L558.80,207.87 L558.89,208.35 L558.95,208.70 L559.00,208.99 L559.05,209.28 L559.10,209.57 L559.21,210.21 L559.25,210.43 L559.38,211.11 L559.40,211.24 L559.50,211.74 L559.54,211.91 L559.55,211.97 L559.70,212.59 L559.85,213.10 L559.86,213.14 L560.00,213.50 L560.02,213.55 L560.15,213.79 L560.19,213.85 L560.30,214.00 L560.35,214.05 L560.45,214.14 L560.50,214.17 L560.51,214.18 L560.60,214.24 L560.67,214.28 L560.75,214.32 L560.84,214.38 L560.90,214.42 L561.00,214.50 L561.05,214.54 L561.16,214.65 L561.20,214.70 L561.33,214.86 L561.35,214.89 L561.49,215.10 L561.50,215.12 L561.65,215.39 L561.80,215.67 L561.81,215.70 L561.98,216.02 L562.00,216.07 L562.14,216.34 L562.30,216.65 L562.46,216.94 L562.50,217.01 L562.62,217.21 L562.79,217.44 L562.95,217.65 L563.00,217.70 L563.11,217.82 L563.27,217.96 L563.44,218.08 L563.50,218.11 L563.60,218.17 L563.76,218.24 L563.92,218.30 L564.00,218.32 L564.09,218.34 L564.25,218.37 L564.41,218.40 L564.50,218.41 L564.58,218.42 L564.74,218.43 L564.90,218.45 L565.00,218.45 L565.50,218.48 L566.00,218.50 L566.50,218.51 L567.00,218.52 L567.50,218.53 L568.00,218.54 L568.50,218.54 L569.00,218.55 L569.50,218.55 L570.00,218.56 L570.50,218.56 L571.00,218.56 L571.50,218.57 L572.00,218.57 L572.50,218.57 L573.00,218.57 L573.50,218.57 L574.00,218.58 L574.50,218.58 L575.00,218.58 L575.50,218.58 L576.00,218.58 L576.50,218.58 L577.00,218.58 L577.50,218.58 L578.00,218.58 L578.50,218.58 L579.00,218.59 L579.50,218.59 L580.00,218.59 L580.50,218.59 L581.00,218.59 L581.50,218.59 L582.00,218.59 L582.50,218.59 L583.00,218.59 L583.50,218.59 L584.00,218.59 L584.50,218.59 L585.00,218.59 L585.50,218.59 L586.00,218.59 L586.50,218.59 L587.00,218.59 L587.50,218.59 L588.00,218.59 L588.50,218.59 L589.00,218.59 L589.50,218.59 L590.00,218.59 L590.50,218.59 L591.00,218.59 L591.50,218.59 L592.00,218.59 L592.50,218.59 L593.00,218.59 L593.50,218.59 L594.00,218.59 L594.50,218.59 L595.00,218.59 L595.50,218.59 L596.00,218.59 L596.50,218.59 L597.00,218.59 L597.50,218.59 L598.00,218.58 L598.50,218.58 L599.00,218.58 L599.50,218.58 L600.00,218.58 L600.50,218.58 L601.00,218.58 L601.50,218.58 L602.00,218.58 L602.50,218.57 L603.00,218.57 L603.50,218.57 L604.00,218.57 L604.50,218.57 L605.00,218.56 L605.50,218.56 L606.00,218.55 L606.50,218.55 L607.00,218.54 L607.50,218.53 L608.00,218.52 L608.10,218.51 L608.29,218.50 L608.48,218.49 L608.50,218.49 L608.66,218.48 L608.85,218.46 L609.00,218.44 L609.04,218.44 L609.23,218.41 L609.41,218.36 L609.50,218.34 L609.60,218.31 L609.79,218.24 L609.98,218.15 L610.00,218.14 L610.16,218.04 L610.35,217.91 L610.50,217.79 L610.54,217.76 L610.73,217.57 L610.91,217.37 L611.00,217.27 L611.10,217.15 L611.29,216.91 L611.48,216.66 L611.50,216.63 L611.66,216.42 L611.85,216.20 L612.00,216.04 L612.04,216.00 L612.23,215.85 L612.41,215.75 L612.50,215.72 L612.60,215.71 L612.79,215.74 L612.98,215.83 L613.00,215.84 L613.16,215.97 L613.35,216.14 L613.40,216.20 L613.50,216.31 L613.54,216.35 L613.58,216.39 L613.73,216.57 L613.75,216.59 L613.91,216.78 L613.92,216.79 L614.00,216.87 L614.10,216.98 L614.27,217.14 L614.29,217.15 L614.45,217.26 L614.48,217.28 L614.50,217.29 L614.62,217.35 L614.66,217.37 L614.80,217.39 L614.85,217.40 L614.98,217.38 L615.00,217.37 L615.04,217.36 L615.15,217.31 L615.23,217.26 L615.33,217.18 L615.41,217.09 L615.50,216.98 L615.60,216.84 L615.67,216.72 L615.79,216.51 L615.85,216.39 L615.98,216.12 L616.00,216.06 L616.02,216.00 L616.16,215.67 L616.20,215.57 L616.35,215.17 L616.38,215.11 L616.50,214.76 L616.54,214.66 L616.55,214.62 L616.73,214.15 L616.90,213.70 L616.91,213.67 L617.00,213.47 L617.08,213.31 L617.10,213.26 L617.25,213.01 L617.42,212.81 L617.50,212.77 L617.60,212.75 L617.77,212.82 L617.95,213.02 L618.00,213.10 L618.12,213.33 L618.30,213.73 L618.48,214.19 L618.50,214.26 L618.65,214.68 L618.83,215.18 L619.00,215.67 L619.17,216.13 L619.35,216.55 L619.50,216.87 L619.52,216.92 L619.70,217.24 L619.88,217.51 L620.00,217.67 L620.05,217.73 L620.23,217.91 L620.40,218.05 L620.50,218.12 L620.58,218.16 L620.75,218.25 L620.92,218.31 L621.00,218.33 L621.10,218.36 L621.27,218.39 L621.45,218.42 L621.50,218.43 L621.62,218.44 L621.80,218.46 L622.00,218.47 L622.50,218.49 L623.00,218.51 L623.50,218.52 L624.00,218.53 L624.50,218.54 L625.00,218.55 L625.50,218.55 L626.00,218.55 L626.50,218.56 L627.00,218.56 L627.50,218.56 L628.00,218.56 L628.50,218.56 L629.00,218.56 L629.50,218.56 L630.00,218.55 L630.10,218.55 L630.25,218.55 L630.40,218.54 L630.50,218.54 L630.55,218.54 L630.70,218.53 L630.85,218.52 L631.00,218.51 L631.15,218.49 L631.30,218.46 L631.45,218.43 L631.50,218.42 L631.60,218.39 L631.75,218.34 L631.90,218.27 L632.00,218.23 L632.05,218.20 L632.20,218.11 L632.35,218.02 L632.50,217.91 L632.65,217.80 L632.80,217.68 L632.95,217.57 L633.00,217.53 L633.10,217.46 L633.25,217.37 L633.40,217.30 L633.50,217.27 L633.55,217.25 L633.70,217.24 L633.85,217.25 L634.00,217.30 L634.15,217.37 L634.30,217.46 L634.45,217.57 L634.50,217.61 L634.60,217.68 L634.75,217.80 L634.90,217.91 L635.00,217.99 L635.05,218.02 L635.20,218.12 L635.35,218.20 L635.50,218.28 L635.65,218.34 L635.80,218.39 L635.95,218.44 L636.00,218.45 L636.10,218.47 L636.25,218.49 L636.40,218.51 L636.50,218.52 L636.55,218.53 L636.70,218.54 L636.85,218.55 L637.00,218.55 L637.15,218.56 L637.30,218.56 L637.50,218.57 L638.00,218.57 L638.50,218.58 L639.00,218.58 L639.50,218.58 L640.00,218.58 L640.50,218.58 L641.00,218.59 L641.50,218.59 L642.00,218.59 L642.50,218.59 L643.00,218.59 L643.50,218.59 L644.00,218.59 L644.50,218.59 L645.00,218.59 L645.50,218.59 L646.00,218.59 L646.50,218.59 L647.00,218.59 L647.50,218.59 L648.00,218.59 L648.50,218.59 L649.00,218.59 L649.50,218.59 L650.00,218.59 L650.50,218.59 L651.00,218.60 L651.50,218.60 L652.00,218.60 L652.50,218.60 L653.00,218.60 L653.50,218.60 L654.00,218.60 L654.50,218.60 L655.00,218.60 L655.50,218.60 L656.00,218.60 L656.50,218.60 L657.00,218.60 L657.50,218.60 L658.00,218.60 L658.50,218.60 L659.00,218.60 L659.50,218.60 L660.00,218.60 L660.50,218.60 L661.00,218.60 L661.50,218.60 L662.00,218.60 L662.50,218.60 L663.00,218.60 L663.50,218.60 L664.00,218.60 L664.50,218.60 L665.00,218.60 L665.50,218.60 L666.00,218.60 L666.50,218.60 L667.00,218.60 L667.50,218.60 L668.00,218.60 L668.50,218.60 L669.00,218.60 L669.50,218.60 L670.00,218.60 L670.50,218.60 L671.00,218.60 L671.50,218.60 L672.00,218.60 L672.50,218.60 L673.00,218.60 L673.50,218.60 L674.00,218.60 L674.50,218.60 L675.00,218.60 L675.50,218.60 L676.00,218.60 L676.50,218.60"/></g><g fill="none" stroke="#000" stroke-width="2"><rect x="28" y="3.25" width="302" height="225.75"/><rect x="375.5" y="2.4" width="300.9" height="224.6"/></g><path stroke="#000" stroke-width="2" d="M27.70,229 V225.20 M375.50,227 V223.20 M57.90,229 V226.90 M405.59,227 V224.90 M88.10,229 V225.20 M435.68,227 V223.20 M118.30,229 V226.90 M465.77,227 V224.90 M148.50,229 V225.20 M495.86,227 V223.20 M178.70,229 V226.90 M525.95,227 V224.90 M208.90,229 V225.20 M556.04,227 V223.20 M239.10,229 V226.90 M586.13,227 V224.90 M269.30,229 V225.20 M616.22,227 V223.20 M299.50,229 V226.90 M646.31,227 V224.90 M329.70,229 V225.20 M676.40,227 V223.20"/><g fill="#000"><path transform="translate(74.65,77.30) scale(0.0800,0.0890)" d="M50,0 C40,16 2,34 3,60 C4,78 28,84 44,70 L38,100 L62,100 L56,70 C72,84 96,78 97,60 C98,34 60,16 50,0 Z"/><path d="M89.70,39.40 L93.30,43.60 L89.70,47.80 L86.10,43.60 Z"/><path transform="translate(93.30,77.30) scale(0.0800,0.0890)" d="M50,0 C40,16 2,34 3,60 C4,78 28,84 44,70 L38,100 L62,100 L56,70 C72,84 96,78 97,60 C98,34 60,16 50,0 Z"/><path d="M114.40,76.10 L118.00,80.30 L114.40,84.50 L110.80,80.30 Z"/><path d="M120.90,66.05 L124.50,70.25 L120.90,74.45 L117.30,70.25 Z"/><path transform="translate(123.00,79.00) scale(0.0700,0.0700)" d="M50,100 C38,82 0,58 0,30 C0,10 13,0 26,0 C38,0 47,8 50,20 C53,8 62,0 74,0 C87,0 100,10 100,30 C100,58 62,82 50,100 Z"/><path d="M211.00,62.00 L214.60,66.20 L211.00,70.40 L207.40,66.20 Z"/><path d="M263.40,74.40 L267.00,78.60 L263.40,82.80 L259.80,78.60 Z"/><path d="M270.50,67.50 L274.10,71.70 L270.50,75.90 L266.90,71.70 Z"/><path d="M265.10,13.70 L268.60,17.85 L265.10,22.00 L261.60,17.85 Z"/><path transform="translate(261.30,31.60) scale(0.0810,0.0820)" d="M50,0 C40,16 2,34 3,60 C4,78 28,84 44,70 L38,100 L62,100 L56,70 C72,84 96,78 97,60 C98,34 60,16 50,0 Z"/><path transform="translate(261.10,50.50) scale(0.0820,0.0850)" d="M50,100 C38,82 0,58 0,30 C0,10 13,0 26,0 C38,0 47,8 50,20 C53,8 62,0 74,0 C87,0 100,10 100,30 C100,58 62,82 50,100 Z"/><path transform="translate(395.95,60.30) scale(0.0830,0.0830)" d="M50,0 C40,16 2,34 3,60 C4,78 28,84 44,70 L38,100 L62,100 L56,70 C72,84 96,78 97,60 C98,34 60,16 50,0 Z"/><path transform="translate(420.75,49.40) scale(0.0830,0.0910)" d="M50,0 C40,16 2,34 3,60 C4,78 28,84 44,70 L38,100 L62,100 L56,70 C72,84 96,78 97,60 C98,34 60,16 50,0 Z"/><path d="M437.65,27.90 L441.45,32.10 L437.65,36.30 L433.85,32.10 Z"/><path transform="translate(441.75,55.00) scale(0.0830,0.0900)" d="M50,0 C40,16 2,34 3,60 C4,78 28,84 44,70 L38,100 L62,100 L56,70 C72,84 96,78 97,60 C98,34 60,16 50,0 Z"/><path transform="translate(454.85,60.40) scale(0.0800,0.0820)" d="M50,0 C40,16 2,34 3,60 C4,78 28,84 44,70 L38,100 L62,100 L56,70 C72,84 96,78 97,60 C98,34 60,16 50,0 Z"/><path transform="translate(469.25,60.90) scale(0.0650,0.0660)" d="M50,100 C38,82 0,58 0,30 C0,10 13,0 26,0 C38,0 47,8 50,20 C53,8 62,0 74,0 C87,0 100,10 100,30 C100,58 62,82 50,100 Z"/><path transform="translate(546.75,58.90) scale(0.0810,0.0830)" d="M50,0 C40,16 2,34 3,60 C4,78 28,84 44,70 L38,100 L62,100 L56,70 C72,84 96,78 97,60 C98,34 60,16 50,0 Z"/><path d="M559.25,52.10 L562.85,56.30 L559.25,60.50 L555.65,56.30 Z"/><path d="M618.00,55.90 L621.50,59.90 L618.00,63.90 L614.50,59.90 Z"/><path d="M613.50,10.65 L617.10,14.85 L613.50,19.05 L609.90,14.85 Z"/><path transform="translate(609.70,26.50) scale(0.0790,0.0830)" d="M50,0 C40,16 2,34 3,60 C4,78 28,84 44,70 L38,100 L62,100 L56,70 C72,84 96,78 97,60 C98,34 60,16 50,0 Z"/><path transform="translate(610.20,43.80) scale(0.0790,0.0900)" d="M50,100 C38,82 0,58 0,30 C0,10 13,0 26,0 C38,0 47,8 50,20 C53,8 62,0 74,0 C87,0 100,10 100,30 C100,58 62,82 50,100 Z"/></g><g fill="#000"><text font-family="'Liberation Serif', serif" font-weight="bold" font-size="15" x="27.65" y="245.5" text-anchor="middle">20</text><text font-family="'Liberation Serif', serif" font-weight="bold" font-size="15" x="375.60" y="243.7" text-anchor="middle">20</text><text font-family="'Liberation Serif', serif" font-weight="bold" font-size="15" x="88.20" y="245.5" text-anchor="middle">30</text><text font-family="'Liberation Serif', serif" font-weight="bold" font-size="15" x="435.90" y="243.7" text-anchor="middle">30</text><text font-family="'Liberation Serif', serif" font-weight="bold" font-size="15" x="148.50" y="245.5" text-anchor="middle">40</text><text font-family="'Liberation Serif', serif" font-weight="bold" font-size="15" x="495.90" y="243.7" text-anchor="middle">40</text><text font-family="'Liberation Serif', serif" font-weight="bold" font-size="15" x="208.60" y="245.5" text-anchor="middle">50</text><text font-family="'Liberation Serif', serif" font-weight="bold" font-size="15" x="556.00" y="243.7" text-anchor="middle">50</text><text font-family="'Liberation Serif', serif" font-weight="bold" font-size="15" x="269.40" y="245.5" text-anchor="middle">60</text><text font-family="'Liberation Serif', serif" font-weight="bold" font-size="15" x="616.20" y="243.7" text-anchor="middle">60</text><text font-family="'Liberation Serif', serif" font-weight="bold" font-size="15" x="329.70" y="245.5" text-anchor="middle">70</text><text font-family="'Liberation Serif', serif" font-weight="bold" font-size="15" x="676.30" y="243.7" text-anchor="middle">70</text><text font-family="'Liberation Sans', sans-serif" font-weight="bold" font-size="18" transform="translate(1.25,9.97) scale(0.8947,0.9350)">a</text><text font-family="'Liberation Sans', sans-serif" font-weight="bold" font-size="18" transform="translate(351.62,14.85) scale(1.0500,0.9962)">b</text><text font-family="'Liberation Serif', serif" font-weight="bold" font-size="15" transform="translate(144.27,260.68) scale(0.9744,0.9736)">2-Theta (°)</text><text font-family="'Liberation Serif', serif" font-weight="bold" font-size="15" transform="translate(491.97,259.75) scale(0.9744,0.9509)">2-Theta (°)</text><text font-family="'Liberation Serif', serif" font-weight="bold" font-size="15" transform="translate(29.30,85.00) scale(0.9705,1.0000)">x=10</text><text font-family="'Liberation Serif', serif" font-weight="bold" font-size="15" transform="translate(29.30,128.60) scale(0.9376,1.0000)">x=7</text><text font-family="'Liberation Serif', serif" font-weight="bold" font-size="15" transform="translate(29.30,171.60) scale(0.9247,1.0000)">x=4</text><text font-family="'Liberation Serif', serif" font-weight="bold" font-size="15" transform="translate(29.60,216.00) scale(0.9187,1.0000)">x=1</text><text font-family="'Liberation Serif', serif" font-weight="bold" font-size="15" transform="translate(639.85,69.20) scale(0.7573,0.8400)">1550°C</text><text font-family="'Liberation Serif', serif" font-weight="bold" font-size="15" transform="translate(639.85,105.90) scale(0.7573,0.8400)">1500°C</text><text font-family="'Liberation Serif', serif" font-weight="bold" font-size="15" transform="translate(639.85,141.90) scale(0.7573,0.8400)">1450°C</text><text font-family="'Liberation Serif', serif" font-weight="bold" font-size="15" transform="translate(639.85,178.90) scale(0.7573,0.8400)">1400°C</text><text font-family="'Liberation Serif', serif" font-weight="bold" font-size="15" transform="translate(639.85,215.90) scale(0.7573,0.8400)">1350°C</text><text font-family="'Liberation Serif', serif" font-weight="bold" font-size="15" transform="translate(274.46,22.20) scale(0.9799,0.9550)">t-ZrO<tspan font-size="9.2" dy="4.3">2</tspan></text><text font-family="'Liberation Serif', serif" font-weight="bold" font-size="15" transform="translate(274.31,39.80) scale(0.9818,0.9550)">m-ZrO<tspan font-size="9.2" dy="4.3">2</tspan></text><text font-family="'Liberation Serif', serif" font-weight="bold" font-size="15" transform="translate(275.06,58.80) scale(0.9737,0.9550)">FeAl<tspan font-size="9.2" dy="4.3">2</tspan><tspan dy="-4.3">O</tspan><tspan font-size="9.2" dy="4.3">4</tspan></text><text font-family="'Liberation Serif', serif" font-weight="bold" font-size="15" transform="translate(623.16,18.90) scale(0.9633,0.9550)">t-ZrO<tspan font-size="9.2" dy="4.3">2</tspan></text><text font-family="'Liberation Serif', serif" font-weight="bold" font-size="15" transform="translate(622.81,34.90) scale(0.9717,0.9550)">m-ZrO<tspan font-size="9.2" dy="4.3">2</tspan></text><text font-family="'Liberation Serif', serif" font-weight="bold" font-size="15" transform="translate(623.46,51.80) scale(0.9737,0.9550)">FeAl<tspan font-size="9.2" dy="4.3">2</tspan><tspan dy="-4.3">O</tspan><tspan font-size="9.2" dy="4.3">4</tspan></text><text font-family="'Liberation Serif', serif" font-weight="bold" font-size="15" transform="translate(11.97,162.00) rotate(-90) scale(0.9924,0.9630)">Intensity (a.u.)</text><text font-family="'Liberation Serif', serif" font-weight="bold" font-size="15" transform="translate(359.91,160.90) rotate(-90) scale(0.9924,0.9185)">Intensity (a.u.)</text></g></svg>
</body></html>
